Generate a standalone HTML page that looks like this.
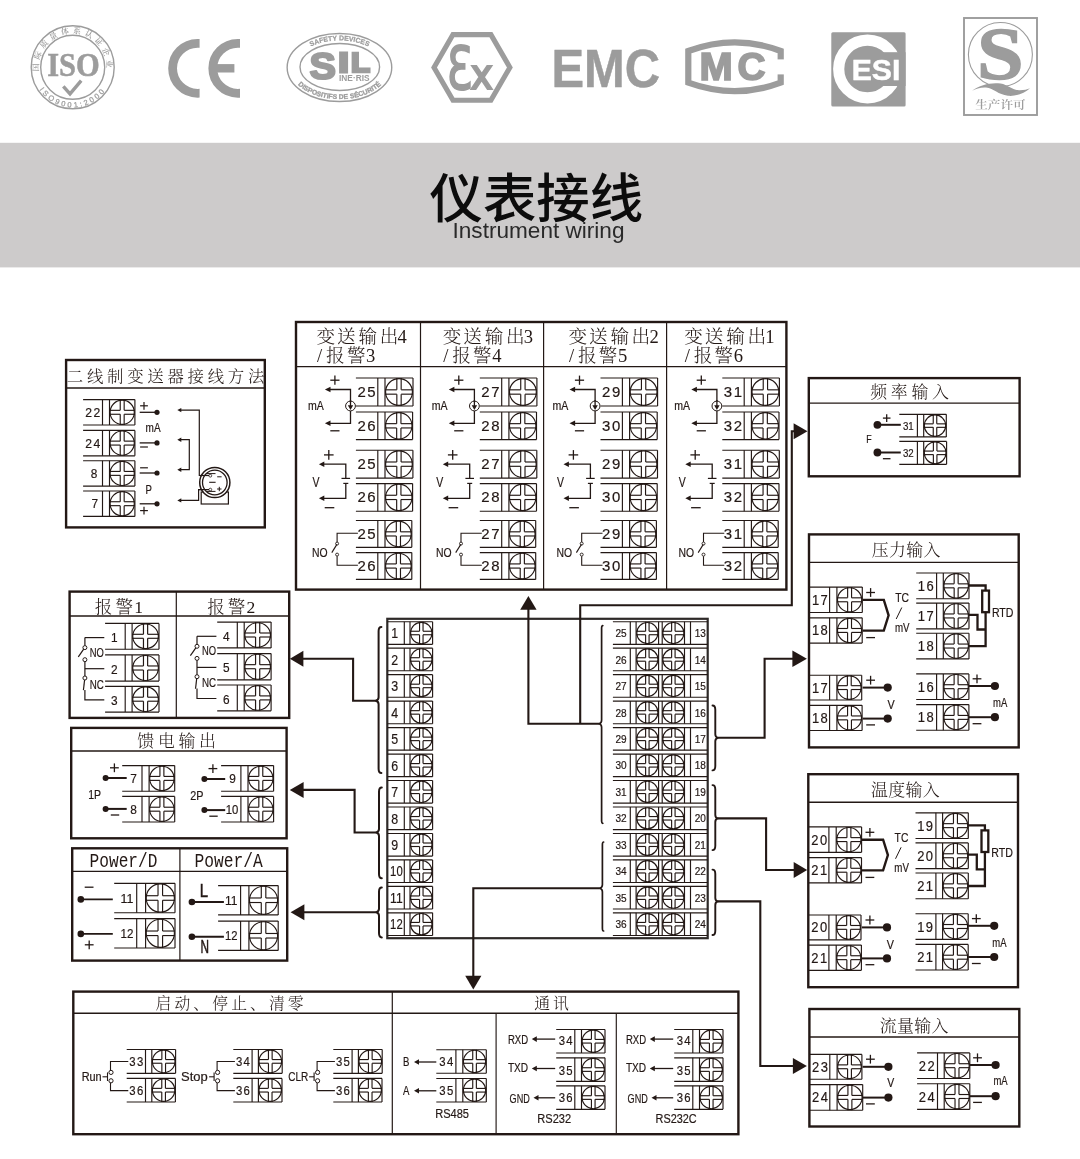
<!DOCTYPE html>
<html lang="zh"><head><meta charset="utf-8"><title>仪表接线 Instrument wiring</title>
<style>
html,body{margin:0;padding:0;background:#fff;}
body{width:1080px;height:1159px;overflow:hidden;position:relative;font-family:"Liberation Sans", "Noto Sans CJK SC", sans-serif;}
svg{position:absolute;left:0;top:0;display:block;will-change:transform;}
text{white-space:pre;}
</style></head><body>
<svg width="1080" height="1159" viewBox="0 0 1080 1159">
<rect x="0" y="142.8" width="1080" height="124.6" fill="#cdcbcb"/>
<text x="536.30" y="218.00" font-size="53.5" font-family='"Liberation Sans", "Noto Sans CJK SC", sans-serif' fill="#0c0c0c" text-anchor="middle" textLength="213.50" lengthAdjust="spacingAndGlyphs" font-weight="500" >仪表接线</text>
<text x="538.50" y="237.50" font-size="21.5" font-family='"Liberation Sans", "Noto Sans CJK SC", sans-serif' fill="#2a2a2a" text-anchor="middle" textLength="172.00" lengthAdjust="spacingAndGlyphs" font-weight="300" >Instrument wiring</text>
<g fill="none" stroke="#9c9c9c">
<circle cx="72.7" cy="67.3" r="41.5" stroke-width="1.4"/>
<circle cx="72.7" cy="67.3" r="32" stroke-width="1.4"/>
</g>
<text x="73.50" y="76.30" font-size="34" font-family='"Liberation Serif", "Noto Serif CJK SC", serif' fill="#9c9c9c" text-anchor="middle" textLength="52.50" lengthAdjust="spacingAndGlyphs" font-weight="700" stroke="#9c9c9c" stroke-width="0.5">ISO</text>
<polyline points="63.3,86.3 70,93.8 81.2,80.6" fill="none" stroke="#9c9c9c" stroke-width="3.4"/>
<defs><path id="isoTop" d="M 40.84,78.89 A 33.9,33.9 0 1 1 104.56,78.89"/><path id="isoBot" d="M 33.11,74.28 A 40.2,40.2 0 0 0 112.29,74.28"/></defs>
<text font-size="7.9" font-weight="600" font-family='"Liberation Serif", "Noto Serif CJK SC", serif' fill="#9c9c9c" text-anchor="middle" letter-spacing="3.55"><textPath href="#isoTop" startOffset="50%">国际质量体系认证企业</textPath></text>
<text font-size="7.5" font-family='"Liberation Sans", "Noto Sans CJK SC", sans-serif' fill="#9c9c9c" text-anchor="middle" letter-spacing="2.5" stroke="#9c9c9c" stroke-width="0.25"><textPath href="#isoBot" startOffset="50%">ISO9001:2000</textPath></text>
<defs><clipPath id="ceC"><rect x="160" y="30" width="39.6" height="76"/></clipPath><clipPath id="ceE"><rect x="200" y="30" width="40" height="76"/></clipPath></defs>
<circle cx="197.6" cy="68.3" r="25" fill="none" stroke="#9c9c9c" stroke-width="8.8" clip-path="url(#ceC)"/>
<circle cx="237.8" cy="68.3" r="25" fill="none" stroke="#9c9c9c" stroke-width="8.8" clip-path="url(#ceE)"/>
<rect x="216" y="64.1" width="18.4" height="8.4" fill="#9c9c9c"/>
<ellipse cx="339.45" cy="67.5" rx="52.3" ry="34" fill="none" stroke="#9c9c9c" stroke-width="1.4"/>
<ellipse cx="339.8" cy="66.95" rx="39.8" ry="23.5" fill="none" stroke="#9c9c9c" stroke-width="1.4"/>
<text font-family='"Liberation Sans", "Noto Sans CJK SC", sans-serif' font-weight="700" fill="#9c9c9c" stroke="#9c9c9c" stroke-linejoin="round"><tspan x="309.6" y="79.1" font-size="37" textLength="26.4" lengthAdjust="spacingAndGlyphs" stroke-width="2.2">S</tspan><tspan x="338.6" y="72.2" font-size="27.8" textLength="10.2" lengthAdjust="spacingAndGlyphs" stroke-width="2.8" stroke-linejoin="miter">I</tspan><tspan x="350.9" y="72.2" font-size="27.8" textLength="19" lengthAdjust="spacingAndGlyphs" stroke-width="2.6" stroke-linejoin="miter">L</tspan></text>
<text x="354.30" y="80.70" font-size="8.6" font-family='"Liberation Sans", "Noto Sans CJK SC", sans-serif' fill="#9c9c9c" text-anchor="middle" textLength="30.50" lengthAdjust="spacingAndGlyphs" font-weight="700" >INE·RIS</text>
<defs><path id="silTop" d="M 294.79,72.32 A 45.5,27.2 0 1 1 384.41,72.32"/><path id="silBot" d="M 290.75,62.48 A 49.6,31.2 0 1 0 388.45,62.48"/></defs>
<text font-size="6.9" font-weight="700" font-family='"Liberation Sans", "Noto Sans CJK SC", sans-serif' fill="#9c9c9c" text-anchor="middle" letter-spacing="0" stroke="#9c9c9c" stroke-width="0.25"><textPath href="#silTop" startOffset="50%">SAFETY DEVICES</textPath></text>
<text font-size="6.8" font-weight="700" font-family='"Liberation Sans", "Noto Sans CJK SC", sans-serif' fill="#9c9c9c" text-anchor="middle" letter-spacing="0" stroke="#9c9c9c" stroke-width="0.3"><textPath href="#silBot" startOffset="50%">DISPOSITIFS DE SÉCURITÉ</textPath></text>
<polygon points="434.02,67.45 452.98,34.60 490.91,34.60 509.88,67.45 490.91,100.30 452.99,100.30" fill="none" stroke="#9c9c9c" stroke-width="5.1"/>
<text font-family='"DejaVu Sans", "Liberation Sans", sans-serif' fill="#9c9c9c" stroke="#9c9c9c"><tspan x="446.7" y="89" font-size="59" textLength="25.5" lengthAdjust="spacingAndGlyphs" stroke-width="2">Ɛ</tspan><tspan x="470.6" y="89" font-size="42" textLength="22.4" lengthAdjust="spacingAndGlyphs" stroke-width="2.2">x</tspan></text>
<text x="605.70" y="87.10" font-size="54.3" font-family='"Liberation Sans", "Noto Sans CJK SC", sans-serif' fill="#9c9c9c" text-anchor="middle" textLength="108.60" lengthAdjust="spacingAndGlyphs" font-weight="700" stroke="#9c9c9c" stroke-width="0.5">EMC</text>
<path d="M 688.3,82.7 L 688.3,51 Q 735,33.6 780.7,51 L 780.7,82.7 Q 735,99.7 688.3,82.7 Z" fill="none" stroke="#9c9c9c" stroke-width="6.2"/>
<rect x="770" y="59.4" width="16" height="15" fill="#fff"/>
<text font-family='"Liberation Sans", "Noto Sans CJK SC", sans-serif' font-weight="700" font-size="38.5" fill="#9c9c9c" stroke="#9c9c9c" stroke-width="1.7" text-anchor="middle"><tspan x="716" y="79.8" textLength="33.2" lengthAdjust="spacingAndGlyphs">M</tspan><tspan x="751.4" y="79.8" textLength="28" lengthAdjust="spacingAndGlyphs">C</tspan></text>
<rect x="831.3" y="32.3" width="74.3" height="74.1" rx="1.5" fill="#9c9c9c"/>
<circle cx="867.5" cy="69" r="28.8" fill="none" stroke="#fff" stroke-width="11.2"/>
<rect x="868" y="52.2" width="37.6" height="33.8" fill="#9c9c9c"/>
<text x="876.00" y="80.30" font-size="30" font-family='"Liberation Sans", "Noto Sans CJK SC", sans-serif' fill="#fff" text-anchor="middle" textLength="48.60" lengthAdjust="spacingAndGlyphs" font-weight="700" stroke="#fff" stroke-width="0.5">ESI</text>
<rect x="964" y="18" width="73" height="97" fill="none" stroke="#9c9c9c" stroke-width="1.9"/>
<circle cx="1000.4" cy="54.5" r="32" fill="none" stroke="#9c9c9c" stroke-width="1.1"/>
<text x="1000.40" y="78.90" font-size="73" font-family='"Liberation Serif", "Noto Serif CJK SC", serif' fill="#9c9c9c" text-anchor="middle" textLength="46.60" lengthAdjust="spacingAndGlyphs" font-weight="700" stroke="#9c9c9c" stroke-width="1.4">S</text>
<path d="M 972.1,90.7 C 980,85 990,82.2 1000.6,83.4 C 1008,84.6 1012,90 1019,90.2 C 1024,90.3 1027,89.5 1030,88.3 C 1024,93.5 1016,96.5 1008,95.8 C 998,94.8 994,88.5 986,87.6 C 981,87.2 976,88.8 972.1,90.7 Z" fill="#9c9c9c"/>
<text x="1000.50" y="109.00" font-size="11.8" font-family='"Liberation Serif", "Noto Serif CJK SC", serif' fill="#9c9c9c" text-anchor="middle" textLength="50.50" lengthAdjust="spacingAndGlyphs" font-weight="600" >生产许可</text>
<rect x="66.10" y="360.00" width="198.70" height="167.40" fill="none" stroke="#231815" stroke-width="2.4"/>
<line x1="66.10" y1="388.00" x2="264.80" y2="388.00" stroke="#231815" stroke-width="1.4" />
<text x="165.60" y="382.30" font-size="16.4" font-family='"Liberation Serif", "Noto Serif CJK SC", serif' fill="#231815" text-anchor="middle" font-weight="300" textLength="197.50" lengthAdjust="spacing">二线制变送器接线方法</text>
<line x1="83.10" y1="399.60" x2="134.90" y2="399.60" stroke="#231815" stroke-width="1.15" />
<line x1="83.10" y1="425.00" x2="134.90" y2="425.00" stroke="#231815" stroke-width="1.15" />
<line x1="102.50" y1="399.60" x2="102.50" y2="425.00" stroke="#231815" stroke-width="1.15" />
<line x1="109.50" y1="399.60" x2="109.50" y2="425.00" stroke="#231815" stroke-width="1.15" />
<line x1="134.90" y1="399.60" x2="134.90" y2="425.00" stroke="#231815" stroke-width="1.15" />
<circle cx="122.20" cy="412.30" r="12.10" fill="none" stroke="#231815" stroke-width="1.15"/>
<line x1="109.50" y1="410.33" x2="120.23" y2="410.33" stroke="#231815" stroke-width="1.15" />
<line x1="124.17" y1="410.33" x2="134.90" y2="410.33" stroke="#231815" stroke-width="1.15" />
<line x1="120.23" y1="399.60" x2="120.23" y2="410.33" stroke="#231815" stroke-width="1.15" />
<line x1="120.23" y1="414.27" x2="120.23" y2="425.00" stroke="#231815" stroke-width="1.15" />
<line x1="109.50" y1="414.27" x2="120.23" y2="414.27" stroke="#231815" stroke-width="1.15" />
<line x1="124.17" y1="414.27" x2="134.90" y2="414.27" stroke="#231815" stroke-width="1.15" />
<line x1="124.17" y1="399.60" x2="124.17" y2="410.33" stroke="#231815" stroke-width="1.15" />
<line x1="124.17" y1="414.27" x2="124.17" y2="425.00" stroke="#231815" stroke-width="1.15" />
<text x="93.47" y="417.09" font-size="13.3" font-family='"Liberation Sans", "Noto Sans CJK SC", sans-serif' fill="#231815" text-anchor="middle" textLength="16.20" lengthAdjust="spacingAndGlyphs" letter-spacing="1.46"  stroke="#231815" stroke-width="0.2">22</text>
<line x1="83.10" y1="430.40" x2="134.90" y2="430.40" stroke="#231815" stroke-width="1.15" />
<line x1="83.10" y1="455.80" x2="134.90" y2="455.80" stroke="#231815" stroke-width="1.15" />
<line x1="102.50" y1="430.40" x2="102.50" y2="455.80" stroke="#231815" stroke-width="1.15" />
<line x1="109.50" y1="430.40" x2="109.50" y2="455.80" stroke="#231815" stroke-width="1.15" />
<line x1="134.90" y1="430.40" x2="134.90" y2="455.80" stroke="#231815" stroke-width="1.15" />
<circle cx="122.20" cy="443.10" r="12.10" fill="none" stroke="#231815" stroke-width="1.15"/>
<line x1="109.50" y1="441.13" x2="120.23" y2="441.13" stroke="#231815" stroke-width="1.15" />
<line x1="124.17" y1="441.13" x2="134.90" y2="441.13" stroke="#231815" stroke-width="1.15" />
<line x1="120.23" y1="430.40" x2="120.23" y2="441.13" stroke="#231815" stroke-width="1.15" />
<line x1="120.23" y1="445.07" x2="120.23" y2="455.80" stroke="#231815" stroke-width="1.15" />
<line x1="109.50" y1="445.07" x2="120.23" y2="445.07" stroke="#231815" stroke-width="1.15" />
<line x1="124.17" y1="445.07" x2="134.90" y2="445.07" stroke="#231815" stroke-width="1.15" />
<line x1="124.17" y1="430.40" x2="124.17" y2="441.13" stroke="#231815" stroke-width="1.15" />
<line x1="124.17" y1="445.07" x2="124.17" y2="455.80" stroke="#231815" stroke-width="1.15" />
<text x="93.47" y="447.89" font-size="13.3" font-family='"Liberation Sans", "Noto Sans CJK SC", sans-serif' fill="#231815" text-anchor="middle" textLength="16.20" lengthAdjust="spacingAndGlyphs" letter-spacing="1.46"  stroke="#231815" stroke-width="0.2">24</text>
<line x1="83.10" y1="460.70" x2="134.90" y2="460.70" stroke="#231815" stroke-width="1.15" />
<line x1="83.10" y1="486.10" x2="134.90" y2="486.10" stroke="#231815" stroke-width="1.15" />
<line x1="102.50" y1="460.70" x2="102.50" y2="486.10" stroke="#231815" stroke-width="1.15" />
<line x1="109.50" y1="460.70" x2="109.50" y2="486.10" stroke="#231815" stroke-width="1.15" />
<line x1="134.90" y1="460.70" x2="134.90" y2="486.10" stroke="#231815" stroke-width="1.15" />
<circle cx="122.20" cy="473.40" r="12.10" fill="none" stroke="#231815" stroke-width="1.15"/>
<line x1="109.50" y1="471.43" x2="120.23" y2="471.43" stroke="#231815" stroke-width="1.15" />
<line x1="124.17" y1="471.43" x2="134.90" y2="471.43" stroke="#231815" stroke-width="1.15" />
<line x1="120.23" y1="460.70" x2="120.23" y2="471.43" stroke="#231815" stroke-width="1.15" />
<line x1="120.23" y1="475.37" x2="120.23" y2="486.10" stroke="#231815" stroke-width="1.15" />
<line x1="109.50" y1="475.37" x2="120.23" y2="475.37" stroke="#231815" stroke-width="1.15" />
<line x1="124.17" y1="475.37" x2="134.90" y2="475.37" stroke="#231815" stroke-width="1.15" />
<line x1="124.17" y1="460.70" x2="124.17" y2="471.43" stroke="#231815" stroke-width="1.15" />
<line x1="124.17" y1="475.37" x2="124.17" y2="486.10" stroke="#231815" stroke-width="1.15" />
<text x="94.00" y="478.19" font-size="13.3" font-family='"Liberation Sans", "Noto Sans CJK SC", sans-serif' fill="#231815" text-anchor="middle" textLength="6.60" lengthAdjust="spacingAndGlyphs"  stroke="#231815" stroke-width="0.2">8</text>
<line x1="83.10" y1="491.00" x2="134.90" y2="491.00" stroke="#231815" stroke-width="1.15" />
<line x1="83.10" y1="516.40" x2="134.90" y2="516.40" stroke="#231815" stroke-width="1.15" />
<line x1="102.50" y1="491.00" x2="102.50" y2="516.40" stroke="#231815" stroke-width="1.15" />
<line x1="109.50" y1="491.00" x2="109.50" y2="516.40" stroke="#231815" stroke-width="1.15" />
<line x1="134.90" y1="491.00" x2="134.90" y2="516.40" stroke="#231815" stroke-width="1.15" />
<circle cx="122.20" cy="503.70" r="12.10" fill="none" stroke="#231815" stroke-width="1.15"/>
<line x1="109.50" y1="501.73" x2="120.23" y2="501.73" stroke="#231815" stroke-width="1.15" />
<line x1="124.17" y1="501.73" x2="134.90" y2="501.73" stroke="#231815" stroke-width="1.15" />
<line x1="120.23" y1="491.00" x2="120.23" y2="501.73" stroke="#231815" stroke-width="1.15" />
<line x1="120.23" y1="505.67" x2="120.23" y2="516.40" stroke="#231815" stroke-width="1.15" />
<line x1="109.50" y1="505.67" x2="120.23" y2="505.67" stroke="#231815" stroke-width="1.15" />
<line x1="124.17" y1="505.67" x2="134.90" y2="505.67" stroke="#231815" stroke-width="1.15" />
<line x1="124.17" y1="491.00" x2="124.17" y2="501.73" stroke="#231815" stroke-width="1.15" />
<line x1="124.17" y1="505.67" x2="124.17" y2="516.40" stroke="#231815" stroke-width="1.15" />
<text x="94.70" y="508.49" font-size="13.3" font-family='"Liberation Sans", "Noto Sans CJK SC", sans-serif' fill="#231815" text-anchor="middle" textLength="6.60" lengthAdjust="spacingAndGlyphs"  stroke="#231815" stroke-width="0.2">7</text>
<line x1="139.70" y1="412.30" x2="157.00" y2="412.30" stroke="#231815" stroke-width="1.3" />
<circle cx="157.00" cy="412.30" r="2.60" fill="#231815"/>
<line x1="139.70" y1="442.90" x2="157.00" y2="442.90" stroke="#231815" stroke-width="1.3" />
<circle cx="157.00" cy="442.90" r="2.60" fill="#231815"/>
<line x1="139.70" y1="473.00" x2="157.00" y2="473.00" stroke="#231815" stroke-width="1.3" />
<circle cx="157.00" cy="473.00" r="2.60" fill="#231815"/>
<line x1="139.70" y1="503.80" x2="157.00" y2="503.80" stroke="#231815" stroke-width="1.3" />
<circle cx="157.00" cy="503.80" r="2.60" fill="#231815"/>
<line x1="140.10" y1="405.80" x2="147.90" y2="405.80" stroke="#231815" stroke-width="1.2" />
<line x1="144.00" y1="401.90" x2="144.00" y2="409.70" stroke="#231815" stroke-width="1.2" />
<line x1="140.10" y1="447.00" x2="147.90" y2="447.00" stroke="#231815" stroke-width="1.2" />
<line x1="140.10" y1="467.80" x2="147.90" y2="467.80" stroke="#231815" stroke-width="1.2" />
<line x1="140.10" y1="510.60" x2="147.90" y2="510.60" stroke="#231815" stroke-width="1.2" />
<line x1="144.00" y1="506.70" x2="144.00" y2="514.50" stroke="#231815" stroke-width="1.2" />
<text x="145.60" y="431.70" font-size="13.3" font-family='"Liberation Sans", "Noto Sans CJK SC", sans-serif' fill="#231815" textLength="15.00" lengthAdjust="spacingAndGlyphs"  stroke="#231815" stroke-width="0.2">mA</text>
<text x="145.50" y="494.40" font-size="13" font-family='"Liberation Sans", "Noto Sans CJK SC", sans-serif' fill="#231815" textLength="6.40" lengthAdjust="spacingAndGlyphs"  stroke="#231815" stroke-width="0.2">P</text>
<polyline points="180.00,410.10 199.30,410.10 199.30,475.50 210.00,475.50" fill="none" stroke="#231815" stroke-width="1.2" />
<polygon points="177.30,410.10 181.30,407.90 181.30,412.30" fill="#231815"/>
<polyline points="180.00,439.70 189.30,439.70 189.30,469.70 180.00,469.70" fill="none" stroke="#231815" stroke-width="1.2" />
<polygon points="177.30,439.70 181.30,437.50 181.30,441.90" fill="#231815"/>
<polygon points="177.30,469.70 181.30,467.50 181.30,471.90" fill="#231815"/>
<polyline points="180.00,500.40 198.60,500.40 198.60,489.60 210.00,489.60" fill="none" stroke="#231815" stroke-width="1.2" />
<polygon points="177.30,500.40 181.30,498.20 181.30,502.60" fill="#231815"/>
<rect x="201.20" y="492.00" width="27.20" height="12.00" fill="#fff" stroke="#231815" stroke-width="1.2"/>
<circle cx="214.8" cy="482.5" r="15.1" fill="#fff" stroke="#231815" stroke-width="1.5"/>
<circle cx="214.80" cy="482.50" r="12.30" fill="none" stroke="#231815" stroke-width="1.3"/>
<circle cx="210.30" cy="475.70" r="1.40" fill="none" stroke="#231815" stroke-width="0.8"/>
<circle cx="210.30" cy="489.60" r="1.40" fill="none" stroke="#231815" stroke-width="0.8"/>
<line x1="199.30" y1="475.50" x2="209.00" y2="475.50" stroke="#231815" stroke-width="1.2" />
<line x1="198.60" y1="489.60" x2="209.00" y2="489.60" stroke="#231815" stroke-width="1.2" />
<line x1="206.00" y1="473.60" x2="215.50" y2="473.60" stroke="#231815" stroke-width="1" />
<line x1="206.00" y1="491.40" x2="215.50" y2="491.40" stroke="#231815" stroke-width="1" />
<line x1="217.20" y1="476.80" x2="221.60" y2="476.80" stroke="#231815" stroke-width="1" />
<line x1="209.20" y1="482.30" x2="215.60" y2="482.30" stroke="#231815" stroke-width="1.1" />
<line x1="217.10" y1="489.00" x2="221.50" y2="489.00" stroke="#231815" stroke-width="1" />
<line x1="219.30" y1="486.80" x2="219.30" y2="491.20" stroke="#231815" stroke-width="1" />
<rect x="69.60" y="591.60" width="219.60" height="126.30" fill="none" stroke="#231815" stroke-width="2.4"/>
<line x1="69.60" y1="616.00" x2="289.20" y2="616.00" stroke="#231815" stroke-width="1.4" />
<line x1="176.30" y1="591.60" x2="176.30" y2="717.90" stroke="#231815" stroke-width="1.2" />
<text x="94.8 115.4 134.2" y="612.9" font-size="17.6" font-weight="300" font-family='"Liberation Serif", "Noto Serif CJK SC", serif' fill="#231815">报警1</text>
<text x="207.2 227.8 246.6" y="612.9" font-size="17.6" font-weight="300" font-family='"Liberation Serif", "Noto Serif CJK SC", serif' fill="#231815">报警2</text>
<line x1="105.10" y1="623.40" x2="159.00" y2="623.40" stroke="#231815" stroke-width="1.15" />
<line x1="105.10" y1="649.20" x2="159.00" y2="649.20" stroke="#231815" stroke-width="1.15" />
<line x1="125.20" y1="623.40" x2="125.20" y2="649.20" stroke="#231815" stroke-width="1.15" />
<line x1="132.10" y1="623.40" x2="132.10" y2="649.20" stroke="#231815" stroke-width="1.15" />
<line x1="159.00" y1="623.40" x2="159.00" y2="649.20" stroke="#231815" stroke-width="1.15" />
<g transform="translate(145.55,636.30) scale(1.0426,1) translate(-145.55,-636.30)">
<circle cx="145.55" cy="636.30" r="12.30" fill="none" stroke="#231815" stroke-width="1.15"/>
<line x1="132.65" y1="634.30" x2="143.55" y2="634.30" stroke="#231815" stroke-width="1.15" />
<line x1="147.55" y1="634.30" x2="158.45" y2="634.30" stroke="#231815" stroke-width="1.15" />
<line x1="143.55" y1="623.40" x2="143.55" y2="634.30" stroke="#231815" stroke-width="1.15" />
<line x1="143.55" y1="638.30" x2="143.55" y2="649.20" stroke="#231815" stroke-width="1.15" />
<line x1="132.65" y1="638.30" x2="143.55" y2="638.30" stroke="#231815" stroke-width="1.15" />
<line x1="147.55" y1="638.30" x2="158.45" y2="638.30" stroke="#231815" stroke-width="1.15" />
<line x1="147.55" y1="623.40" x2="147.55" y2="634.30" stroke="#231815" stroke-width="1.15" />
<line x1="147.55" y1="638.30" x2="147.55" y2="649.20" stroke="#231815" stroke-width="1.15" />
</g>
<text x="114.25" y="641.99" font-size="13.3" font-family='"Liberation Sans", "Noto Sans CJK SC", sans-serif' fill="#231815" text-anchor="middle" textLength="6.60" lengthAdjust="spacingAndGlyphs"  stroke="#231815" stroke-width="0.2">1</text>
<line x1="105.10" y1="654.90" x2="159.00" y2="654.90" stroke="#231815" stroke-width="1.15" />
<line x1="105.10" y1="681.10" x2="159.00" y2="681.10" stroke="#231815" stroke-width="1.15" />
<line x1="125.20" y1="654.90" x2="125.20" y2="681.10" stroke="#231815" stroke-width="1.15" />
<line x1="132.10" y1="654.90" x2="132.10" y2="681.10" stroke="#231815" stroke-width="1.15" />
<line x1="159.00" y1="654.90" x2="159.00" y2="681.10" stroke="#231815" stroke-width="1.15" />
<g transform="translate(145.55,668.00) scale(1.0267,1) translate(-145.55,-668.00)">
<circle cx="145.55" cy="668.00" r="12.50" fill="none" stroke="#231815" stroke-width="1.15"/>
<line x1="132.45" y1="665.97" x2="143.52" y2="665.97" stroke="#231815" stroke-width="1.15" />
<line x1="147.58" y1="665.97" x2="158.65" y2="665.97" stroke="#231815" stroke-width="1.15" />
<line x1="143.52" y1="654.90" x2="143.52" y2="665.97" stroke="#231815" stroke-width="1.15" />
<line x1="143.52" y1="670.03" x2="143.52" y2="681.10" stroke="#231815" stroke-width="1.15" />
<line x1="132.45" y1="670.03" x2="143.52" y2="670.03" stroke="#231815" stroke-width="1.15" />
<line x1="147.58" y1="670.03" x2="158.65" y2="670.03" stroke="#231815" stroke-width="1.15" />
<line x1="147.58" y1="654.90" x2="147.58" y2="665.97" stroke="#231815" stroke-width="1.15" />
<line x1="147.58" y1="670.03" x2="147.58" y2="681.10" stroke="#231815" stroke-width="1.15" />
</g>
<text x="114.25" y="673.69" font-size="13.3" font-family='"Liberation Sans", "Noto Sans CJK SC", sans-serif' fill="#231815" text-anchor="middle" textLength="6.60" lengthAdjust="spacingAndGlyphs"  stroke="#231815" stroke-width="0.2">2</text>
<line x1="105.10" y1="686.30" x2="159.00" y2="686.30" stroke="#231815" stroke-width="1.15" />
<line x1="105.10" y1="712.10" x2="159.00" y2="712.10" stroke="#231815" stroke-width="1.15" />
<line x1="125.20" y1="686.30" x2="125.20" y2="712.10" stroke="#231815" stroke-width="1.15" />
<line x1="132.10" y1="686.30" x2="132.10" y2="712.10" stroke="#231815" stroke-width="1.15" />
<line x1="159.00" y1="686.30" x2="159.00" y2="712.10" stroke="#231815" stroke-width="1.15" />
<g transform="translate(145.55,699.20) scale(1.0426,1) translate(-145.55,-699.20)">
<circle cx="145.55" cy="699.20" r="12.30" fill="none" stroke="#231815" stroke-width="1.15"/>
<line x1="132.65" y1="697.20" x2="143.55" y2="697.20" stroke="#231815" stroke-width="1.15" />
<line x1="147.55" y1="697.20" x2="158.45" y2="697.20" stroke="#231815" stroke-width="1.15" />
<line x1="143.55" y1="686.30" x2="143.55" y2="697.20" stroke="#231815" stroke-width="1.15" />
<line x1="143.55" y1="701.20" x2="143.55" y2="712.10" stroke="#231815" stroke-width="1.15" />
<line x1="132.65" y1="701.20" x2="143.55" y2="701.20" stroke="#231815" stroke-width="1.15" />
<line x1="147.55" y1="701.20" x2="158.45" y2="701.20" stroke="#231815" stroke-width="1.15" />
<line x1="147.55" y1="686.30" x2="147.55" y2="697.20" stroke="#231815" stroke-width="1.15" />
<line x1="147.55" y1="701.20" x2="147.55" y2="712.10" stroke="#231815" stroke-width="1.15" />
</g>
<text x="114.25" y="704.89" font-size="13.3" font-family='"Liberation Sans", "Noto Sans CJK SC", sans-serif' fill="#231815" text-anchor="middle" textLength="6.60" lengthAdjust="spacingAndGlyphs"  stroke="#231815" stroke-width="0.2">3</text>
<line x1="84.90" y1="637.60" x2="104.30" y2="637.60" stroke="#231815" stroke-width="1.2" />
<line x1="84.90" y1="637.60" x2="84.90" y2="645.60" stroke="#231815" stroke-width="1.2" />
<circle cx="84.90" cy="647.60" r="2.00" fill="none" stroke="#231815" stroke-width="1"/>
<line x1="83.70" y1="649.20" x2="78.30" y2="656.90" stroke="#231815" stroke-width="1.2" />
<circle cx="84.90" cy="659.70" r="2.00" fill="none" stroke="#231815" stroke-width="1"/>
<line x1="84.90" y1="661.70" x2="84.90" y2="676.00" stroke="#231815" stroke-width="1.2" />
<line x1="84.90" y1="668.70" x2="104.30" y2="668.70" stroke="#231815" stroke-width="1.2" />
<circle cx="84.90" cy="678.00" r="2.00" fill="none" stroke="#231815" stroke-width="1"/>
<line x1="84.60" y1="680.00" x2="83.40" y2="690.10" stroke="#231815" stroke-width="1.2" />
<polyline points="84.90,689.90 84.90,699.80 104.30,699.80" fill="none" stroke="#231815" stroke-width="1.2" />
<text x="89.80" y="656.50" font-size="13" font-family='"Liberation Sans", "Noto Sans CJK SC", sans-serif' fill="#231815" textLength="14.10" lengthAdjust="spacingAndGlyphs"  stroke="#231815" stroke-width="0.2">NO</text>
<text x="89.80" y="688.70" font-size="13" font-family='"Liberation Sans", "Noto Sans CJK SC", sans-serif' fill="#231815" textLength="14.10" lengthAdjust="spacingAndGlyphs"  stroke="#231815" stroke-width="0.2">NC</text>
<line x1="217.20" y1="622.10" x2="271.10" y2="622.10" stroke="#231815" stroke-width="1.15" />
<line x1="217.20" y1="647.90" x2="271.10" y2="647.90" stroke="#231815" stroke-width="1.15" />
<line x1="237.30" y1="622.10" x2="237.30" y2="647.90" stroke="#231815" stroke-width="1.15" />
<line x1="244.20" y1="622.10" x2="244.20" y2="647.90" stroke="#231815" stroke-width="1.15" />
<line x1="271.10" y1="622.10" x2="271.10" y2="647.90" stroke="#231815" stroke-width="1.15" />
<g transform="translate(257.65,635.00) scale(1.0426,1) translate(-257.65,-635.00)">
<circle cx="257.65" cy="635.00" r="12.30" fill="none" stroke="#231815" stroke-width="1.15"/>
<line x1="244.75" y1="633.00" x2="255.65" y2="633.00" stroke="#231815" stroke-width="1.15" />
<line x1="259.65" y1="633.00" x2="270.55" y2="633.00" stroke="#231815" stroke-width="1.15" />
<line x1="255.65" y1="622.10" x2="255.65" y2="633.00" stroke="#231815" stroke-width="1.15" />
<line x1="255.65" y1="637.00" x2="255.65" y2="647.90" stroke="#231815" stroke-width="1.15" />
<line x1="244.75" y1="637.00" x2="255.65" y2="637.00" stroke="#231815" stroke-width="1.15" />
<line x1="259.65" y1="637.00" x2="270.55" y2="637.00" stroke="#231815" stroke-width="1.15" />
<line x1="259.65" y1="622.10" x2="259.65" y2="633.00" stroke="#231815" stroke-width="1.15" />
<line x1="259.65" y1="637.00" x2="259.65" y2="647.90" stroke="#231815" stroke-width="1.15" />
</g>
<text x="226.35" y="640.69" font-size="13.3" font-family='"Liberation Sans", "Noto Sans CJK SC", sans-serif' fill="#231815" text-anchor="middle" textLength="6.60" lengthAdjust="spacingAndGlyphs"  stroke="#231815" stroke-width="0.2">4</text>
<line x1="217.20" y1="653.60" x2="271.10" y2="653.60" stroke="#231815" stroke-width="1.15" />
<line x1="217.20" y1="679.80" x2="271.10" y2="679.80" stroke="#231815" stroke-width="1.15" />
<line x1="237.30" y1="653.60" x2="237.30" y2="679.80" stroke="#231815" stroke-width="1.15" />
<line x1="244.20" y1="653.60" x2="244.20" y2="679.80" stroke="#231815" stroke-width="1.15" />
<line x1="271.10" y1="653.60" x2="271.10" y2="679.80" stroke="#231815" stroke-width="1.15" />
<g transform="translate(257.65,666.70) scale(1.0267,1) translate(-257.65,-666.70)">
<circle cx="257.65" cy="666.70" r="12.50" fill="none" stroke="#231815" stroke-width="1.15"/>
<line x1="244.55" y1="664.67" x2="255.62" y2="664.67" stroke="#231815" stroke-width="1.15" />
<line x1="259.68" y1="664.67" x2="270.75" y2="664.67" stroke="#231815" stroke-width="1.15" />
<line x1="255.62" y1="653.60" x2="255.62" y2="664.67" stroke="#231815" stroke-width="1.15" />
<line x1="255.62" y1="668.73" x2="255.62" y2="679.80" stroke="#231815" stroke-width="1.15" />
<line x1="244.55" y1="668.73" x2="255.62" y2="668.73" stroke="#231815" stroke-width="1.15" />
<line x1="259.68" y1="668.73" x2="270.75" y2="668.73" stroke="#231815" stroke-width="1.15" />
<line x1="259.68" y1="653.60" x2="259.68" y2="664.67" stroke="#231815" stroke-width="1.15" />
<line x1="259.68" y1="668.73" x2="259.68" y2="679.80" stroke="#231815" stroke-width="1.15" />
</g>
<text x="226.35" y="672.39" font-size="13.3" font-family='"Liberation Sans", "Noto Sans CJK SC", sans-serif' fill="#231815" text-anchor="middle" textLength="6.60" lengthAdjust="spacingAndGlyphs"  stroke="#231815" stroke-width="0.2">5</text>
<line x1="217.20" y1="685.00" x2="271.10" y2="685.00" stroke="#231815" stroke-width="1.15" />
<line x1="217.20" y1="710.80" x2="271.10" y2="710.80" stroke="#231815" stroke-width="1.15" />
<line x1="237.30" y1="685.00" x2="237.30" y2="710.80" stroke="#231815" stroke-width="1.15" />
<line x1="244.20" y1="685.00" x2="244.20" y2="710.80" stroke="#231815" stroke-width="1.15" />
<line x1="271.10" y1="685.00" x2="271.10" y2="710.80" stroke="#231815" stroke-width="1.15" />
<g transform="translate(257.65,697.90) scale(1.0426,1) translate(-257.65,-697.90)">
<circle cx="257.65" cy="697.90" r="12.30" fill="none" stroke="#231815" stroke-width="1.15"/>
<line x1="244.75" y1="695.90" x2="255.65" y2="695.90" stroke="#231815" stroke-width="1.15" />
<line x1="259.65" y1="695.90" x2="270.55" y2="695.90" stroke="#231815" stroke-width="1.15" />
<line x1="255.65" y1="685.00" x2="255.65" y2="695.90" stroke="#231815" stroke-width="1.15" />
<line x1="255.65" y1="699.90" x2="255.65" y2="710.80" stroke="#231815" stroke-width="1.15" />
<line x1="244.75" y1="699.90" x2="255.65" y2="699.90" stroke="#231815" stroke-width="1.15" />
<line x1="259.65" y1="699.90" x2="270.55" y2="699.90" stroke="#231815" stroke-width="1.15" />
<line x1="259.65" y1="685.00" x2="259.65" y2="695.90" stroke="#231815" stroke-width="1.15" />
<line x1="259.65" y1="699.90" x2="259.65" y2="710.80" stroke="#231815" stroke-width="1.15" />
</g>
<text x="226.35" y="703.59" font-size="13.3" font-family='"Liberation Sans", "Noto Sans CJK SC", sans-serif' fill="#231815" text-anchor="middle" textLength="6.60" lengthAdjust="spacingAndGlyphs"  stroke="#231815" stroke-width="0.2">6</text>
<line x1="197.00" y1="636.30" x2="216.40" y2="636.30" stroke="#231815" stroke-width="1.2" />
<line x1="197.00" y1="636.30" x2="197.00" y2="644.30" stroke="#231815" stroke-width="1.2" />
<circle cx="197.00" cy="646.30" r="2.00" fill="none" stroke="#231815" stroke-width="1"/>
<line x1="195.80" y1="647.90" x2="190.40" y2="655.60" stroke="#231815" stroke-width="1.2" />
<circle cx="197.00" cy="658.40" r="2.00" fill="none" stroke="#231815" stroke-width="1"/>
<line x1="197.00" y1="660.40" x2="197.00" y2="674.70" stroke="#231815" stroke-width="1.2" />
<line x1="197.00" y1="667.40" x2="216.40" y2="667.40" stroke="#231815" stroke-width="1.2" />
<circle cx="197.00" cy="676.70" r="2.00" fill="none" stroke="#231815" stroke-width="1"/>
<line x1="196.70" y1="678.70" x2="195.50" y2="688.80" stroke="#231815" stroke-width="1.2" />
<polyline points="197.00,688.60 197.00,698.50 216.40,698.50" fill="none" stroke="#231815" stroke-width="1.2" />
<text x="201.90" y="655.20" font-size="13" font-family='"Liberation Sans", "Noto Sans CJK SC", sans-serif' fill="#231815" textLength="14.10" lengthAdjust="spacingAndGlyphs"  stroke="#231815" stroke-width="0.2">NO</text>
<text x="201.90" y="687.40" font-size="13" font-family='"Liberation Sans", "Noto Sans CJK SC", sans-serif' fill="#231815" textLength="14.10" lengthAdjust="spacingAndGlyphs"  stroke="#231815" stroke-width="0.2">NC</text>
<rect x="71.20" y="727.90" width="215.40" height="110.40" fill="none" stroke="#231815" stroke-width="2.4"/>
<line x1="71.20" y1="751.00" x2="286.60" y2="751.00" stroke="#231815" stroke-width="1.4" />
<text x="176.60" y="746.60" font-size="16.9" font-family='"Liberation Serif", "Noto Serif CJK SC", serif' fill="#231815" text-anchor="middle" font-weight="300" textLength="78.50" lengthAdjust="spacing">馈电输出</text>
<line x1="122.20" y1="765.60" x2="174.70" y2="765.60" stroke="#231815" stroke-width="1.15" />
<line x1="122.20" y1="791.20" x2="174.70" y2="791.20" stroke="#231815" stroke-width="1.15" />
<line x1="142.00" y1="765.60" x2="142.00" y2="791.20" stroke="#231815" stroke-width="1.15" />
<line x1="149.10" y1="765.60" x2="149.10" y2="791.20" stroke="#231815" stroke-width="1.15" />
<line x1="174.70" y1="765.60" x2="174.70" y2="791.20" stroke="#231815" stroke-width="1.15" />
<circle cx="161.90" cy="778.40" r="12.20" fill="none" stroke="#231815" stroke-width="1.15"/>
<line x1="149.10" y1="776.42" x2="159.92" y2="776.42" stroke="#231815" stroke-width="1.15" />
<line x1="163.88" y1="776.42" x2="174.70" y2="776.42" stroke="#231815" stroke-width="1.15" />
<line x1="159.92" y1="765.60" x2="159.92" y2="776.42" stroke="#231815" stroke-width="1.15" />
<line x1="159.92" y1="780.38" x2="159.92" y2="791.20" stroke="#231815" stroke-width="1.15" />
<line x1="149.10" y1="780.38" x2="159.92" y2="780.38" stroke="#231815" stroke-width="1.15" />
<line x1="163.88" y1="780.38" x2="174.70" y2="780.38" stroke="#231815" stroke-width="1.15" />
<line x1="163.88" y1="765.60" x2="163.88" y2="776.42" stroke="#231815" stroke-width="1.15" />
<line x1="163.88" y1="780.38" x2="163.88" y2="791.20" stroke="#231815" stroke-width="1.15" />
<text x="133.60" y="783.39" font-size="13.3" font-family='"Liberation Sans", "Noto Sans CJK SC", sans-serif' fill="#231815" text-anchor="middle" textLength="6.60" lengthAdjust="spacingAndGlyphs"  stroke="#231815" stroke-width="0.2">7</text>
<line x1="122.20" y1="796.40" x2="174.70" y2="796.40" stroke="#231815" stroke-width="1.15" />
<line x1="122.20" y1="822.00" x2="174.70" y2="822.00" stroke="#231815" stroke-width="1.15" />
<line x1="142.00" y1="796.40" x2="142.00" y2="822.00" stroke="#231815" stroke-width="1.15" />
<line x1="149.10" y1="796.40" x2="149.10" y2="822.00" stroke="#231815" stroke-width="1.15" />
<line x1="174.70" y1="796.40" x2="174.70" y2="822.00" stroke="#231815" stroke-width="1.15" />
<circle cx="161.90" cy="809.20" r="12.20" fill="none" stroke="#231815" stroke-width="1.15"/>
<line x1="149.10" y1="807.22" x2="159.92" y2="807.22" stroke="#231815" stroke-width="1.15" />
<line x1="163.88" y1="807.22" x2="174.70" y2="807.22" stroke="#231815" stroke-width="1.15" />
<line x1="159.92" y1="796.40" x2="159.92" y2="807.22" stroke="#231815" stroke-width="1.15" />
<line x1="159.92" y1="811.18" x2="159.92" y2="822.00" stroke="#231815" stroke-width="1.15" />
<line x1="149.10" y1="811.18" x2="159.92" y2="811.18" stroke="#231815" stroke-width="1.15" />
<line x1="163.88" y1="811.18" x2="174.70" y2="811.18" stroke="#231815" stroke-width="1.15" />
<line x1="163.88" y1="796.40" x2="163.88" y2="807.22" stroke="#231815" stroke-width="1.15" />
<line x1="163.88" y1="811.18" x2="163.88" y2="822.00" stroke="#231815" stroke-width="1.15" />
<text x="133.60" y="814.19" font-size="13.3" font-family='"Liberation Sans", "Noto Sans CJK SC", sans-serif' fill="#231815" text-anchor="middle" textLength="6.60" lengthAdjust="spacingAndGlyphs"  stroke="#231815" stroke-width="0.2">8</text>
<line x1="221.10" y1="765.60" x2="273.60" y2="765.60" stroke="#231815" stroke-width="1.15" />
<line x1="221.10" y1="791.20" x2="273.60" y2="791.20" stroke="#231815" stroke-width="1.15" />
<line x1="240.90" y1="765.60" x2="240.90" y2="791.20" stroke="#231815" stroke-width="1.15" />
<line x1="248.00" y1="765.60" x2="248.00" y2="791.20" stroke="#231815" stroke-width="1.15" />
<line x1="273.60" y1="765.60" x2="273.60" y2="791.20" stroke="#231815" stroke-width="1.15" />
<circle cx="260.80" cy="778.40" r="12.20" fill="none" stroke="#231815" stroke-width="1.15"/>
<line x1="248.00" y1="776.42" x2="258.82" y2="776.42" stroke="#231815" stroke-width="1.15" />
<line x1="262.78" y1="776.42" x2="273.60" y2="776.42" stroke="#231815" stroke-width="1.15" />
<line x1="258.82" y1="765.60" x2="258.82" y2="776.42" stroke="#231815" stroke-width="1.15" />
<line x1="258.82" y1="780.38" x2="258.82" y2="791.20" stroke="#231815" stroke-width="1.15" />
<line x1="248.00" y1="780.38" x2="258.82" y2="780.38" stroke="#231815" stroke-width="1.15" />
<line x1="262.78" y1="780.38" x2="273.60" y2="780.38" stroke="#231815" stroke-width="1.15" />
<line x1="262.78" y1="765.60" x2="262.78" y2="776.42" stroke="#231815" stroke-width="1.15" />
<line x1="262.78" y1="780.38" x2="262.78" y2="791.20" stroke="#231815" stroke-width="1.15" />
<text x="232.50" y="783.39" font-size="13.3" font-family='"Liberation Sans", "Noto Sans CJK SC", sans-serif' fill="#231815" text-anchor="middle" textLength="6.60" lengthAdjust="spacingAndGlyphs"  stroke="#231815" stroke-width="0.2">9</text>
<line x1="221.10" y1="796.40" x2="273.60" y2="796.40" stroke="#231815" stroke-width="1.15" />
<line x1="221.10" y1="822.00" x2="273.60" y2="822.00" stroke="#231815" stroke-width="1.15" />
<line x1="240.90" y1="796.40" x2="240.90" y2="822.00" stroke="#231815" stroke-width="1.15" />
<line x1="248.00" y1="796.40" x2="248.00" y2="822.00" stroke="#231815" stroke-width="1.15" />
<line x1="273.60" y1="796.40" x2="273.60" y2="822.00" stroke="#231815" stroke-width="1.15" />
<circle cx="260.80" cy="809.20" r="12.20" fill="none" stroke="#231815" stroke-width="1.15"/>
<line x1="248.00" y1="807.22" x2="258.82" y2="807.22" stroke="#231815" stroke-width="1.15" />
<line x1="262.78" y1="807.22" x2="273.60" y2="807.22" stroke="#231815" stroke-width="1.15" />
<line x1="258.82" y1="796.40" x2="258.82" y2="807.22" stroke="#231815" stroke-width="1.15" />
<line x1="258.82" y1="811.18" x2="258.82" y2="822.00" stroke="#231815" stroke-width="1.15" />
<line x1="248.00" y1="811.18" x2="258.82" y2="811.18" stroke="#231815" stroke-width="1.15" />
<line x1="262.78" y1="811.18" x2="273.60" y2="811.18" stroke="#231815" stroke-width="1.15" />
<line x1="262.78" y1="796.40" x2="262.78" y2="807.22" stroke="#231815" stroke-width="1.15" />
<line x1="262.78" y1="811.18" x2="262.78" y2="822.00" stroke="#231815" stroke-width="1.15" />
<text x="232.00" y="814.19" font-size="13.3" font-family='"Liberation Sans", "Noto Sans CJK SC", sans-serif' fill="#231815" text-anchor="middle" textLength="12.60" lengthAdjust="spacingAndGlyphs"  stroke="#231815" stroke-width="0.2">10</text>
<line x1="105.60" y1="778.00" x2="126.70" y2="778.00" stroke="#231815" stroke-width="2" />
<circle cx="105.60" cy="778.00" r="3.00" fill="#231815"/>
<line x1="105.60" y1="808.90" x2="126.70" y2="808.90" stroke="#231815" stroke-width="2" />
<circle cx="105.60" cy="808.90" r="3.00" fill="#231815"/>
<line x1="204.40" y1="779.00" x2="225.20" y2="779.00" stroke="#231815" stroke-width="2" />
<circle cx="204.40" cy="779.00" r="3.00" fill="#231815"/>
<line x1="204.40" y1="810.10" x2="225.20" y2="810.10" stroke="#231815" stroke-width="2" />
<circle cx="204.40" cy="810.10" r="3.00" fill="#231815"/>
<line x1="110.00" y1="767.80" x2="118.80" y2="767.80" stroke="#231815" stroke-width="1.3" />
<line x1="114.40" y1="763.40" x2="114.40" y2="772.20" stroke="#231815" stroke-width="1.3" />
<line x1="110.80" y1="815.00" x2="119.20" y2="815.00" stroke="#231815" stroke-width="1.3" />
<line x1="208.50" y1="768.60" x2="217.30" y2="768.60" stroke="#231815" stroke-width="1.3" />
<line x1="212.90" y1="764.20" x2="212.90" y2="773.00" stroke="#231815" stroke-width="1.3" />
<line x1="209.30" y1="816.20" x2="217.70" y2="816.20" stroke="#231815" stroke-width="1.3" />
<text x="88.20" y="798.70" font-size="13" font-family='"Liberation Sans", "Noto Sans CJK SC", sans-serif' fill="#231815" textLength="12.90" lengthAdjust="spacingAndGlyphs"  stroke="#231815" stroke-width="0.2">1P</text>
<text x="190.20" y="799.60" font-size="13" font-family='"Liberation Sans", "Noto Sans CJK SC", sans-serif' fill="#231815" textLength="13.20" lengthAdjust="spacingAndGlyphs"  stroke="#231815" stroke-width="0.2">2P</text>
<rect x="72.20" y="848.30" width="215.00" height="112.30" fill="none" stroke="#231815" stroke-width="2.4"/>
<line x1="72.20" y1="871.40" x2="287.20" y2="871.40" stroke="#231815" stroke-width="1.4" />
<line x1="179.90" y1="848.30" x2="179.90" y2="960.60" stroke="#231815" stroke-width="1.2" />
<text x="123.50" y="866.80" font-size="20.3" font-family='"Liberation Mono", "Noto Sans CJK SC", monospace' fill="#231815" text-anchor="middle" textLength="67.80" lengthAdjust="spacingAndGlyphs" >Power/D</text>
<text x="228.70" y="866.80" font-size="20.3" font-family='"Liberation Mono", "Noto Sans CJK SC", monospace' fill="#231815" text-anchor="middle" textLength="68.20" lengthAdjust="spacingAndGlyphs" >Power/A</text>
<line x1="114.20" y1="883.30" x2="175.00" y2="883.30" stroke="#231815" stroke-width="1.15" />
<line x1="114.20" y1="912.70" x2="175.00" y2="912.70" stroke="#231815" stroke-width="1.15" />
<line x1="136.70" y1="883.30" x2="136.70" y2="912.70" stroke="#231815" stroke-width="1.15" />
<line x1="145.60" y1="883.30" x2="145.60" y2="912.70" stroke="#231815" stroke-width="1.15" />
<line x1="175.00" y1="883.30" x2="175.00" y2="912.70" stroke="#231815" stroke-width="1.15" />
<circle cx="160.30" cy="898.00" r="14.10" fill="none" stroke="#231815" stroke-width="1.15"/>
<line x1="145.60" y1="895.72" x2="158.02" y2="895.72" stroke="#231815" stroke-width="1.15" />
<line x1="162.58" y1="895.72" x2="175.00" y2="895.72" stroke="#231815" stroke-width="1.15" />
<line x1="158.02" y1="883.30" x2="158.02" y2="895.72" stroke="#231815" stroke-width="1.15" />
<line x1="158.02" y1="900.28" x2="158.02" y2="912.70" stroke="#231815" stroke-width="1.15" />
<line x1="145.60" y1="900.28" x2="158.02" y2="900.28" stroke="#231815" stroke-width="1.15" />
<line x1="162.58" y1="900.28" x2="175.00" y2="900.28" stroke="#231815" stroke-width="1.15" />
<line x1="162.58" y1="883.30" x2="162.58" y2="895.72" stroke="#231815" stroke-width="1.15" />
<line x1="162.58" y1="900.28" x2="162.58" y2="912.70" stroke="#231815" stroke-width="1.15" />
<text x="126.95" y="902.95" font-size="13.2" font-family='"Liberation Sans", "Noto Sans CJK SC", sans-serif' fill="#231815" text-anchor="middle" textLength="12.90" lengthAdjust="spacingAndGlyphs"  stroke="#231815" stroke-width="0.2">11</text>
<line x1="114.20" y1="918.60" x2="175.00" y2="918.60" stroke="#231815" stroke-width="1.15" />
<line x1="114.20" y1="948.00" x2="175.00" y2="948.00" stroke="#231815" stroke-width="1.15" />
<line x1="136.70" y1="918.60" x2="136.70" y2="948.00" stroke="#231815" stroke-width="1.15" />
<line x1="145.60" y1="918.60" x2="145.60" y2="948.00" stroke="#231815" stroke-width="1.15" />
<line x1="175.00" y1="918.60" x2="175.00" y2="948.00" stroke="#231815" stroke-width="1.15" />
<circle cx="160.30" cy="933.30" r="14.10" fill="none" stroke="#231815" stroke-width="1.15"/>
<line x1="145.60" y1="931.02" x2="158.02" y2="931.02" stroke="#231815" stroke-width="1.15" />
<line x1="162.58" y1="931.02" x2="175.00" y2="931.02" stroke="#231815" stroke-width="1.15" />
<line x1="158.02" y1="918.60" x2="158.02" y2="931.02" stroke="#231815" stroke-width="1.15" />
<line x1="158.02" y1="935.58" x2="158.02" y2="948.00" stroke="#231815" stroke-width="1.15" />
<line x1="145.60" y1="935.58" x2="158.02" y2="935.58" stroke="#231815" stroke-width="1.15" />
<line x1="162.58" y1="935.58" x2="175.00" y2="935.58" stroke="#231815" stroke-width="1.15" />
<line x1="162.58" y1="918.60" x2="162.58" y2="931.02" stroke="#231815" stroke-width="1.15" />
<line x1="162.58" y1="935.58" x2="162.58" y2="948.00" stroke="#231815" stroke-width="1.15" />
<text x="126.95" y="938.25" font-size="13.2" font-family='"Liberation Sans", "Noto Sans CJK SC", sans-serif' fill="#231815" text-anchor="middle" textLength="12.90" lengthAdjust="spacingAndGlyphs"  stroke="#231815" stroke-width="0.2">12</text>
<line x1="80.80" y1="899.40" x2="112.80" y2="899.40" stroke="#231815" stroke-width="1.9" />
<circle cx="80.80" cy="899.40" r="3.30" fill="#231815"/>
<line x1="80.80" y1="933.90" x2="112.80" y2="933.90" stroke="#231815" stroke-width="1.9" />
<circle cx="80.80" cy="933.90" r="3.30" fill="#231815"/>
<line x1="84.70" y1="887.20" x2="93.50" y2="887.20" stroke="#231815" stroke-width="1.3" />
<line x1="84.80" y1="944.80" x2="93.60" y2="944.80" stroke="#231815" stroke-width="1.3" />
<line x1="89.20" y1="940.40" x2="89.20" y2="949.20" stroke="#231815" stroke-width="1.3" />
<line x1="218.10" y1="885.60" x2="278.20" y2="885.60" stroke="#231815" stroke-width="1.15" />
<line x1="218.10" y1="914.90" x2="278.20" y2="914.90" stroke="#231815" stroke-width="1.15" />
<line x1="240.60" y1="885.60" x2="240.60" y2="914.90" stroke="#231815" stroke-width="1.15" />
<line x1="248.90" y1="885.60" x2="248.90" y2="914.90" stroke="#231815" stroke-width="1.15" />
<line x1="278.20" y1="885.60" x2="278.20" y2="914.90" stroke="#231815" stroke-width="1.15" />
<circle cx="263.55" cy="900.25" r="14.05" fill="none" stroke="#231815" stroke-width="1.15"/>
<line x1="248.90" y1="897.98" x2="261.28" y2="897.98" stroke="#231815" stroke-width="1.15" />
<line x1="265.82" y1="897.98" x2="278.20" y2="897.98" stroke="#231815" stroke-width="1.15" />
<line x1="261.28" y1="885.60" x2="261.28" y2="897.98" stroke="#231815" stroke-width="1.15" />
<line x1="261.28" y1="902.52" x2="261.28" y2="914.90" stroke="#231815" stroke-width="1.15" />
<line x1="248.90" y1="902.52" x2="261.28" y2="902.52" stroke="#231815" stroke-width="1.15" />
<line x1="265.82" y1="902.52" x2="278.20" y2="902.52" stroke="#231815" stroke-width="1.15" />
<line x1="265.82" y1="885.60" x2="265.82" y2="897.98" stroke="#231815" stroke-width="1.15" />
<line x1="265.82" y1="902.52" x2="265.82" y2="914.90" stroke="#231815" stroke-width="1.15" />
<text x="231.15" y="904.70" font-size="13.2" font-family='"Liberation Sans", "Noto Sans CJK SC", sans-serif' fill="#231815" text-anchor="middle" textLength="12.50" lengthAdjust="spacingAndGlyphs"  stroke="#231815" stroke-width="0.2">11</text>
<line x1="218.10" y1="921.10" x2="278.20" y2="921.10" stroke="#231815" stroke-width="1.15" />
<line x1="218.10" y1="950.40" x2="278.20" y2="950.40" stroke="#231815" stroke-width="1.15" />
<line x1="240.60" y1="921.10" x2="240.60" y2="950.40" stroke="#231815" stroke-width="1.15" />
<line x1="248.90" y1="921.10" x2="248.90" y2="950.40" stroke="#231815" stroke-width="1.15" />
<line x1="278.20" y1="921.10" x2="278.20" y2="950.40" stroke="#231815" stroke-width="1.15" />
<circle cx="263.55" cy="935.75" r="14.05" fill="none" stroke="#231815" stroke-width="1.15"/>
<line x1="248.90" y1="933.48" x2="261.28" y2="933.48" stroke="#231815" stroke-width="1.15" />
<line x1="265.82" y1="933.48" x2="278.20" y2="933.48" stroke="#231815" stroke-width="1.15" />
<line x1="261.28" y1="921.10" x2="261.28" y2="933.48" stroke="#231815" stroke-width="1.15" />
<line x1="261.28" y1="938.02" x2="261.28" y2="950.40" stroke="#231815" stroke-width="1.15" />
<line x1="248.90" y1="938.02" x2="261.28" y2="938.02" stroke="#231815" stroke-width="1.15" />
<line x1="265.82" y1="938.02" x2="278.20" y2="938.02" stroke="#231815" stroke-width="1.15" />
<line x1="265.82" y1="921.10" x2="265.82" y2="933.48" stroke="#231815" stroke-width="1.15" />
<line x1="265.82" y1="938.02" x2="265.82" y2="950.40" stroke="#231815" stroke-width="1.15" />
<text x="231.15" y="940.20" font-size="13.2" font-family='"Liberation Sans", "Noto Sans CJK SC", sans-serif' fill="#231815" text-anchor="middle" textLength="12.50" lengthAdjust="spacingAndGlyphs"  stroke="#231815" stroke-width="0.2">12</text>
<line x1="191.90" y1="902.00" x2="223.90" y2="902.00" stroke="#231815" stroke-width="1.9" />
<circle cx="191.90" cy="902.00" r="3.30" fill="#231815"/>
<line x1="191.90" y1="936.70" x2="223.90" y2="936.70" stroke="#231815" stroke-width="1.9" />
<circle cx="191.90" cy="936.70" r="3.30" fill="#231815"/>
<text x="199.80" y="896.70" font-size="17.8" font-family='"Liberation Sans", "Noto Sans CJK SC", sans-serif' fill="#231815" textLength="8.30" lengthAdjust="spacingAndGlyphs" stroke="#231815" stroke-width="0.5">L</text>
<text x="200.40" y="953.30" font-size="17.5" font-family='"Liberation Sans", "Noto Sans CJK SC", sans-serif' fill="#231815" textLength="8.50" lengthAdjust="spacingAndGlyphs" stroke="#231815" stroke-width="0.5">N</text>
<rect x="73.30" y="991.60" width="665.10" height="142.60" fill="none" stroke="#231815" stroke-width="2.4"/>
<line x1="73.30" y1="1013.30" x2="738.40" y2="1013.30" stroke="#231815" stroke-width="1.4" />
<line x1="392.30" y1="991.60" x2="392.30" y2="1134.20" stroke="#231815" stroke-width="1.2" />
<text x="229.60" y="1009.20" font-size="15.8" font-family='"Liberation Serif", "Noto Serif CJK SC", serif' fill="#231815" text-anchor="middle" font-weight="300" textLength="148.00" lengthAdjust="spacing">启动、停止、清零</text>
<text x="551.60" y="1009.40" font-size="15.8" font-family='"Liberation Serif", "Noto Serif CJK SC", serif' fill="#231815" text-anchor="middle" font-weight="300" textLength="34.60" lengthAdjust="spacing">通讯</text>
<line x1="496.10" y1="1013.30" x2="496.10" y2="1134.20" stroke="#231815" stroke-width="1.15" />
<line x1="616.30" y1="1013.30" x2="616.30" y2="1134.20" stroke="#231815" stroke-width="1.15" />
<line x1="126.70" y1="1049.50" x2="175.60" y2="1049.50" stroke="#231815" stroke-width="1.15" />
<line x1="126.70" y1="1073.30" x2="175.60" y2="1073.30" stroke="#231815" stroke-width="1.15" />
<line x1="145.50" y1="1049.50" x2="145.50" y2="1073.30" stroke="#231815" stroke-width="1.15" />
<line x1="151.80" y1="1049.50" x2="151.80" y2="1073.30" stroke="#231815" stroke-width="1.15" />
<line x1="175.60" y1="1049.50" x2="175.60" y2="1073.30" stroke="#231815" stroke-width="1.15" />
<circle cx="163.70" cy="1061.40" r="11.30" fill="none" stroke="#231815" stroke-width="1.15"/>
<line x1="151.80" y1="1059.56" x2="161.86" y2="1059.56" stroke="#231815" stroke-width="1.15" />
<line x1="165.54" y1="1059.56" x2="175.60" y2="1059.56" stroke="#231815" stroke-width="1.15" />
<line x1="161.86" y1="1049.50" x2="161.86" y2="1059.56" stroke="#231815" stroke-width="1.15" />
<line x1="161.86" y1="1063.24" x2="161.86" y2="1073.30" stroke="#231815" stroke-width="1.15" />
<line x1="151.80" y1="1063.24" x2="161.86" y2="1063.24" stroke="#231815" stroke-width="1.15" />
<line x1="165.54" y1="1063.24" x2="175.60" y2="1063.24" stroke="#231815" stroke-width="1.15" />
<line x1="165.54" y1="1049.50" x2="165.54" y2="1059.56" stroke="#231815" stroke-width="1.15" />
<line x1="165.54" y1="1063.24" x2="165.54" y2="1073.30" stroke="#231815" stroke-width="1.15" />
<text x="136.92" y="1066.08" font-size="13" font-family='"Liberation Sans", "Noto Sans CJK SC", sans-serif' fill="#231815" text-anchor="middle" textLength="15.12" lengthAdjust="spacingAndGlyphs" letter-spacing="1.43"  stroke="#231815" stroke-width="0.2">33</text>
<line x1="126.70" y1="1078.40" x2="175.40" y2="1078.40" stroke="#231815" stroke-width="1.15" />
<line x1="126.70" y1="1102.00" x2="175.40" y2="1102.00" stroke="#231815" stroke-width="1.15" />
<line x1="145.50" y1="1078.40" x2="145.50" y2="1102.00" stroke="#231815" stroke-width="1.15" />
<line x1="151.80" y1="1078.40" x2="151.80" y2="1102.00" stroke="#231815" stroke-width="1.15" />
<line x1="175.40" y1="1078.40" x2="175.40" y2="1102.00" stroke="#231815" stroke-width="1.15" />
<circle cx="163.60" cy="1090.20" r="11.20" fill="none" stroke="#231815" stroke-width="1.15"/>
<line x1="151.80" y1="1088.37" x2="161.77" y2="1088.37" stroke="#231815" stroke-width="1.15" />
<line x1="165.43" y1="1088.37" x2="175.40" y2="1088.37" stroke="#231815" stroke-width="1.15" />
<line x1="161.77" y1="1078.40" x2="161.77" y2="1088.37" stroke="#231815" stroke-width="1.15" />
<line x1="161.77" y1="1092.03" x2="161.77" y2="1102.00" stroke="#231815" stroke-width="1.15" />
<line x1="151.80" y1="1092.03" x2="161.77" y2="1092.03" stroke="#231815" stroke-width="1.15" />
<line x1="165.43" y1="1092.03" x2="175.40" y2="1092.03" stroke="#231815" stroke-width="1.15" />
<line x1="165.43" y1="1078.40" x2="165.43" y2="1088.37" stroke="#231815" stroke-width="1.15" />
<line x1="165.43" y1="1092.03" x2="165.43" y2="1102.00" stroke="#231815" stroke-width="1.15" />
<text x="136.92" y="1094.88" font-size="13" font-family='"Liberation Sans", "Noto Sans CJK SC", sans-serif' fill="#231815" text-anchor="middle" textLength="15.12" lengthAdjust="spacingAndGlyphs" letter-spacing="1.43"  stroke="#231815" stroke-width="0.2">36</text>
<polyline points="128.30,1061.50 110.50,1061.50 110.50,1070.20" fill="none" stroke="#231815" stroke-width="1.1" />
<circle cx="111.00" cy="1072.40" r="2.10" fill="none" stroke="#231815" stroke-width="1"/>
<circle cx="111.00" cy="1080.80" r="2.10" fill="none" stroke="#231815" stroke-width="1"/>
<polyline points="110.50,1083.00 110.50,1090.60 128.30,1090.60" fill="none" stroke="#231815" stroke-width="1.1" />
<line x1="102.50" y1="1076.80" x2="107.50" y2="1076.80" stroke="#231815" stroke-width="1.1" />
<line x1="107.50" y1="1072.40" x2="107.50" y2="1081.00" stroke="#231815" stroke-width="1.1" />
<text x="81.70" y="1081.00" font-size="12.6" font-family='"Liberation Sans", "Noto Sans CJK SC", sans-serif' fill="#231815" textLength="20.00" lengthAdjust="spacingAndGlyphs"  stroke="#231815" stroke-width="0.2">Run</text>
<line x1="233.30" y1="1049.50" x2="282.20" y2="1049.50" stroke="#231815" stroke-width="1.15" />
<line x1="233.30" y1="1073.30" x2="282.20" y2="1073.30" stroke="#231815" stroke-width="1.15" />
<line x1="252.10" y1="1049.50" x2="252.10" y2="1073.30" stroke="#231815" stroke-width="1.15" />
<line x1="258.40" y1="1049.50" x2="258.40" y2="1073.30" stroke="#231815" stroke-width="1.15" />
<line x1="282.20" y1="1049.50" x2="282.20" y2="1073.30" stroke="#231815" stroke-width="1.15" />
<circle cx="270.30" cy="1061.40" r="11.30" fill="none" stroke="#231815" stroke-width="1.15"/>
<line x1="258.40" y1="1059.56" x2="268.46" y2="1059.56" stroke="#231815" stroke-width="1.15" />
<line x1="272.14" y1="1059.56" x2="282.20" y2="1059.56" stroke="#231815" stroke-width="1.15" />
<line x1="268.46" y1="1049.50" x2="268.46" y2="1059.56" stroke="#231815" stroke-width="1.15" />
<line x1="268.46" y1="1063.24" x2="268.46" y2="1073.30" stroke="#231815" stroke-width="1.15" />
<line x1="258.40" y1="1063.24" x2="268.46" y2="1063.24" stroke="#231815" stroke-width="1.15" />
<line x1="272.14" y1="1063.24" x2="282.20" y2="1063.24" stroke="#231815" stroke-width="1.15" />
<line x1="272.14" y1="1049.50" x2="272.14" y2="1059.56" stroke="#231815" stroke-width="1.15" />
<line x1="272.14" y1="1063.24" x2="272.14" y2="1073.30" stroke="#231815" stroke-width="1.15" />
<text x="243.52" y="1066.08" font-size="13" font-family='"Liberation Sans", "Noto Sans CJK SC", sans-serif' fill="#231815" text-anchor="middle" textLength="15.12" lengthAdjust="spacingAndGlyphs" letter-spacing="1.43"  stroke="#231815" stroke-width="0.2">34</text>
<line x1="233.30" y1="1078.40" x2="282.00" y2="1078.40" stroke="#231815" stroke-width="1.15" />
<line x1="233.30" y1="1102.00" x2="282.00" y2="1102.00" stroke="#231815" stroke-width="1.15" />
<line x1="252.10" y1="1078.40" x2="252.10" y2="1102.00" stroke="#231815" stroke-width="1.15" />
<line x1="258.40" y1="1078.40" x2="258.40" y2="1102.00" stroke="#231815" stroke-width="1.15" />
<line x1="282.00" y1="1078.40" x2="282.00" y2="1102.00" stroke="#231815" stroke-width="1.15" />
<circle cx="270.20" cy="1090.20" r="11.20" fill="none" stroke="#231815" stroke-width="1.15"/>
<line x1="258.40" y1="1088.37" x2="268.37" y2="1088.37" stroke="#231815" stroke-width="1.15" />
<line x1="272.03" y1="1088.37" x2="282.00" y2="1088.37" stroke="#231815" stroke-width="1.15" />
<line x1="268.37" y1="1078.40" x2="268.37" y2="1088.37" stroke="#231815" stroke-width="1.15" />
<line x1="268.37" y1="1092.03" x2="268.37" y2="1102.00" stroke="#231815" stroke-width="1.15" />
<line x1="258.40" y1="1092.03" x2="268.37" y2="1092.03" stroke="#231815" stroke-width="1.15" />
<line x1="272.03" y1="1092.03" x2="282.00" y2="1092.03" stroke="#231815" stroke-width="1.15" />
<line x1="272.03" y1="1078.40" x2="272.03" y2="1088.37" stroke="#231815" stroke-width="1.15" />
<line x1="272.03" y1="1092.03" x2="272.03" y2="1102.00" stroke="#231815" stroke-width="1.15" />
<text x="243.52" y="1094.88" font-size="13" font-family='"Liberation Sans", "Noto Sans CJK SC", sans-serif' fill="#231815" text-anchor="middle" textLength="15.12" lengthAdjust="spacingAndGlyphs" letter-spacing="1.43"  stroke="#231815" stroke-width="0.2">36</text>
<polyline points="234.90,1061.50 217.10,1061.50 217.10,1070.20" fill="none" stroke="#231815" stroke-width="1.1" />
<circle cx="217.60" cy="1072.40" r="2.10" fill="none" stroke="#231815" stroke-width="1"/>
<circle cx="217.60" cy="1080.80" r="2.10" fill="none" stroke="#231815" stroke-width="1"/>
<polyline points="217.10,1083.00 217.10,1090.60 234.90,1090.60" fill="none" stroke="#231815" stroke-width="1.1" />
<line x1="209.10" y1="1076.80" x2="214.10" y2="1076.80" stroke="#231815" stroke-width="1.1" />
<line x1="214.10" y1="1072.40" x2="214.10" y2="1081.00" stroke="#231815" stroke-width="1.1" />
<text x="181.00" y="1081.00" font-size="12.6" font-family='"Liberation Sans", "Noto Sans CJK SC", sans-serif' fill="#231815" textLength="26.70" lengthAdjust="spacingAndGlyphs"  stroke="#231815" stroke-width="0.2">Stop</text>
<line x1="333.30" y1="1049.50" x2="382.20" y2="1049.50" stroke="#231815" stroke-width="1.15" />
<line x1="333.30" y1="1073.30" x2="382.20" y2="1073.30" stroke="#231815" stroke-width="1.15" />
<line x1="352.10" y1="1049.50" x2="352.10" y2="1073.30" stroke="#231815" stroke-width="1.15" />
<line x1="358.40" y1="1049.50" x2="358.40" y2="1073.30" stroke="#231815" stroke-width="1.15" />
<line x1="382.20" y1="1049.50" x2="382.20" y2="1073.30" stroke="#231815" stroke-width="1.15" />
<circle cx="370.30" cy="1061.40" r="11.30" fill="none" stroke="#231815" stroke-width="1.15"/>
<line x1="358.40" y1="1059.56" x2="368.46" y2="1059.56" stroke="#231815" stroke-width="1.15" />
<line x1="372.14" y1="1059.56" x2="382.20" y2="1059.56" stroke="#231815" stroke-width="1.15" />
<line x1="368.46" y1="1049.50" x2="368.46" y2="1059.56" stroke="#231815" stroke-width="1.15" />
<line x1="368.46" y1="1063.24" x2="368.46" y2="1073.30" stroke="#231815" stroke-width="1.15" />
<line x1="358.40" y1="1063.24" x2="368.46" y2="1063.24" stroke="#231815" stroke-width="1.15" />
<line x1="372.14" y1="1063.24" x2="382.20" y2="1063.24" stroke="#231815" stroke-width="1.15" />
<line x1="372.14" y1="1049.50" x2="372.14" y2="1059.56" stroke="#231815" stroke-width="1.15" />
<line x1="372.14" y1="1063.24" x2="372.14" y2="1073.30" stroke="#231815" stroke-width="1.15" />
<text x="343.52" y="1066.08" font-size="13" font-family='"Liberation Sans", "Noto Sans CJK SC", sans-serif' fill="#231815" text-anchor="middle" textLength="15.12" lengthAdjust="spacingAndGlyphs" letter-spacing="1.43"  stroke="#231815" stroke-width="0.2">35</text>
<line x1="333.30" y1="1078.40" x2="382.00" y2="1078.40" stroke="#231815" stroke-width="1.15" />
<line x1="333.30" y1="1102.00" x2="382.00" y2="1102.00" stroke="#231815" stroke-width="1.15" />
<line x1="352.10" y1="1078.40" x2="352.10" y2="1102.00" stroke="#231815" stroke-width="1.15" />
<line x1="358.40" y1="1078.40" x2="358.40" y2="1102.00" stroke="#231815" stroke-width="1.15" />
<line x1="382.00" y1="1078.40" x2="382.00" y2="1102.00" stroke="#231815" stroke-width="1.15" />
<circle cx="370.20" cy="1090.20" r="11.20" fill="none" stroke="#231815" stroke-width="1.15"/>
<line x1="358.40" y1="1088.37" x2="368.37" y2="1088.37" stroke="#231815" stroke-width="1.15" />
<line x1="372.03" y1="1088.37" x2="382.00" y2="1088.37" stroke="#231815" stroke-width="1.15" />
<line x1="368.37" y1="1078.40" x2="368.37" y2="1088.37" stroke="#231815" stroke-width="1.15" />
<line x1="368.37" y1="1092.03" x2="368.37" y2="1102.00" stroke="#231815" stroke-width="1.15" />
<line x1="358.40" y1="1092.03" x2="368.37" y2="1092.03" stroke="#231815" stroke-width="1.15" />
<line x1="372.03" y1="1092.03" x2="382.00" y2="1092.03" stroke="#231815" stroke-width="1.15" />
<line x1="372.03" y1="1078.40" x2="372.03" y2="1088.37" stroke="#231815" stroke-width="1.15" />
<line x1="372.03" y1="1092.03" x2="372.03" y2="1102.00" stroke="#231815" stroke-width="1.15" />
<text x="343.52" y="1094.88" font-size="13" font-family='"Liberation Sans", "Noto Sans CJK SC", sans-serif' fill="#231815" text-anchor="middle" textLength="15.12" lengthAdjust="spacingAndGlyphs" letter-spacing="1.43"  stroke="#231815" stroke-width="0.2">36</text>
<polyline points="334.90,1061.50 317.10,1061.50 317.10,1070.20" fill="none" stroke="#231815" stroke-width="1.1" />
<circle cx="317.60" cy="1072.40" r="2.10" fill="none" stroke="#231815" stroke-width="1"/>
<circle cx="317.60" cy="1080.80" r="2.10" fill="none" stroke="#231815" stroke-width="1"/>
<polyline points="317.10,1083.00 317.10,1090.60 334.90,1090.60" fill="none" stroke="#231815" stroke-width="1.1" />
<line x1="309.10" y1="1076.80" x2="314.10" y2="1076.80" stroke="#231815" stroke-width="1.1" />
<line x1="314.10" y1="1072.40" x2="314.10" y2="1081.00" stroke="#231815" stroke-width="1.1" />
<text x="288.30" y="1081.00" font-size="12.6" font-family='"Liberation Sans", "Noto Sans CJK SC", sans-serif' fill="#231815" textLength="20.00" lengthAdjust="spacingAndGlyphs"  stroke="#231815" stroke-width="0.2">CLR</text>
<line x1="436.30" y1="1049.70" x2="486.30" y2="1049.70" stroke="#231815" stroke-width="1.15" />
<line x1="436.30" y1="1073.20" x2="486.30" y2="1073.20" stroke="#231815" stroke-width="1.15" />
<line x1="455.90" y1="1049.70" x2="455.90" y2="1073.20" stroke="#231815" stroke-width="1.15" />
<line x1="462.80" y1="1049.70" x2="462.80" y2="1073.20" stroke="#231815" stroke-width="1.15" />
<line x1="486.30" y1="1049.70" x2="486.30" y2="1073.20" stroke="#231815" stroke-width="1.15" />
<circle cx="474.55" cy="1061.45" r="11.15" fill="none" stroke="#231815" stroke-width="1.15"/>
<line x1="462.80" y1="1059.63" x2="472.73" y2="1059.63" stroke="#231815" stroke-width="1.15" />
<line x1="476.37" y1="1059.63" x2="486.30" y2="1059.63" stroke="#231815" stroke-width="1.15" />
<line x1="472.73" y1="1049.70" x2="472.73" y2="1059.63" stroke="#231815" stroke-width="1.15" />
<line x1="472.73" y1="1063.27" x2="472.73" y2="1073.20" stroke="#231815" stroke-width="1.15" />
<line x1="462.80" y1="1063.27" x2="472.73" y2="1063.27" stroke="#231815" stroke-width="1.15" />
<line x1="476.37" y1="1063.27" x2="486.30" y2="1063.27" stroke="#231815" stroke-width="1.15" />
<line x1="476.37" y1="1049.70" x2="476.37" y2="1059.63" stroke="#231815" stroke-width="1.15" />
<line x1="476.37" y1="1063.27" x2="476.37" y2="1073.20" stroke="#231815" stroke-width="1.15" />
<text x="446.92" y="1066.06" font-size="12.8" font-family='"Liberation Sans", "Noto Sans CJK SC", sans-serif' fill="#231815" text-anchor="middle" textLength="15.12" lengthAdjust="spacingAndGlyphs" letter-spacing="1.41"  stroke="#231815" stroke-width="0.2">34</text>
<line x1="436.30" y1="1078.50" x2="486.30" y2="1078.50" stroke="#231815" stroke-width="1.15" />
<line x1="436.30" y1="1102.00" x2="486.30" y2="1102.00" stroke="#231815" stroke-width="1.15" />
<line x1="455.90" y1="1078.50" x2="455.90" y2="1102.00" stroke="#231815" stroke-width="1.15" />
<line x1="462.80" y1="1078.50" x2="462.80" y2="1102.00" stroke="#231815" stroke-width="1.15" />
<line x1="486.30" y1="1078.50" x2="486.30" y2="1102.00" stroke="#231815" stroke-width="1.15" />
<circle cx="474.55" cy="1090.25" r="11.15" fill="none" stroke="#231815" stroke-width="1.15"/>
<line x1="462.80" y1="1088.43" x2="472.73" y2="1088.43" stroke="#231815" stroke-width="1.15" />
<line x1="476.37" y1="1088.43" x2="486.30" y2="1088.43" stroke="#231815" stroke-width="1.15" />
<line x1="472.73" y1="1078.50" x2="472.73" y2="1088.43" stroke="#231815" stroke-width="1.15" />
<line x1="472.73" y1="1092.07" x2="472.73" y2="1102.00" stroke="#231815" stroke-width="1.15" />
<line x1="462.80" y1="1092.07" x2="472.73" y2="1092.07" stroke="#231815" stroke-width="1.15" />
<line x1="476.37" y1="1092.07" x2="486.30" y2="1092.07" stroke="#231815" stroke-width="1.15" />
<line x1="476.37" y1="1078.50" x2="476.37" y2="1088.43" stroke="#231815" stroke-width="1.15" />
<line x1="476.37" y1="1092.07" x2="476.37" y2="1102.00" stroke="#231815" stroke-width="1.15" />
<text x="446.92" y="1094.86" font-size="12.8" font-family='"Liberation Sans", "Noto Sans CJK SC", sans-serif' fill="#231815" text-anchor="middle" textLength="15.12" lengthAdjust="spacingAndGlyphs" letter-spacing="1.41"  stroke="#231815" stroke-width="0.2">35</text>
<text x="402.90" y="1066.40" font-size="13" font-family='"Liberation Sans", "Noto Sans CJK SC", sans-serif' fill="#231815" textLength="6.40" lengthAdjust="spacingAndGlyphs"  stroke="#231815" stroke-width="0.2">B</text>
<line x1="417.00" y1="1062.00" x2="436.30" y2="1062.00" stroke="#231815" stroke-width="1.3" />
<polygon points="414.00,1062.00 419.00,1059.20 419.00,1064.80" fill="#231815"/>
<text x="402.90" y="1095.20" font-size="13" font-family='"Liberation Sans", "Noto Sans CJK SC", sans-serif' fill="#231815" textLength="6.40" lengthAdjust="spacingAndGlyphs"  stroke="#231815" stroke-width="0.2">A</text>
<line x1="417.00" y1="1090.80" x2="436.30" y2="1090.80" stroke="#231815" stroke-width="1.3" />
<polygon points="414.00,1090.80 419.00,1088.00 419.00,1093.60" fill="#231815"/>
<text x="435.20" y="1118.30" font-size="12.5" font-family='"Liberation Sans", "Noto Sans CJK SC", sans-serif' fill="#231815" textLength="33.80" lengthAdjust="spacingAndGlyphs"  stroke="#231815" stroke-width="0.2">RS485</text>
<line x1="556.20" y1="1029.50" x2="605.00" y2="1029.50" stroke="#231815" stroke-width="1.15" />
<line x1="556.20" y1="1053.00" x2="605.00" y2="1053.00" stroke="#231815" stroke-width="1.15" />
<line x1="574.80" y1="1029.50" x2="574.80" y2="1053.00" stroke="#231815" stroke-width="1.15" />
<line x1="581.50" y1="1029.50" x2="581.50" y2="1053.00" stroke="#231815" stroke-width="1.15" />
<line x1="605.00" y1="1029.50" x2="605.00" y2="1053.00" stroke="#231815" stroke-width="1.15" />
<circle cx="593.25" cy="1041.25" r="11.15" fill="none" stroke="#231815" stroke-width="1.15"/>
<line x1="581.50" y1="1039.43" x2="591.43" y2="1039.43" stroke="#231815" stroke-width="1.15" />
<line x1="595.07" y1="1039.43" x2="605.00" y2="1039.43" stroke="#231815" stroke-width="1.15" />
<line x1="591.43" y1="1029.50" x2="591.43" y2="1039.43" stroke="#231815" stroke-width="1.15" />
<line x1="591.43" y1="1043.07" x2="591.43" y2="1053.00" stroke="#231815" stroke-width="1.15" />
<line x1="581.50" y1="1043.07" x2="591.43" y2="1043.07" stroke="#231815" stroke-width="1.15" />
<line x1="595.07" y1="1043.07" x2="605.00" y2="1043.07" stroke="#231815" stroke-width="1.15" />
<line x1="595.07" y1="1029.50" x2="595.07" y2="1039.43" stroke="#231815" stroke-width="1.15" />
<line x1="595.07" y1="1043.07" x2="595.07" y2="1053.00" stroke="#231815" stroke-width="1.15" />
<text x="566.32" y="1045.26" font-size="12.8" font-family='"Liberation Sans", "Noto Sans CJK SC", sans-serif' fill="#231815" text-anchor="middle" textLength="15.12" lengthAdjust="spacingAndGlyphs" letter-spacing="1.41"  stroke="#231815" stroke-width="0.2">34</text>
<line x1="556.20" y1="1057.80" x2="605.00" y2="1057.80" stroke="#231815" stroke-width="1.15" />
<line x1="556.20" y1="1081.30" x2="605.00" y2="1081.30" stroke="#231815" stroke-width="1.15" />
<line x1="574.80" y1="1057.80" x2="574.80" y2="1081.30" stroke="#231815" stroke-width="1.15" />
<line x1="581.50" y1="1057.80" x2="581.50" y2="1081.30" stroke="#231815" stroke-width="1.15" />
<line x1="605.00" y1="1057.80" x2="605.00" y2="1081.30" stroke="#231815" stroke-width="1.15" />
<circle cx="593.25" cy="1069.55" r="11.15" fill="none" stroke="#231815" stroke-width="1.15"/>
<line x1="581.50" y1="1067.73" x2="591.43" y2="1067.73" stroke="#231815" stroke-width="1.15" />
<line x1="595.07" y1="1067.73" x2="605.00" y2="1067.73" stroke="#231815" stroke-width="1.15" />
<line x1="591.43" y1="1057.80" x2="591.43" y2="1067.73" stroke="#231815" stroke-width="1.15" />
<line x1="591.43" y1="1071.37" x2="591.43" y2="1081.30" stroke="#231815" stroke-width="1.15" />
<line x1="581.50" y1="1071.37" x2="591.43" y2="1071.37" stroke="#231815" stroke-width="1.15" />
<line x1="595.07" y1="1071.37" x2="605.00" y2="1071.37" stroke="#231815" stroke-width="1.15" />
<line x1="595.07" y1="1057.80" x2="595.07" y2="1067.73" stroke="#231815" stroke-width="1.15" />
<line x1="595.07" y1="1071.37" x2="595.07" y2="1081.30" stroke="#231815" stroke-width="1.15" />
<text x="566.32" y="1074.86" font-size="12.8" font-family='"Liberation Sans", "Noto Sans CJK SC", sans-serif' fill="#231815" text-anchor="middle" textLength="15.12" lengthAdjust="spacingAndGlyphs" letter-spacing="1.41"  stroke="#231815" stroke-width="0.2">35</text>
<line x1="556.20" y1="1085.80" x2="605.00" y2="1085.80" stroke="#231815" stroke-width="1.15" />
<line x1="556.20" y1="1109.30" x2="605.00" y2="1109.30" stroke="#231815" stroke-width="1.15" />
<line x1="574.80" y1="1085.80" x2="574.80" y2="1109.30" stroke="#231815" stroke-width="1.15" />
<line x1="581.50" y1="1085.80" x2="581.50" y2="1109.30" stroke="#231815" stroke-width="1.15" />
<line x1="605.00" y1="1085.80" x2="605.00" y2="1109.30" stroke="#231815" stroke-width="1.15" />
<circle cx="593.25" cy="1097.55" r="11.15" fill="none" stroke="#231815" stroke-width="1.15"/>
<line x1="581.50" y1="1095.73" x2="591.43" y2="1095.73" stroke="#231815" stroke-width="1.15" />
<line x1="595.07" y1="1095.73" x2="605.00" y2="1095.73" stroke="#231815" stroke-width="1.15" />
<line x1="591.43" y1="1085.80" x2="591.43" y2="1095.73" stroke="#231815" stroke-width="1.15" />
<line x1="591.43" y1="1099.37" x2="591.43" y2="1109.30" stroke="#231815" stroke-width="1.15" />
<line x1="581.50" y1="1099.37" x2="591.43" y2="1099.37" stroke="#231815" stroke-width="1.15" />
<line x1="595.07" y1="1099.37" x2="605.00" y2="1099.37" stroke="#231815" stroke-width="1.15" />
<line x1="595.07" y1="1085.80" x2="595.07" y2="1095.73" stroke="#231815" stroke-width="1.15" />
<line x1="595.07" y1="1099.37" x2="595.07" y2="1109.30" stroke="#231815" stroke-width="1.15" />
<text x="566.32" y="1102.16" font-size="12.8" font-family='"Liberation Sans", "Noto Sans CJK SC", sans-serif' fill="#231815" text-anchor="middle" textLength="15.12" lengthAdjust="spacingAndGlyphs" letter-spacing="1.41"  stroke="#231815" stroke-width="0.2">36</text>
<text x="507.90" y="1043.70" font-size="13" font-family='"Liberation Sans", "Noto Sans CJK SC", sans-serif' fill="#231815" textLength="20.20" lengthAdjust="spacingAndGlyphs"  stroke="#231815" stroke-width="0.2">RXD</text>
<line x1="534.80" y1="1039.10" x2="555.20" y2="1039.10" stroke="#231815" stroke-width="1.3" />
<polygon points="531.80,1039.10 536.80,1036.30 536.80,1041.90" fill="#231815"/>
<text x="507.90" y="1072.00" font-size="13" font-family='"Liberation Sans", "Noto Sans CJK SC", sans-serif' fill="#231815" textLength="20.20" lengthAdjust="spacingAndGlyphs"  stroke="#231815" stroke-width="0.2">TXD</text>
<line x1="534.80" y1="1068.50" x2="555.20" y2="1068.50" stroke="#231815" stroke-width="1.3" />
<polygon points="531.80,1068.50 536.80,1065.70 536.80,1071.30" fill="#231815"/>
<text x="509.60" y="1102.60" font-size="13" font-family='"Liberation Sans", "Noto Sans CJK SC", sans-serif' fill="#231815" textLength="20.20" lengthAdjust="spacingAndGlyphs"  stroke="#231815" stroke-width="0.2">GND</text>
<line x1="536.50" y1="1097.80" x2="555.20" y2="1097.80" stroke="#231815" stroke-width="1.3" />
<polygon points="533.50,1097.80 538.50,1095.00 538.50,1100.60" fill="#231815"/>
<text x="537.30" y="1122.80" font-size="12.5" font-family='"Liberation Sans", "Noto Sans CJK SC", sans-serif' fill="#231815" textLength="33.80" lengthAdjust="spacingAndGlyphs"  stroke="#231815" stroke-width="0.2">RS232</text>
<line x1="674.20" y1="1029.50" x2="723.00" y2="1029.50" stroke="#231815" stroke-width="1.15" />
<line x1="674.20" y1="1053.00" x2="723.00" y2="1053.00" stroke="#231815" stroke-width="1.15" />
<line x1="692.80" y1="1029.50" x2="692.80" y2="1053.00" stroke="#231815" stroke-width="1.15" />
<line x1="699.50" y1="1029.50" x2="699.50" y2="1053.00" stroke="#231815" stroke-width="1.15" />
<line x1="723.00" y1="1029.50" x2="723.00" y2="1053.00" stroke="#231815" stroke-width="1.15" />
<circle cx="711.25" cy="1041.25" r="11.15" fill="none" stroke="#231815" stroke-width="1.15"/>
<line x1="699.50" y1="1039.43" x2="709.43" y2="1039.43" stroke="#231815" stroke-width="1.15" />
<line x1="713.07" y1="1039.43" x2="723.00" y2="1039.43" stroke="#231815" stroke-width="1.15" />
<line x1="709.43" y1="1029.50" x2="709.43" y2="1039.43" stroke="#231815" stroke-width="1.15" />
<line x1="709.43" y1="1043.07" x2="709.43" y2="1053.00" stroke="#231815" stroke-width="1.15" />
<line x1="699.50" y1="1043.07" x2="709.43" y2="1043.07" stroke="#231815" stroke-width="1.15" />
<line x1="713.07" y1="1043.07" x2="723.00" y2="1043.07" stroke="#231815" stroke-width="1.15" />
<line x1="713.07" y1="1029.50" x2="713.07" y2="1039.43" stroke="#231815" stroke-width="1.15" />
<line x1="713.07" y1="1043.07" x2="713.07" y2="1053.00" stroke="#231815" stroke-width="1.15" />
<text x="684.32" y="1045.26" font-size="12.8" font-family='"Liberation Sans", "Noto Sans CJK SC", sans-serif' fill="#231815" text-anchor="middle" textLength="15.12" lengthAdjust="spacingAndGlyphs" letter-spacing="1.41"  stroke="#231815" stroke-width="0.2">34</text>
<line x1="674.20" y1="1057.80" x2="723.00" y2="1057.80" stroke="#231815" stroke-width="1.15" />
<line x1="674.20" y1="1081.30" x2="723.00" y2="1081.30" stroke="#231815" stroke-width="1.15" />
<line x1="692.80" y1="1057.80" x2="692.80" y2="1081.30" stroke="#231815" stroke-width="1.15" />
<line x1="699.50" y1="1057.80" x2="699.50" y2="1081.30" stroke="#231815" stroke-width="1.15" />
<line x1="723.00" y1="1057.80" x2="723.00" y2="1081.30" stroke="#231815" stroke-width="1.15" />
<circle cx="711.25" cy="1069.55" r="11.15" fill="none" stroke="#231815" stroke-width="1.15"/>
<line x1="699.50" y1="1067.73" x2="709.43" y2="1067.73" stroke="#231815" stroke-width="1.15" />
<line x1="713.07" y1="1067.73" x2="723.00" y2="1067.73" stroke="#231815" stroke-width="1.15" />
<line x1="709.43" y1="1057.80" x2="709.43" y2="1067.73" stroke="#231815" stroke-width="1.15" />
<line x1="709.43" y1="1071.37" x2="709.43" y2="1081.30" stroke="#231815" stroke-width="1.15" />
<line x1="699.50" y1="1071.37" x2="709.43" y2="1071.37" stroke="#231815" stroke-width="1.15" />
<line x1="713.07" y1="1071.37" x2="723.00" y2="1071.37" stroke="#231815" stroke-width="1.15" />
<line x1="713.07" y1="1057.80" x2="713.07" y2="1067.73" stroke="#231815" stroke-width="1.15" />
<line x1="713.07" y1="1071.37" x2="713.07" y2="1081.30" stroke="#231815" stroke-width="1.15" />
<text x="684.32" y="1074.86" font-size="12.8" font-family='"Liberation Sans", "Noto Sans CJK SC", sans-serif' fill="#231815" text-anchor="middle" textLength="15.12" lengthAdjust="spacingAndGlyphs" letter-spacing="1.41"  stroke="#231815" stroke-width="0.2">35</text>
<line x1="674.20" y1="1085.80" x2="723.00" y2="1085.80" stroke="#231815" stroke-width="1.15" />
<line x1="674.20" y1="1109.30" x2="723.00" y2="1109.30" stroke="#231815" stroke-width="1.15" />
<line x1="692.80" y1="1085.80" x2="692.80" y2="1109.30" stroke="#231815" stroke-width="1.15" />
<line x1="699.50" y1="1085.80" x2="699.50" y2="1109.30" stroke="#231815" stroke-width="1.15" />
<line x1="723.00" y1="1085.80" x2="723.00" y2="1109.30" stroke="#231815" stroke-width="1.15" />
<circle cx="711.25" cy="1097.55" r="11.15" fill="none" stroke="#231815" stroke-width="1.15"/>
<line x1="699.50" y1="1095.73" x2="709.43" y2="1095.73" stroke="#231815" stroke-width="1.15" />
<line x1="713.07" y1="1095.73" x2="723.00" y2="1095.73" stroke="#231815" stroke-width="1.15" />
<line x1="709.43" y1="1085.80" x2="709.43" y2="1095.73" stroke="#231815" stroke-width="1.15" />
<line x1="709.43" y1="1099.37" x2="709.43" y2="1109.30" stroke="#231815" stroke-width="1.15" />
<line x1="699.50" y1="1099.37" x2="709.43" y2="1099.37" stroke="#231815" stroke-width="1.15" />
<line x1="713.07" y1="1099.37" x2="723.00" y2="1099.37" stroke="#231815" stroke-width="1.15" />
<line x1="713.07" y1="1085.80" x2="713.07" y2="1095.73" stroke="#231815" stroke-width="1.15" />
<line x1="713.07" y1="1099.37" x2="713.07" y2="1109.30" stroke="#231815" stroke-width="1.15" />
<text x="684.32" y="1102.16" font-size="12.8" font-family='"Liberation Sans", "Noto Sans CJK SC", sans-serif' fill="#231815" text-anchor="middle" textLength="15.12" lengthAdjust="spacingAndGlyphs" letter-spacing="1.41"  stroke="#231815" stroke-width="0.2">36</text>
<text x="625.90" y="1043.70" font-size="13" font-family='"Liberation Sans", "Noto Sans CJK SC", sans-serif' fill="#231815" textLength="20.20" lengthAdjust="spacingAndGlyphs"  stroke="#231815" stroke-width="0.2">RXD</text>
<line x1="652.80" y1="1039.10" x2="673.20" y2="1039.10" stroke="#231815" stroke-width="1.3" />
<polygon points="649.80,1039.10 654.80,1036.30 654.80,1041.90" fill="#231815"/>
<text x="625.90" y="1072.00" font-size="13" font-family='"Liberation Sans", "Noto Sans CJK SC", sans-serif' fill="#231815" textLength="20.20" lengthAdjust="spacingAndGlyphs"  stroke="#231815" stroke-width="0.2">TXD</text>
<line x1="652.80" y1="1068.50" x2="673.20" y2="1068.50" stroke="#231815" stroke-width="1.3" />
<polygon points="649.80,1068.50 654.80,1065.70 654.80,1071.30" fill="#231815"/>
<text x="627.60" y="1102.60" font-size="13" font-family='"Liberation Sans", "Noto Sans CJK SC", sans-serif' fill="#231815" textLength="20.20" lengthAdjust="spacingAndGlyphs"  stroke="#231815" stroke-width="0.2">GND</text>
<line x1="654.50" y1="1097.80" x2="673.20" y2="1097.80" stroke="#231815" stroke-width="1.3" />
<polygon points="651.50,1097.80 656.50,1095.00 656.50,1100.60" fill="#231815"/>
<text x="655.60" y="1122.80" font-size="12.5" font-family='"Liberation Sans", "Noto Sans CJK SC", sans-serif' fill="#231815" textLength="41.10" lengthAdjust="spacingAndGlyphs"  stroke="#231815" stroke-width="0.2">RS232C</text>
<rect x="296.00" y="322.00" width="490.40" height="267.60" fill="none" stroke="#231815" stroke-width="2.4"/>
<line x1="296.00" y1="366.60" x2="786.40" y2="366.60" stroke="#231815" stroke-width="1.4" />
<line x1="420.50" y1="322.00" x2="420.50" y2="589.60" stroke="#231815" stroke-width="1.2" />
<line x1="543.60" y1="322.00" x2="543.60" y2="589.60" stroke="#231815" stroke-width="1.2" />
<line x1="666.60" y1="322.00" x2="666.60" y2="589.60" stroke="#231815" stroke-width="1.2" />
<text x="316.5 337.0 358.5 379.7 397.5" y="342.8" font-size="18.6" font-weight="300" font-family='"Liberation Serif", "Noto Serif CJK SC", serif' fill="#231815">变送输出4</text>
<text x="317.1 326.0 346.9 366.1" y="362.2" font-size="18.6" font-weight="300" font-family='"Liberation Serif", "Noto Serif CJK SC", serif' fill="#231815">/报警3</text>
<line x1="355.90" y1="378.00" x2="413.00" y2="378.00" stroke="#231815" stroke-width="1.15" />
<line x1="355.90" y1="406.00" x2="413.00" y2="406.00" stroke="#231815" stroke-width="1.15" />
<line x1="377.80" y1="378.00" x2="377.80" y2="406.00" stroke="#231815" stroke-width="1.15" />
<line x1="385.00" y1="378.00" x2="385.00" y2="406.00" stroke="#231815" stroke-width="1.15" />
<line x1="413.00" y1="378.00" x2="413.00" y2="406.00" stroke="#231815" stroke-width="1.15" />
<circle cx="399.00" cy="392.00" r="13.40" fill="none" stroke="#231815" stroke-width="1.15"/>
<line x1="385.00" y1="389.83" x2="396.83" y2="389.83" stroke="#231815" stroke-width="1.15" />
<line x1="401.17" y1="389.83" x2="413.00" y2="389.83" stroke="#231815" stroke-width="1.15" />
<line x1="396.83" y1="378.00" x2="396.83" y2="389.83" stroke="#231815" stroke-width="1.15" />
<line x1="396.83" y1="394.17" x2="396.83" y2="406.00" stroke="#231815" stroke-width="1.15" />
<line x1="385.00" y1="394.17" x2="396.83" y2="394.17" stroke="#231815" stroke-width="1.15" />
<line x1="401.17" y1="394.17" x2="413.00" y2="394.17" stroke="#231815" stroke-width="1.15" />
<line x1="401.17" y1="378.00" x2="401.17" y2="389.83" stroke="#231815" stroke-width="1.15" />
<line x1="401.17" y1="394.17" x2="401.17" y2="406.00" stroke="#231815" stroke-width="1.15" />
<text x="367.37" y="397.04" font-size="14" font-family='"Liberation Sans", "Noto Sans CJK SC", sans-serif' fill="#231815" text-anchor="middle" textLength="19.92" lengthAdjust="spacingAndGlyphs" letter-spacing="1.54"  stroke="#231815" stroke-width="0.2">25</text>
<line x1="355.90" y1="412.00" x2="412.60" y2="412.00" stroke="#231815" stroke-width="1.15" />
<line x1="355.90" y1="439.60" x2="412.60" y2="439.60" stroke="#231815" stroke-width="1.15" />
<line x1="377.80" y1="412.00" x2="377.80" y2="439.60" stroke="#231815" stroke-width="1.15" />
<line x1="385.00" y1="412.00" x2="385.00" y2="439.60" stroke="#231815" stroke-width="1.15" />
<line x1="412.60" y1="412.00" x2="412.60" y2="439.60" stroke="#231815" stroke-width="1.15" />
<circle cx="398.80" cy="425.80" r="13.20" fill="none" stroke="#231815" stroke-width="1.15"/>
<line x1="385.00" y1="423.66" x2="396.66" y2="423.66" stroke="#231815" stroke-width="1.15" />
<line x1="400.94" y1="423.66" x2="412.60" y2="423.66" stroke="#231815" stroke-width="1.15" />
<line x1="396.66" y1="412.00" x2="396.66" y2="423.66" stroke="#231815" stroke-width="1.15" />
<line x1="396.66" y1="427.94" x2="396.66" y2="439.60" stroke="#231815" stroke-width="1.15" />
<line x1="385.00" y1="427.94" x2="396.66" y2="427.94" stroke="#231815" stroke-width="1.15" />
<line x1="400.94" y1="427.94" x2="412.60" y2="427.94" stroke="#231815" stroke-width="1.15" />
<line x1="400.94" y1="412.00" x2="400.94" y2="423.66" stroke="#231815" stroke-width="1.15" />
<line x1="400.94" y1="427.94" x2="400.94" y2="439.60" stroke="#231815" stroke-width="1.15" />
<text x="367.37" y="430.84" font-size="14" font-family='"Liberation Sans", "Noto Sans CJK SC", sans-serif' fill="#231815" text-anchor="middle" textLength="19.92" lengthAdjust="spacingAndGlyphs" letter-spacing="1.54"  stroke="#231815" stroke-width="0.2">26</text>
<polyline points="327.90,389.50 350.50,389.50 350.50,423.30 327.90,423.30" fill="none" stroke="#231815" stroke-width="1.3" />
<polygon points="324.90,389.50 330.50,386.70 330.50,392.30" fill="#231815"/>
<polygon points="324.90,423.30 330.50,420.50 330.50,426.10" fill="#231815"/>
<circle cx="350.50" cy="406.00" r="4.90" fill="#fff" stroke="#231815" stroke-width="1"/>
<line x1="350.50" y1="400.00" x2="350.50" y2="407.00" stroke="#231815" stroke-width="1.3" />
<polygon points="347.80,405.30 353.20,405.30 350.50,409.90" fill="#231815"/>
<line x1="330.30" y1="380.20" x2="339.50" y2="380.20" stroke="#231815" stroke-width="1.3" />
<line x1="334.90" y1="375.60" x2="334.90" y2="384.80" stroke="#231815" stroke-width="1.3" />
<line x1="330.30" y1="430.80" x2="339.50" y2="430.80" stroke="#231815" stroke-width="1.3" />
<text x="307.90" y="410.00" font-size="13" font-family='"Liberation Sans", "Noto Sans CJK SC", sans-serif' fill="#231815" textLength="15.80" lengthAdjust="spacingAndGlyphs"  stroke="#231815" stroke-width="0.2">mA</text>
<line x1="355.90" y1="450.20" x2="412.90" y2="450.20" stroke="#231815" stroke-width="1.15" />
<line x1="355.90" y1="478.10" x2="412.90" y2="478.10" stroke="#231815" stroke-width="1.15" />
<line x1="377.80" y1="450.20" x2="377.80" y2="478.10" stroke="#231815" stroke-width="1.15" />
<line x1="385.00" y1="450.20" x2="385.00" y2="478.10" stroke="#231815" stroke-width="1.15" />
<line x1="412.90" y1="450.20" x2="412.90" y2="478.10" stroke="#231815" stroke-width="1.15" />
<circle cx="398.95" cy="464.15" r="13.35" fill="none" stroke="#231815" stroke-width="1.15"/>
<line x1="385.00" y1="461.99" x2="396.79" y2="461.99" stroke="#231815" stroke-width="1.15" />
<line x1="401.11" y1="461.99" x2="412.90" y2="461.99" stroke="#231815" stroke-width="1.15" />
<line x1="396.79" y1="450.20" x2="396.79" y2="461.99" stroke="#231815" stroke-width="1.15" />
<line x1="396.79" y1="466.31" x2="396.79" y2="478.10" stroke="#231815" stroke-width="1.15" />
<line x1="385.00" y1="466.31" x2="396.79" y2="466.31" stroke="#231815" stroke-width="1.15" />
<line x1="401.11" y1="466.31" x2="412.90" y2="466.31" stroke="#231815" stroke-width="1.15" />
<line x1="401.11" y1="450.20" x2="401.11" y2="461.99" stroke="#231815" stroke-width="1.15" />
<line x1="401.11" y1="466.31" x2="401.11" y2="478.10" stroke="#231815" stroke-width="1.15" />
<text x="367.37" y="469.19" font-size="14" font-family='"Liberation Sans", "Noto Sans CJK SC", sans-serif' fill="#231815" text-anchor="middle" textLength="19.92" lengthAdjust="spacingAndGlyphs" letter-spacing="1.54"  stroke="#231815" stroke-width="0.2">25</text>
<line x1="355.90" y1="483.60" x2="412.60" y2="483.60" stroke="#231815" stroke-width="1.15" />
<line x1="355.90" y1="511.20" x2="412.60" y2="511.20" stroke="#231815" stroke-width="1.15" />
<line x1="377.80" y1="483.60" x2="377.80" y2="511.20" stroke="#231815" stroke-width="1.15" />
<line x1="385.00" y1="483.60" x2="385.00" y2="511.20" stroke="#231815" stroke-width="1.15" />
<line x1="412.60" y1="483.60" x2="412.60" y2="511.20" stroke="#231815" stroke-width="1.15" />
<circle cx="398.80" cy="497.40" r="13.20" fill="none" stroke="#231815" stroke-width="1.15"/>
<line x1="385.00" y1="495.26" x2="396.66" y2="495.26" stroke="#231815" stroke-width="1.15" />
<line x1="400.94" y1="495.26" x2="412.60" y2="495.26" stroke="#231815" stroke-width="1.15" />
<line x1="396.66" y1="483.60" x2="396.66" y2="495.26" stroke="#231815" stroke-width="1.15" />
<line x1="396.66" y1="499.54" x2="396.66" y2="511.20" stroke="#231815" stroke-width="1.15" />
<line x1="385.00" y1="499.54" x2="396.66" y2="499.54" stroke="#231815" stroke-width="1.15" />
<line x1="400.94" y1="499.54" x2="412.60" y2="499.54" stroke="#231815" stroke-width="1.15" />
<line x1="400.94" y1="483.60" x2="400.94" y2="495.26" stroke="#231815" stroke-width="1.15" />
<line x1="400.94" y1="499.54" x2="400.94" y2="511.20" stroke="#231815" stroke-width="1.15" />
<text x="367.37" y="502.44" font-size="14" font-family='"Liberation Sans", "Noto Sans CJK SC", sans-serif' fill="#231815" text-anchor="middle" textLength="19.92" lengthAdjust="spacingAndGlyphs" letter-spacing="1.54"  stroke="#231815" stroke-width="0.2">26</text>
<polyline points="322.90,464.20 345.80,464.20 345.80,478.40" fill="none" stroke="#231815" stroke-width="1.3" />
<line x1="341.50" y1="478.40" x2="350.10" y2="478.40" stroke="#231815" stroke-width="1.2" />
<line x1="343.30" y1="483.40" x2="348.30" y2="483.40" stroke="#231815" stroke-width="1.2" />
<polyline points="345.80,483.40 345.80,498.30 322.90,498.30" fill="none" stroke="#231815" stroke-width="1.3" />
<polygon points="318.90,464.20 324.30,461.40 324.30,467.00" fill="#231815"/>
<polygon points="318.90,498.30 324.30,495.50 324.30,501.10" fill="#231815"/>
<line x1="324.00" y1="454.90" x2="333.60" y2="454.90" stroke="#231815" stroke-width="1.3" />
<line x1="328.80" y1="450.10" x2="328.80" y2="459.70" stroke="#231815" stroke-width="1.3" />
<line x1="324.70" y1="507.70" x2="334.30" y2="507.70" stroke="#231815" stroke-width="1.3" />
<text x="312.40" y="486.60" font-size="15" font-family='"Liberation Sans", "Noto Sans CJK SC", sans-serif' fill="#231815" textLength="7.00" lengthAdjust="spacingAndGlyphs"  stroke="#231815" stroke-width="0.2">V</text>
<line x1="355.90" y1="520.50" x2="411.80" y2="520.50" stroke="#231815" stroke-width="1.15" />
<line x1="355.90" y1="547.30" x2="411.80" y2="547.30" stroke="#231815" stroke-width="1.15" />
<line x1="377.80" y1="520.50" x2="377.80" y2="547.30" stroke="#231815" stroke-width="1.15" />
<line x1="385.00" y1="520.50" x2="385.00" y2="547.30" stroke="#231815" stroke-width="1.15" />
<line x1="411.80" y1="520.50" x2="411.80" y2="547.30" stroke="#231815" stroke-width="1.15" />
<circle cx="398.40" cy="533.90" r="12.80" fill="none" stroke="#231815" stroke-width="1.15"/>
<line x1="385.00" y1="531.82" x2="396.32" y2="531.82" stroke="#231815" stroke-width="1.15" />
<line x1="400.48" y1="531.82" x2="411.80" y2="531.82" stroke="#231815" stroke-width="1.15" />
<line x1="396.32" y1="520.50" x2="396.32" y2="531.82" stroke="#231815" stroke-width="1.15" />
<line x1="396.32" y1="535.98" x2="396.32" y2="547.30" stroke="#231815" stroke-width="1.15" />
<line x1="385.00" y1="535.98" x2="396.32" y2="535.98" stroke="#231815" stroke-width="1.15" />
<line x1="400.48" y1="535.98" x2="411.80" y2="535.98" stroke="#231815" stroke-width="1.15" />
<line x1="400.48" y1="520.50" x2="400.48" y2="531.82" stroke="#231815" stroke-width="1.15" />
<line x1="400.48" y1="535.98" x2="400.48" y2="547.30" stroke="#231815" stroke-width="1.15" />
<text x="367.37" y="538.94" font-size="14" font-family='"Liberation Sans", "Noto Sans CJK SC", sans-serif' fill="#231815" text-anchor="middle" textLength="19.92" lengthAdjust="spacingAndGlyphs" letter-spacing="1.54"  stroke="#231815" stroke-width="0.2">25</text>
<line x1="355.90" y1="552.60" x2="411.80" y2="552.60" stroke="#231815" stroke-width="1.15" />
<line x1="355.90" y1="579.40" x2="411.80" y2="579.40" stroke="#231815" stroke-width="1.15" />
<line x1="377.80" y1="552.60" x2="377.80" y2="579.40" stroke="#231815" stroke-width="1.15" />
<line x1="385.00" y1="552.60" x2="385.00" y2="579.40" stroke="#231815" stroke-width="1.15" />
<line x1="411.80" y1="552.60" x2="411.80" y2="579.40" stroke="#231815" stroke-width="1.15" />
<circle cx="398.40" cy="566.00" r="12.80" fill="none" stroke="#231815" stroke-width="1.15"/>
<line x1="385.00" y1="563.92" x2="396.32" y2="563.92" stroke="#231815" stroke-width="1.15" />
<line x1="400.48" y1="563.92" x2="411.80" y2="563.92" stroke="#231815" stroke-width="1.15" />
<line x1="396.32" y1="552.60" x2="396.32" y2="563.92" stroke="#231815" stroke-width="1.15" />
<line x1="396.32" y1="568.08" x2="396.32" y2="579.40" stroke="#231815" stroke-width="1.15" />
<line x1="385.00" y1="568.08" x2="396.32" y2="568.08" stroke="#231815" stroke-width="1.15" />
<line x1="400.48" y1="568.08" x2="411.80" y2="568.08" stroke="#231815" stroke-width="1.15" />
<line x1="400.48" y1="552.60" x2="400.48" y2="563.92" stroke="#231815" stroke-width="1.15" />
<line x1="400.48" y1="568.08" x2="400.48" y2="579.40" stroke="#231815" stroke-width="1.15" />
<text x="367.37" y="571.04" font-size="14" font-family='"Liberation Sans", "Noto Sans CJK SC", sans-serif' fill="#231815" text-anchor="middle" textLength="19.92" lengthAdjust="spacingAndGlyphs" letter-spacing="1.54"  stroke="#231815" stroke-width="0.2">26</text>
<polyline points="357.90,533.20 337.10,533.20 337.10,542.00" fill="none" stroke="#231815" stroke-width="1.1" />
<circle cx="337.10" cy="543.60" r="1.50" fill="none" stroke="#231815" stroke-width="0.9"/>
<line x1="336.90" y1="544.40" x2="331.80" y2="552.60" stroke="#231815" stroke-width="1.1" />
<circle cx="337.10" cy="554.60" r="1.50" fill="none" stroke="#231815" stroke-width="0.9"/>
<polyline points="337.10,556.20 337.10,565.30 357.90,565.30" fill="none" stroke="#231815" stroke-width="1.1" />
<text x="312.00" y="556.60" font-size="13.5" font-family='"Liberation Sans", "Noto Sans CJK SC", sans-serif' fill="#231815" textLength="15.60" lengthAdjust="spacingAndGlyphs"  stroke="#231815" stroke-width="0.2">NO</text>
<text x="442.7 463.2 484.7 505.9 523.7" y="342.8" font-size="18.6" font-weight="300" font-family='"Liberation Serif", "Noto Serif CJK SC", serif' fill="#231815">变送输出3</text>
<text x="443.3 452.2 473.1 492.3" y="362.2" font-size="18.6" font-weight="300" font-family='"Liberation Serif", "Noto Serif CJK SC", serif' fill="#231815">/报警4</text>
<line x1="479.80" y1="378.00" x2="536.90" y2="378.00" stroke="#231815" stroke-width="1.15" />
<line x1="479.80" y1="406.00" x2="536.90" y2="406.00" stroke="#231815" stroke-width="1.15" />
<line x1="501.70" y1="378.00" x2="501.70" y2="406.00" stroke="#231815" stroke-width="1.15" />
<line x1="508.90" y1="378.00" x2="508.90" y2="406.00" stroke="#231815" stroke-width="1.15" />
<line x1="536.90" y1="378.00" x2="536.90" y2="406.00" stroke="#231815" stroke-width="1.15" />
<circle cx="522.90" cy="392.00" r="13.40" fill="none" stroke="#231815" stroke-width="1.15"/>
<line x1="508.90" y1="389.83" x2="520.73" y2="389.83" stroke="#231815" stroke-width="1.15" />
<line x1="525.07" y1="389.83" x2="536.90" y2="389.83" stroke="#231815" stroke-width="1.15" />
<line x1="520.73" y1="378.00" x2="520.73" y2="389.83" stroke="#231815" stroke-width="1.15" />
<line x1="520.73" y1="394.17" x2="520.73" y2="406.00" stroke="#231815" stroke-width="1.15" />
<line x1="508.90" y1="394.17" x2="520.73" y2="394.17" stroke="#231815" stroke-width="1.15" />
<line x1="525.07" y1="394.17" x2="536.90" y2="394.17" stroke="#231815" stroke-width="1.15" />
<line x1="525.07" y1="378.00" x2="525.07" y2="389.83" stroke="#231815" stroke-width="1.15" />
<line x1="525.07" y1="394.17" x2="525.07" y2="406.00" stroke="#231815" stroke-width="1.15" />
<text x="491.27" y="397.04" font-size="14" font-family='"Liberation Sans", "Noto Sans CJK SC", sans-serif' fill="#231815" text-anchor="middle" textLength="19.92" lengthAdjust="spacingAndGlyphs" letter-spacing="1.54"  stroke="#231815" stroke-width="0.2">27</text>
<line x1="479.80" y1="412.00" x2="536.50" y2="412.00" stroke="#231815" stroke-width="1.15" />
<line x1="479.80" y1="439.60" x2="536.50" y2="439.60" stroke="#231815" stroke-width="1.15" />
<line x1="501.70" y1="412.00" x2="501.70" y2="439.60" stroke="#231815" stroke-width="1.15" />
<line x1="508.90" y1="412.00" x2="508.90" y2="439.60" stroke="#231815" stroke-width="1.15" />
<line x1="536.50" y1="412.00" x2="536.50" y2="439.60" stroke="#231815" stroke-width="1.15" />
<circle cx="522.70" cy="425.80" r="13.20" fill="none" stroke="#231815" stroke-width="1.15"/>
<line x1="508.90" y1="423.66" x2="520.56" y2="423.66" stroke="#231815" stroke-width="1.15" />
<line x1="524.84" y1="423.66" x2="536.50" y2="423.66" stroke="#231815" stroke-width="1.15" />
<line x1="520.56" y1="412.00" x2="520.56" y2="423.66" stroke="#231815" stroke-width="1.15" />
<line x1="520.56" y1="427.94" x2="520.56" y2="439.60" stroke="#231815" stroke-width="1.15" />
<line x1="508.90" y1="427.94" x2="520.56" y2="427.94" stroke="#231815" stroke-width="1.15" />
<line x1="524.84" y1="427.94" x2="536.50" y2="427.94" stroke="#231815" stroke-width="1.15" />
<line x1="524.84" y1="412.00" x2="524.84" y2="423.66" stroke="#231815" stroke-width="1.15" />
<line x1="524.84" y1="427.94" x2="524.84" y2="439.60" stroke="#231815" stroke-width="1.15" />
<text x="491.27" y="430.84" font-size="14" font-family='"Liberation Sans", "Noto Sans CJK SC", sans-serif' fill="#231815" text-anchor="middle" textLength="19.92" lengthAdjust="spacingAndGlyphs" letter-spacing="1.54"  stroke="#231815" stroke-width="0.2">28</text>
<polyline points="451.80,389.50 474.40,389.50 474.40,423.30 451.80,423.30" fill="none" stroke="#231815" stroke-width="1.3" />
<polygon points="448.80,389.50 454.40,386.70 454.40,392.30" fill="#231815"/>
<polygon points="448.80,423.30 454.40,420.50 454.40,426.10" fill="#231815"/>
<circle cx="474.40" cy="406.00" r="4.90" fill="#fff" stroke="#231815" stroke-width="1"/>
<line x1="474.40" y1="400.00" x2="474.40" y2="407.00" stroke="#231815" stroke-width="1.3" />
<polygon points="471.70,405.30 477.10,405.30 474.40,409.90" fill="#231815"/>
<line x1="454.20" y1="380.20" x2="463.40" y2="380.20" stroke="#231815" stroke-width="1.3" />
<line x1="458.80" y1="375.60" x2="458.80" y2="384.80" stroke="#231815" stroke-width="1.3" />
<line x1="454.20" y1="430.80" x2="463.40" y2="430.80" stroke="#231815" stroke-width="1.3" />
<text x="431.80" y="410.00" font-size="13" font-family='"Liberation Sans", "Noto Sans CJK SC", sans-serif' fill="#231815" textLength="15.80" lengthAdjust="spacingAndGlyphs"  stroke="#231815" stroke-width="0.2">mA</text>
<line x1="479.80" y1="450.20" x2="536.80" y2="450.20" stroke="#231815" stroke-width="1.15" />
<line x1="479.80" y1="478.10" x2="536.80" y2="478.10" stroke="#231815" stroke-width="1.15" />
<line x1="501.70" y1="450.20" x2="501.70" y2="478.10" stroke="#231815" stroke-width="1.15" />
<line x1="508.90" y1="450.20" x2="508.90" y2="478.10" stroke="#231815" stroke-width="1.15" />
<line x1="536.80" y1="450.20" x2="536.80" y2="478.10" stroke="#231815" stroke-width="1.15" />
<circle cx="522.85" cy="464.15" r="13.35" fill="none" stroke="#231815" stroke-width="1.15"/>
<line x1="508.90" y1="461.99" x2="520.69" y2="461.99" stroke="#231815" stroke-width="1.15" />
<line x1="525.01" y1="461.99" x2="536.80" y2="461.99" stroke="#231815" stroke-width="1.15" />
<line x1="520.69" y1="450.20" x2="520.69" y2="461.99" stroke="#231815" stroke-width="1.15" />
<line x1="520.69" y1="466.31" x2="520.69" y2="478.10" stroke="#231815" stroke-width="1.15" />
<line x1="508.90" y1="466.31" x2="520.69" y2="466.31" stroke="#231815" stroke-width="1.15" />
<line x1="525.01" y1="466.31" x2="536.80" y2="466.31" stroke="#231815" stroke-width="1.15" />
<line x1="525.01" y1="450.20" x2="525.01" y2="461.99" stroke="#231815" stroke-width="1.15" />
<line x1="525.01" y1="466.31" x2="525.01" y2="478.10" stroke="#231815" stroke-width="1.15" />
<text x="491.27" y="469.19" font-size="14" font-family='"Liberation Sans", "Noto Sans CJK SC", sans-serif' fill="#231815" text-anchor="middle" textLength="19.92" lengthAdjust="spacingAndGlyphs" letter-spacing="1.54"  stroke="#231815" stroke-width="0.2">27</text>
<line x1="479.80" y1="483.60" x2="536.50" y2="483.60" stroke="#231815" stroke-width="1.15" />
<line x1="479.80" y1="511.20" x2="536.50" y2="511.20" stroke="#231815" stroke-width="1.15" />
<line x1="501.70" y1="483.60" x2="501.70" y2="511.20" stroke="#231815" stroke-width="1.15" />
<line x1="508.90" y1="483.60" x2="508.90" y2="511.20" stroke="#231815" stroke-width="1.15" />
<line x1="536.50" y1="483.60" x2="536.50" y2="511.20" stroke="#231815" stroke-width="1.15" />
<circle cx="522.70" cy="497.40" r="13.20" fill="none" stroke="#231815" stroke-width="1.15"/>
<line x1="508.90" y1="495.26" x2="520.56" y2="495.26" stroke="#231815" stroke-width="1.15" />
<line x1="524.84" y1="495.26" x2="536.50" y2="495.26" stroke="#231815" stroke-width="1.15" />
<line x1="520.56" y1="483.60" x2="520.56" y2="495.26" stroke="#231815" stroke-width="1.15" />
<line x1="520.56" y1="499.54" x2="520.56" y2="511.20" stroke="#231815" stroke-width="1.15" />
<line x1="508.90" y1="499.54" x2="520.56" y2="499.54" stroke="#231815" stroke-width="1.15" />
<line x1="524.84" y1="499.54" x2="536.50" y2="499.54" stroke="#231815" stroke-width="1.15" />
<line x1="524.84" y1="483.60" x2="524.84" y2="495.26" stroke="#231815" stroke-width="1.15" />
<line x1="524.84" y1="499.54" x2="524.84" y2="511.20" stroke="#231815" stroke-width="1.15" />
<text x="491.27" y="502.44" font-size="14" font-family='"Liberation Sans", "Noto Sans CJK SC", sans-serif' fill="#231815" text-anchor="middle" textLength="19.92" lengthAdjust="spacingAndGlyphs" letter-spacing="1.54"  stroke="#231815" stroke-width="0.2">28</text>
<polyline points="446.80,464.20 469.70,464.20 469.70,478.40" fill="none" stroke="#231815" stroke-width="1.3" />
<line x1="465.40" y1="478.40" x2="474.00" y2="478.40" stroke="#231815" stroke-width="1.2" />
<line x1="467.20" y1="483.40" x2="472.20" y2="483.40" stroke="#231815" stroke-width="1.2" />
<polyline points="469.70,483.40 469.70,498.30 446.80,498.30" fill="none" stroke="#231815" stroke-width="1.3" />
<polygon points="442.80,464.20 448.20,461.40 448.20,467.00" fill="#231815"/>
<polygon points="442.80,498.30 448.20,495.50 448.20,501.10" fill="#231815"/>
<line x1="447.90" y1="454.90" x2="457.50" y2="454.90" stroke="#231815" stroke-width="1.3" />
<line x1="452.70" y1="450.10" x2="452.70" y2="459.70" stroke="#231815" stroke-width="1.3" />
<line x1="448.60" y1="507.70" x2="458.20" y2="507.70" stroke="#231815" stroke-width="1.3" />
<text x="436.30" y="486.60" font-size="15" font-family='"Liberation Sans", "Noto Sans CJK SC", sans-serif' fill="#231815" textLength="7.00" lengthAdjust="spacingAndGlyphs"  stroke="#231815" stroke-width="0.2">V</text>
<line x1="479.80" y1="520.50" x2="535.70" y2="520.50" stroke="#231815" stroke-width="1.15" />
<line x1="479.80" y1="547.30" x2="535.70" y2="547.30" stroke="#231815" stroke-width="1.15" />
<line x1="501.70" y1="520.50" x2="501.70" y2="547.30" stroke="#231815" stroke-width="1.15" />
<line x1="508.90" y1="520.50" x2="508.90" y2="547.30" stroke="#231815" stroke-width="1.15" />
<line x1="535.70" y1="520.50" x2="535.70" y2="547.30" stroke="#231815" stroke-width="1.15" />
<circle cx="522.30" cy="533.90" r="12.80" fill="none" stroke="#231815" stroke-width="1.15"/>
<line x1="508.90" y1="531.82" x2="520.22" y2="531.82" stroke="#231815" stroke-width="1.15" />
<line x1="524.38" y1="531.82" x2="535.70" y2="531.82" stroke="#231815" stroke-width="1.15" />
<line x1="520.22" y1="520.50" x2="520.22" y2="531.82" stroke="#231815" stroke-width="1.15" />
<line x1="520.22" y1="535.98" x2="520.22" y2="547.30" stroke="#231815" stroke-width="1.15" />
<line x1="508.90" y1="535.98" x2="520.22" y2="535.98" stroke="#231815" stroke-width="1.15" />
<line x1="524.38" y1="535.98" x2="535.70" y2="535.98" stroke="#231815" stroke-width="1.15" />
<line x1="524.38" y1="520.50" x2="524.38" y2="531.82" stroke="#231815" stroke-width="1.15" />
<line x1="524.38" y1="535.98" x2="524.38" y2="547.30" stroke="#231815" stroke-width="1.15" />
<text x="491.27" y="538.94" font-size="14" font-family='"Liberation Sans", "Noto Sans CJK SC", sans-serif' fill="#231815" text-anchor="middle" textLength="19.92" lengthAdjust="spacingAndGlyphs" letter-spacing="1.54"  stroke="#231815" stroke-width="0.2">27</text>
<line x1="479.80" y1="552.60" x2="535.70" y2="552.60" stroke="#231815" stroke-width="1.15" />
<line x1="479.80" y1="579.40" x2="535.70" y2="579.40" stroke="#231815" stroke-width="1.15" />
<line x1="501.70" y1="552.60" x2="501.70" y2="579.40" stroke="#231815" stroke-width="1.15" />
<line x1="508.90" y1="552.60" x2="508.90" y2="579.40" stroke="#231815" stroke-width="1.15" />
<line x1="535.70" y1="552.60" x2="535.70" y2="579.40" stroke="#231815" stroke-width="1.15" />
<circle cx="522.30" cy="566.00" r="12.80" fill="none" stroke="#231815" stroke-width="1.15"/>
<line x1="508.90" y1="563.92" x2="520.22" y2="563.92" stroke="#231815" stroke-width="1.15" />
<line x1="524.38" y1="563.92" x2="535.70" y2="563.92" stroke="#231815" stroke-width="1.15" />
<line x1="520.22" y1="552.60" x2="520.22" y2="563.92" stroke="#231815" stroke-width="1.15" />
<line x1="520.22" y1="568.08" x2="520.22" y2="579.40" stroke="#231815" stroke-width="1.15" />
<line x1="508.90" y1="568.08" x2="520.22" y2="568.08" stroke="#231815" stroke-width="1.15" />
<line x1="524.38" y1="568.08" x2="535.70" y2="568.08" stroke="#231815" stroke-width="1.15" />
<line x1="524.38" y1="552.60" x2="524.38" y2="563.92" stroke="#231815" stroke-width="1.15" />
<line x1="524.38" y1="568.08" x2="524.38" y2="579.40" stroke="#231815" stroke-width="1.15" />
<text x="491.27" y="571.04" font-size="14" font-family='"Liberation Sans", "Noto Sans CJK SC", sans-serif' fill="#231815" text-anchor="middle" textLength="19.92" lengthAdjust="spacingAndGlyphs" letter-spacing="1.54"  stroke="#231815" stroke-width="0.2">28</text>
<polyline points="481.80,533.20 461.00,533.20 461.00,542.00" fill="none" stroke="#231815" stroke-width="1.1" />
<circle cx="461.00" cy="543.60" r="1.50" fill="none" stroke="#231815" stroke-width="0.9"/>
<line x1="460.80" y1="544.40" x2="455.70" y2="552.60" stroke="#231815" stroke-width="1.1" />
<circle cx="461.00" cy="554.60" r="1.50" fill="none" stroke="#231815" stroke-width="0.9"/>
<polyline points="461.00,556.20 461.00,565.30 481.80,565.30" fill="none" stroke="#231815" stroke-width="1.1" />
<text x="435.90" y="556.60" font-size="13.5" font-family='"Liberation Sans", "Noto Sans CJK SC", sans-serif' fill="#231815" textLength="15.60" lengthAdjust="spacingAndGlyphs"  stroke="#231815" stroke-width="0.2">NO</text>
<text x="568.4 588.9 610.4 631.6 649.4" y="342.8" font-size="18.6" font-weight="300" font-family='"Liberation Serif", "Noto Serif CJK SC", serif' fill="#231815">变送输出2</text>
<text x="569.0 577.9 598.8 618.0" y="362.2" font-size="18.6" font-weight="300" font-family='"Liberation Serif", "Noto Serif CJK SC", serif' fill="#231815">/报警5</text>
<line x1="600.50" y1="378.00" x2="657.60" y2="378.00" stroke="#231815" stroke-width="1.15" />
<line x1="600.50" y1="406.00" x2="657.60" y2="406.00" stroke="#231815" stroke-width="1.15" />
<line x1="622.40" y1="378.00" x2="622.40" y2="406.00" stroke="#231815" stroke-width="1.15" />
<line x1="629.60" y1="378.00" x2="629.60" y2="406.00" stroke="#231815" stroke-width="1.15" />
<line x1="657.60" y1="378.00" x2="657.60" y2="406.00" stroke="#231815" stroke-width="1.15" />
<circle cx="643.60" cy="392.00" r="13.40" fill="none" stroke="#231815" stroke-width="1.15"/>
<line x1="629.60" y1="389.83" x2="641.43" y2="389.83" stroke="#231815" stroke-width="1.15" />
<line x1="645.77" y1="389.83" x2="657.60" y2="389.83" stroke="#231815" stroke-width="1.15" />
<line x1="641.43" y1="378.00" x2="641.43" y2="389.83" stroke="#231815" stroke-width="1.15" />
<line x1="641.43" y1="394.17" x2="641.43" y2="406.00" stroke="#231815" stroke-width="1.15" />
<line x1="629.60" y1="394.17" x2="641.43" y2="394.17" stroke="#231815" stroke-width="1.15" />
<line x1="645.77" y1="394.17" x2="657.60" y2="394.17" stroke="#231815" stroke-width="1.15" />
<line x1="645.77" y1="378.00" x2="645.77" y2="389.83" stroke="#231815" stroke-width="1.15" />
<line x1="645.77" y1="394.17" x2="645.77" y2="406.00" stroke="#231815" stroke-width="1.15" />
<text x="611.97" y="397.04" font-size="14" font-family='"Liberation Sans", "Noto Sans CJK SC", sans-serif' fill="#231815" text-anchor="middle" textLength="19.92" lengthAdjust="spacingAndGlyphs" letter-spacing="1.54"  stroke="#231815" stroke-width="0.2">29</text>
<line x1="600.50" y1="412.00" x2="657.20" y2="412.00" stroke="#231815" stroke-width="1.15" />
<line x1="600.50" y1="439.60" x2="657.20" y2="439.60" stroke="#231815" stroke-width="1.15" />
<line x1="622.40" y1="412.00" x2="622.40" y2="439.60" stroke="#231815" stroke-width="1.15" />
<line x1="629.60" y1="412.00" x2="629.60" y2="439.60" stroke="#231815" stroke-width="1.15" />
<line x1="657.20" y1="412.00" x2="657.20" y2="439.60" stroke="#231815" stroke-width="1.15" />
<circle cx="643.40" cy="425.80" r="13.20" fill="none" stroke="#231815" stroke-width="1.15"/>
<line x1="629.60" y1="423.66" x2="641.26" y2="423.66" stroke="#231815" stroke-width="1.15" />
<line x1="645.54" y1="423.66" x2="657.20" y2="423.66" stroke="#231815" stroke-width="1.15" />
<line x1="641.26" y1="412.00" x2="641.26" y2="423.66" stroke="#231815" stroke-width="1.15" />
<line x1="641.26" y1="427.94" x2="641.26" y2="439.60" stroke="#231815" stroke-width="1.15" />
<line x1="629.60" y1="427.94" x2="641.26" y2="427.94" stroke="#231815" stroke-width="1.15" />
<line x1="645.54" y1="427.94" x2="657.20" y2="427.94" stroke="#231815" stroke-width="1.15" />
<line x1="645.54" y1="412.00" x2="645.54" y2="423.66" stroke="#231815" stroke-width="1.15" />
<line x1="645.54" y1="427.94" x2="645.54" y2="439.60" stroke="#231815" stroke-width="1.15" />
<text x="611.97" y="430.84" font-size="14" font-family='"Liberation Sans", "Noto Sans CJK SC", sans-serif' fill="#231815" text-anchor="middle" textLength="19.92" lengthAdjust="spacingAndGlyphs" letter-spacing="1.54"  stroke="#231815" stroke-width="0.2">30</text>
<polyline points="572.50,389.50 595.10,389.50 595.10,423.30 572.50,423.30" fill="none" stroke="#231815" stroke-width="1.3" />
<polygon points="569.50,389.50 575.10,386.70 575.10,392.30" fill="#231815"/>
<polygon points="569.50,423.30 575.10,420.50 575.10,426.10" fill="#231815"/>
<circle cx="595.10" cy="406.00" r="4.90" fill="#fff" stroke="#231815" stroke-width="1"/>
<line x1="595.10" y1="400.00" x2="595.10" y2="407.00" stroke="#231815" stroke-width="1.3" />
<polygon points="592.40,405.30 597.80,405.30 595.10,409.90" fill="#231815"/>
<line x1="574.90" y1="380.20" x2="584.10" y2="380.20" stroke="#231815" stroke-width="1.3" />
<line x1="579.50" y1="375.60" x2="579.50" y2="384.80" stroke="#231815" stroke-width="1.3" />
<line x1="574.90" y1="430.80" x2="584.10" y2="430.80" stroke="#231815" stroke-width="1.3" />
<text x="552.50" y="410.00" font-size="13" font-family='"Liberation Sans", "Noto Sans CJK SC", sans-serif' fill="#231815" textLength="15.80" lengthAdjust="spacingAndGlyphs"  stroke="#231815" stroke-width="0.2">mA</text>
<line x1="600.50" y1="450.20" x2="657.50" y2="450.20" stroke="#231815" stroke-width="1.15" />
<line x1="600.50" y1="478.10" x2="657.50" y2="478.10" stroke="#231815" stroke-width="1.15" />
<line x1="622.40" y1="450.20" x2="622.40" y2="478.10" stroke="#231815" stroke-width="1.15" />
<line x1="629.60" y1="450.20" x2="629.60" y2="478.10" stroke="#231815" stroke-width="1.15" />
<line x1="657.50" y1="450.20" x2="657.50" y2="478.10" stroke="#231815" stroke-width="1.15" />
<circle cx="643.55" cy="464.15" r="13.35" fill="none" stroke="#231815" stroke-width="1.15"/>
<line x1="629.60" y1="461.99" x2="641.39" y2="461.99" stroke="#231815" stroke-width="1.15" />
<line x1="645.71" y1="461.99" x2="657.50" y2="461.99" stroke="#231815" stroke-width="1.15" />
<line x1="641.39" y1="450.20" x2="641.39" y2="461.99" stroke="#231815" stroke-width="1.15" />
<line x1="641.39" y1="466.31" x2="641.39" y2="478.10" stroke="#231815" stroke-width="1.15" />
<line x1="629.60" y1="466.31" x2="641.39" y2="466.31" stroke="#231815" stroke-width="1.15" />
<line x1="645.71" y1="466.31" x2="657.50" y2="466.31" stroke="#231815" stroke-width="1.15" />
<line x1="645.71" y1="450.20" x2="645.71" y2="461.99" stroke="#231815" stroke-width="1.15" />
<line x1="645.71" y1="466.31" x2="645.71" y2="478.10" stroke="#231815" stroke-width="1.15" />
<text x="611.97" y="469.19" font-size="14" font-family='"Liberation Sans", "Noto Sans CJK SC", sans-serif' fill="#231815" text-anchor="middle" textLength="19.92" lengthAdjust="spacingAndGlyphs" letter-spacing="1.54"  stroke="#231815" stroke-width="0.2">29</text>
<line x1="600.50" y1="483.60" x2="657.20" y2="483.60" stroke="#231815" stroke-width="1.15" />
<line x1="600.50" y1="511.20" x2="657.20" y2="511.20" stroke="#231815" stroke-width="1.15" />
<line x1="622.40" y1="483.60" x2="622.40" y2="511.20" stroke="#231815" stroke-width="1.15" />
<line x1="629.60" y1="483.60" x2="629.60" y2="511.20" stroke="#231815" stroke-width="1.15" />
<line x1="657.20" y1="483.60" x2="657.20" y2="511.20" stroke="#231815" stroke-width="1.15" />
<circle cx="643.40" cy="497.40" r="13.20" fill="none" stroke="#231815" stroke-width="1.15"/>
<line x1="629.60" y1="495.26" x2="641.26" y2="495.26" stroke="#231815" stroke-width="1.15" />
<line x1="645.54" y1="495.26" x2="657.20" y2="495.26" stroke="#231815" stroke-width="1.15" />
<line x1="641.26" y1="483.60" x2="641.26" y2="495.26" stroke="#231815" stroke-width="1.15" />
<line x1="641.26" y1="499.54" x2="641.26" y2="511.20" stroke="#231815" stroke-width="1.15" />
<line x1="629.60" y1="499.54" x2="641.26" y2="499.54" stroke="#231815" stroke-width="1.15" />
<line x1="645.54" y1="499.54" x2="657.20" y2="499.54" stroke="#231815" stroke-width="1.15" />
<line x1="645.54" y1="483.60" x2="645.54" y2="495.26" stroke="#231815" stroke-width="1.15" />
<line x1="645.54" y1="499.54" x2="645.54" y2="511.20" stroke="#231815" stroke-width="1.15" />
<text x="611.97" y="502.44" font-size="14" font-family='"Liberation Sans", "Noto Sans CJK SC", sans-serif' fill="#231815" text-anchor="middle" textLength="19.92" lengthAdjust="spacingAndGlyphs" letter-spacing="1.54"  stroke="#231815" stroke-width="0.2">30</text>
<polyline points="567.50,464.20 590.40,464.20 590.40,478.40" fill="none" stroke="#231815" stroke-width="1.3" />
<line x1="586.10" y1="478.40" x2="594.70" y2="478.40" stroke="#231815" stroke-width="1.2" />
<line x1="587.90" y1="483.40" x2="592.90" y2="483.40" stroke="#231815" stroke-width="1.2" />
<polyline points="590.40,483.40 590.40,498.30 567.50,498.30" fill="none" stroke="#231815" stroke-width="1.3" />
<polygon points="563.50,464.20 568.90,461.40 568.90,467.00" fill="#231815"/>
<polygon points="563.50,498.30 568.90,495.50 568.90,501.10" fill="#231815"/>
<line x1="568.60" y1="454.90" x2="578.20" y2="454.90" stroke="#231815" stroke-width="1.3" />
<line x1="573.40" y1="450.10" x2="573.40" y2="459.70" stroke="#231815" stroke-width="1.3" />
<line x1="569.30" y1="507.70" x2="578.90" y2="507.70" stroke="#231815" stroke-width="1.3" />
<text x="557.00" y="486.60" font-size="15" font-family='"Liberation Sans", "Noto Sans CJK SC", sans-serif' fill="#231815" textLength="7.00" lengthAdjust="spacingAndGlyphs"  stroke="#231815" stroke-width="0.2">V</text>
<line x1="600.50" y1="520.50" x2="656.40" y2="520.50" stroke="#231815" stroke-width="1.15" />
<line x1="600.50" y1="547.30" x2="656.40" y2="547.30" stroke="#231815" stroke-width="1.15" />
<line x1="622.40" y1="520.50" x2="622.40" y2="547.30" stroke="#231815" stroke-width="1.15" />
<line x1="629.60" y1="520.50" x2="629.60" y2="547.30" stroke="#231815" stroke-width="1.15" />
<line x1="656.40" y1="520.50" x2="656.40" y2="547.30" stroke="#231815" stroke-width="1.15" />
<circle cx="643.00" cy="533.90" r="12.80" fill="none" stroke="#231815" stroke-width="1.15"/>
<line x1="629.60" y1="531.82" x2="640.92" y2="531.82" stroke="#231815" stroke-width="1.15" />
<line x1="645.08" y1="531.82" x2="656.40" y2="531.82" stroke="#231815" stroke-width="1.15" />
<line x1="640.92" y1="520.50" x2="640.92" y2="531.82" stroke="#231815" stroke-width="1.15" />
<line x1="640.92" y1="535.98" x2="640.92" y2="547.30" stroke="#231815" stroke-width="1.15" />
<line x1="629.60" y1="535.98" x2="640.92" y2="535.98" stroke="#231815" stroke-width="1.15" />
<line x1="645.08" y1="535.98" x2="656.40" y2="535.98" stroke="#231815" stroke-width="1.15" />
<line x1="645.08" y1="520.50" x2="645.08" y2="531.82" stroke="#231815" stroke-width="1.15" />
<line x1="645.08" y1="535.98" x2="645.08" y2="547.30" stroke="#231815" stroke-width="1.15" />
<text x="611.97" y="538.94" font-size="14" font-family='"Liberation Sans", "Noto Sans CJK SC", sans-serif' fill="#231815" text-anchor="middle" textLength="19.92" lengthAdjust="spacingAndGlyphs" letter-spacing="1.54"  stroke="#231815" stroke-width="0.2">29</text>
<line x1="600.50" y1="552.60" x2="656.40" y2="552.60" stroke="#231815" stroke-width="1.15" />
<line x1="600.50" y1="579.40" x2="656.40" y2="579.40" stroke="#231815" stroke-width="1.15" />
<line x1="622.40" y1="552.60" x2="622.40" y2="579.40" stroke="#231815" stroke-width="1.15" />
<line x1="629.60" y1="552.60" x2="629.60" y2="579.40" stroke="#231815" stroke-width="1.15" />
<line x1="656.40" y1="552.60" x2="656.40" y2="579.40" stroke="#231815" stroke-width="1.15" />
<circle cx="643.00" cy="566.00" r="12.80" fill="none" stroke="#231815" stroke-width="1.15"/>
<line x1="629.60" y1="563.92" x2="640.92" y2="563.92" stroke="#231815" stroke-width="1.15" />
<line x1="645.08" y1="563.92" x2="656.40" y2="563.92" stroke="#231815" stroke-width="1.15" />
<line x1="640.92" y1="552.60" x2="640.92" y2="563.92" stroke="#231815" stroke-width="1.15" />
<line x1="640.92" y1="568.08" x2="640.92" y2="579.40" stroke="#231815" stroke-width="1.15" />
<line x1="629.60" y1="568.08" x2="640.92" y2="568.08" stroke="#231815" stroke-width="1.15" />
<line x1="645.08" y1="568.08" x2="656.40" y2="568.08" stroke="#231815" stroke-width="1.15" />
<line x1="645.08" y1="552.60" x2="645.08" y2="563.92" stroke="#231815" stroke-width="1.15" />
<line x1="645.08" y1="568.08" x2="645.08" y2="579.40" stroke="#231815" stroke-width="1.15" />
<text x="611.97" y="571.04" font-size="14" font-family='"Liberation Sans", "Noto Sans CJK SC", sans-serif' fill="#231815" text-anchor="middle" textLength="19.92" lengthAdjust="spacingAndGlyphs" letter-spacing="1.54"  stroke="#231815" stroke-width="0.2">30</text>
<polyline points="602.50,533.20 581.70,533.20 581.70,542.00" fill="none" stroke="#231815" stroke-width="1.1" />
<circle cx="581.70" cy="543.60" r="1.50" fill="none" stroke="#231815" stroke-width="0.9"/>
<line x1="581.50" y1="544.40" x2="576.40" y2="552.60" stroke="#231815" stroke-width="1.1" />
<circle cx="581.70" cy="554.60" r="1.50" fill="none" stroke="#231815" stroke-width="0.9"/>
<polyline points="581.70,556.20 581.70,565.30 602.50,565.30" fill="none" stroke="#231815" stroke-width="1.1" />
<text x="556.60" y="556.60" font-size="13.5" font-family='"Liberation Sans", "Noto Sans CJK SC", sans-serif' fill="#231815" textLength="15.60" lengthAdjust="spacingAndGlyphs"  stroke="#231815" stroke-width="0.2">NO</text>
<text x="684.2 704.7 726.2 747.4 765.2" y="342.8" font-size="18.6" font-weight="300" font-family='"Liberation Serif", "Noto Serif CJK SC", serif' fill="#231815">变送输出1</text>
<text x="684.8 693.7 714.6 733.8" y="362.2" font-size="18.6" font-weight="300" font-family='"Liberation Serif", "Noto Serif CJK SC", serif' fill="#231815">/报警6</text>
<line x1="722.30" y1="378.00" x2="779.40" y2="378.00" stroke="#231815" stroke-width="1.15" />
<line x1="722.30" y1="406.00" x2="779.40" y2="406.00" stroke="#231815" stroke-width="1.15" />
<line x1="744.20" y1="378.00" x2="744.20" y2="406.00" stroke="#231815" stroke-width="1.15" />
<line x1="751.40" y1="378.00" x2="751.40" y2="406.00" stroke="#231815" stroke-width="1.15" />
<line x1="779.40" y1="378.00" x2="779.40" y2="406.00" stroke="#231815" stroke-width="1.15" />
<circle cx="765.40" cy="392.00" r="13.40" fill="none" stroke="#231815" stroke-width="1.15"/>
<line x1="751.40" y1="389.83" x2="763.23" y2="389.83" stroke="#231815" stroke-width="1.15" />
<line x1="767.57" y1="389.83" x2="779.40" y2="389.83" stroke="#231815" stroke-width="1.15" />
<line x1="763.23" y1="378.00" x2="763.23" y2="389.83" stroke="#231815" stroke-width="1.15" />
<line x1="763.23" y1="394.17" x2="763.23" y2="406.00" stroke="#231815" stroke-width="1.15" />
<line x1="751.40" y1="394.17" x2="763.23" y2="394.17" stroke="#231815" stroke-width="1.15" />
<line x1="767.57" y1="394.17" x2="779.40" y2="394.17" stroke="#231815" stroke-width="1.15" />
<line x1="767.57" y1="378.00" x2="767.57" y2="389.83" stroke="#231815" stroke-width="1.15" />
<line x1="767.57" y1="394.17" x2="767.57" y2="406.00" stroke="#231815" stroke-width="1.15" />
<text x="733.77" y="397.04" font-size="14" font-family='"Liberation Sans", "Noto Sans CJK SC", sans-serif' fill="#231815" text-anchor="middle" textLength="19.92" lengthAdjust="spacingAndGlyphs" letter-spacing="1.54"  stroke="#231815" stroke-width="0.2">31</text>
<line x1="722.30" y1="412.00" x2="779.00" y2="412.00" stroke="#231815" stroke-width="1.15" />
<line x1="722.30" y1="439.60" x2="779.00" y2="439.60" stroke="#231815" stroke-width="1.15" />
<line x1="744.20" y1="412.00" x2="744.20" y2="439.60" stroke="#231815" stroke-width="1.15" />
<line x1="751.40" y1="412.00" x2="751.40" y2="439.60" stroke="#231815" stroke-width="1.15" />
<line x1="779.00" y1="412.00" x2="779.00" y2="439.60" stroke="#231815" stroke-width="1.15" />
<circle cx="765.20" cy="425.80" r="13.20" fill="none" stroke="#231815" stroke-width="1.15"/>
<line x1="751.40" y1="423.66" x2="763.06" y2="423.66" stroke="#231815" stroke-width="1.15" />
<line x1="767.34" y1="423.66" x2="779.00" y2="423.66" stroke="#231815" stroke-width="1.15" />
<line x1="763.06" y1="412.00" x2="763.06" y2="423.66" stroke="#231815" stroke-width="1.15" />
<line x1="763.06" y1="427.94" x2="763.06" y2="439.60" stroke="#231815" stroke-width="1.15" />
<line x1="751.40" y1="427.94" x2="763.06" y2="427.94" stroke="#231815" stroke-width="1.15" />
<line x1="767.34" y1="427.94" x2="779.00" y2="427.94" stroke="#231815" stroke-width="1.15" />
<line x1="767.34" y1="412.00" x2="767.34" y2="423.66" stroke="#231815" stroke-width="1.15" />
<line x1="767.34" y1="427.94" x2="767.34" y2="439.60" stroke="#231815" stroke-width="1.15" />
<text x="733.77" y="430.84" font-size="14" font-family='"Liberation Sans", "Noto Sans CJK SC", sans-serif' fill="#231815" text-anchor="middle" textLength="19.92" lengthAdjust="spacingAndGlyphs" letter-spacing="1.54"  stroke="#231815" stroke-width="0.2">32</text>
<polyline points="694.30,389.50 716.90,389.50 716.90,423.30 694.30,423.30" fill="none" stroke="#231815" stroke-width="1.3" />
<polygon points="691.30,389.50 696.90,386.70 696.90,392.30" fill="#231815"/>
<polygon points="691.30,423.30 696.90,420.50 696.90,426.10" fill="#231815"/>
<circle cx="716.90" cy="406.00" r="4.90" fill="#fff" stroke="#231815" stroke-width="1"/>
<line x1="716.90" y1="400.00" x2="716.90" y2="407.00" stroke="#231815" stroke-width="1.3" />
<polygon points="714.20,405.30 719.60,405.30 716.90,409.90" fill="#231815"/>
<line x1="696.70" y1="380.20" x2="705.90" y2="380.20" stroke="#231815" stroke-width="1.3" />
<line x1="701.30" y1="375.60" x2="701.30" y2="384.80" stroke="#231815" stroke-width="1.3" />
<line x1="696.70" y1="430.80" x2="705.90" y2="430.80" stroke="#231815" stroke-width="1.3" />
<text x="674.30" y="410.00" font-size="13" font-family='"Liberation Sans", "Noto Sans CJK SC", sans-serif' fill="#231815" textLength="15.80" lengthAdjust="spacingAndGlyphs"  stroke="#231815" stroke-width="0.2">mA</text>
<line x1="722.30" y1="450.20" x2="779.30" y2="450.20" stroke="#231815" stroke-width="1.15" />
<line x1="722.30" y1="478.10" x2="779.30" y2="478.10" stroke="#231815" stroke-width="1.15" />
<line x1="744.20" y1="450.20" x2="744.20" y2="478.10" stroke="#231815" stroke-width="1.15" />
<line x1="751.40" y1="450.20" x2="751.40" y2="478.10" stroke="#231815" stroke-width="1.15" />
<line x1="779.30" y1="450.20" x2="779.30" y2="478.10" stroke="#231815" stroke-width="1.15" />
<circle cx="765.35" cy="464.15" r="13.35" fill="none" stroke="#231815" stroke-width="1.15"/>
<line x1="751.40" y1="461.99" x2="763.19" y2="461.99" stroke="#231815" stroke-width="1.15" />
<line x1="767.51" y1="461.99" x2="779.30" y2="461.99" stroke="#231815" stroke-width="1.15" />
<line x1="763.19" y1="450.20" x2="763.19" y2="461.99" stroke="#231815" stroke-width="1.15" />
<line x1="763.19" y1="466.31" x2="763.19" y2="478.10" stroke="#231815" stroke-width="1.15" />
<line x1="751.40" y1="466.31" x2="763.19" y2="466.31" stroke="#231815" stroke-width="1.15" />
<line x1="767.51" y1="466.31" x2="779.30" y2="466.31" stroke="#231815" stroke-width="1.15" />
<line x1="767.51" y1="450.20" x2="767.51" y2="461.99" stroke="#231815" stroke-width="1.15" />
<line x1="767.51" y1="466.31" x2="767.51" y2="478.10" stroke="#231815" stroke-width="1.15" />
<text x="733.77" y="469.19" font-size="14" font-family='"Liberation Sans", "Noto Sans CJK SC", sans-serif' fill="#231815" text-anchor="middle" textLength="19.92" lengthAdjust="spacingAndGlyphs" letter-spacing="1.54"  stroke="#231815" stroke-width="0.2">31</text>
<line x1="722.30" y1="483.60" x2="779.00" y2="483.60" stroke="#231815" stroke-width="1.15" />
<line x1="722.30" y1="511.20" x2="779.00" y2="511.20" stroke="#231815" stroke-width="1.15" />
<line x1="744.20" y1="483.60" x2="744.20" y2="511.20" stroke="#231815" stroke-width="1.15" />
<line x1="751.40" y1="483.60" x2="751.40" y2="511.20" stroke="#231815" stroke-width="1.15" />
<line x1="779.00" y1="483.60" x2="779.00" y2="511.20" stroke="#231815" stroke-width="1.15" />
<circle cx="765.20" cy="497.40" r="13.20" fill="none" stroke="#231815" stroke-width="1.15"/>
<line x1="751.40" y1="495.26" x2="763.06" y2="495.26" stroke="#231815" stroke-width="1.15" />
<line x1="767.34" y1="495.26" x2="779.00" y2="495.26" stroke="#231815" stroke-width="1.15" />
<line x1="763.06" y1="483.60" x2="763.06" y2="495.26" stroke="#231815" stroke-width="1.15" />
<line x1="763.06" y1="499.54" x2="763.06" y2="511.20" stroke="#231815" stroke-width="1.15" />
<line x1="751.40" y1="499.54" x2="763.06" y2="499.54" stroke="#231815" stroke-width="1.15" />
<line x1="767.34" y1="499.54" x2="779.00" y2="499.54" stroke="#231815" stroke-width="1.15" />
<line x1="767.34" y1="483.60" x2="767.34" y2="495.26" stroke="#231815" stroke-width="1.15" />
<line x1="767.34" y1="499.54" x2="767.34" y2="511.20" stroke="#231815" stroke-width="1.15" />
<text x="733.77" y="502.44" font-size="14" font-family='"Liberation Sans", "Noto Sans CJK SC", sans-serif' fill="#231815" text-anchor="middle" textLength="19.92" lengthAdjust="spacingAndGlyphs" letter-spacing="1.54"  stroke="#231815" stroke-width="0.2">32</text>
<polyline points="689.30,464.20 712.20,464.20 712.20,478.40" fill="none" stroke="#231815" stroke-width="1.3" />
<line x1="707.90" y1="478.40" x2="716.50" y2="478.40" stroke="#231815" stroke-width="1.2" />
<line x1="709.70" y1="483.40" x2="714.70" y2="483.40" stroke="#231815" stroke-width="1.2" />
<polyline points="712.20,483.40 712.20,498.30 689.30,498.30" fill="none" stroke="#231815" stroke-width="1.3" />
<polygon points="685.30,464.20 690.70,461.40 690.70,467.00" fill="#231815"/>
<polygon points="685.30,498.30 690.70,495.50 690.70,501.10" fill="#231815"/>
<line x1="690.40" y1="454.90" x2="700.00" y2="454.90" stroke="#231815" stroke-width="1.3" />
<line x1="695.20" y1="450.10" x2="695.20" y2="459.70" stroke="#231815" stroke-width="1.3" />
<line x1="691.10" y1="507.70" x2="700.70" y2="507.70" stroke="#231815" stroke-width="1.3" />
<text x="678.80" y="486.60" font-size="15" font-family='"Liberation Sans", "Noto Sans CJK SC", sans-serif' fill="#231815" textLength="7.00" lengthAdjust="spacingAndGlyphs"  stroke="#231815" stroke-width="0.2">V</text>
<line x1="722.30" y1="520.50" x2="778.20" y2="520.50" stroke="#231815" stroke-width="1.15" />
<line x1="722.30" y1="547.30" x2="778.20" y2="547.30" stroke="#231815" stroke-width="1.15" />
<line x1="744.20" y1="520.50" x2="744.20" y2="547.30" stroke="#231815" stroke-width="1.15" />
<line x1="751.40" y1="520.50" x2="751.40" y2="547.30" stroke="#231815" stroke-width="1.15" />
<line x1="778.20" y1="520.50" x2="778.20" y2="547.30" stroke="#231815" stroke-width="1.15" />
<circle cx="764.80" cy="533.90" r="12.80" fill="none" stroke="#231815" stroke-width="1.15"/>
<line x1="751.40" y1="531.82" x2="762.72" y2="531.82" stroke="#231815" stroke-width="1.15" />
<line x1="766.88" y1="531.82" x2="778.20" y2="531.82" stroke="#231815" stroke-width="1.15" />
<line x1="762.72" y1="520.50" x2="762.72" y2="531.82" stroke="#231815" stroke-width="1.15" />
<line x1="762.72" y1="535.98" x2="762.72" y2="547.30" stroke="#231815" stroke-width="1.15" />
<line x1="751.40" y1="535.98" x2="762.72" y2="535.98" stroke="#231815" stroke-width="1.15" />
<line x1="766.88" y1="535.98" x2="778.20" y2="535.98" stroke="#231815" stroke-width="1.15" />
<line x1="766.88" y1="520.50" x2="766.88" y2="531.82" stroke="#231815" stroke-width="1.15" />
<line x1="766.88" y1="535.98" x2="766.88" y2="547.30" stroke="#231815" stroke-width="1.15" />
<text x="733.77" y="538.94" font-size="14" font-family='"Liberation Sans", "Noto Sans CJK SC", sans-serif' fill="#231815" text-anchor="middle" textLength="19.92" lengthAdjust="spacingAndGlyphs" letter-spacing="1.54"  stroke="#231815" stroke-width="0.2">31</text>
<line x1="722.30" y1="552.60" x2="778.20" y2="552.60" stroke="#231815" stroke-width="1.15" />
<line x1="722.30" y1="579.40" x2="778.20" y2="579.40" stroke="#231815" stroke-width="1.15" />
<line x1="744.20" y1="552.60" x2="744.20" y2="579.40" stroke="#231815" stroke-width="1.15" />
<line x1="751.40" y1="552.60" x2="751.40" y2="579.40" stroke="#231815" stroke-width="1.15" />
<line x1="778.20" y1="552.60" x2="778.20" y2="579.40" stroke="#231815" stroke-width="1.15" />
<circle cx="764.80" cy="566.00" r="12.80" fill="none" stroke="#231815" stroke-width="1.15"/>
<line x1="751.40" y1="563.92" x2="762.72" y2="563.92" stroke="#231815" stroke-width="1.15" />
<line x1="766.88" y1="563.92" x2="778.20" y2="563.92" stroke="#231815" stroke-width="1.15" />
<line x1="762.72" y1="552.60" x2="762.72" y2="563.92" stroke="#231815" stroke-width="1.15" />
<line x1="762.72" y1="568.08" x2="762.72" y2="579.40" stroke="#231815" stroke-width="1.15" />
<line x1="751.40" y1="568.08" x2="762.72" y2="568.08" stroke="#231815" stroke-width="1.15" />
<line x1="766.88" y1="568.08" x2="778.20" y2="568.08" stroke="#231815" stroke-width="1.15" />
<line x1="766.88" y1="552.60" x2="766.88" y2="563.92" stroke="#231815" stroke-width="1.15" />
<line x1="766.88" y1="568.08" x2="766.88" y2="579.40" stroke="#231815" stroke-width="1.15" />
<text x="733.77" y="571.04" font-size="14" font-family='"Liberation Sans", "Noto Sans CJK SC", sans-serif' fill="#231815" text-anchor="middle" textLength="19.92" lengthAdjust="spacingAndGlyphs" letter-spacing="1.54"  stroke="#231815" stroke-width="0.2">32</text>
<polyline points="724.30,533.20 703.50,533.20 703.50,542.00" fill="none" stroke="#231815" stroke-width="1.1" />
<circle cx="703.50" cy="543.60" r="1.50" fill="none" stroke="#231815" stroke-width="0.9"/>
<line x1="703.30" y1="544.40" x2="698.20" y2="552.60" stroke="#231815" stroke-width="1.1" />
<circle cx="703.50" cy="554.60" r="1.50" fill="none" stroke="#231815" stroke-width="0.9"/>
<polyline points="703.50,556.20 703.50,565.30 724.30,565.30" fill="none" stroke="#231815" stroke-width="1.1" />
<text x="678.40" y="556.60" font-size="13.5" font-family='"Liberation Sans", "Noto Sans CJK SC", sans-serif' fill="#231815" textLength="15.60" lengthAdjust="spacingAndGlyphs"  stroke="#231815" stroke-width="0.2">NO</text>
<rect x="387.30" y="618.80" width="320.40" height="319.40" fill="none" stroke="#2e2a28" stroke-width="2.2"/>
<line x1="387.30" y1="621.70" x2="432.60" y2="621.70" stroke="#231815" stroke-width="1.15" />
<line x1="387.30" y1="644.30" x2="432.60" y2="644.30" stroke="#231815" stroke-width="1.15" />
<line x1="404.30" y1="621.70" x2="404.30" y2="644.30" stroke="#231815" stroke-width="1.15" />
<line x1="410.00" y1="621.70" x2="410.00" y2="644.30" stroke="#231815" stroke-width="1.15" />
<line x1="432.60" y1="621.70" x2="432.60" y2="644.30" stroke="#231815" stroke-width="1.15" />
<circle cx="421.30" cy="633.00" r="10.70" fill="none" stroke="#231815" stroke-width="1.15"/>
<line x1="410.00" y1="631.25" x2="419.55" y2="631.25" stroke="#231815" stroke-width="1.15" />
<line x1="423.05" y1="631.25" x2="432.60" y2="631.25" stroke="#231815" stroke-width="1.15" />
<line x1="419.55" y1="621.70" x2="419.55" y2="631.25" stroke="#231815" stroke-width="1.15" />
<line x1="419.55" y1="634.75" x2="419.55" y2="644.30" stroke="#231815" stroke-width="1.15" />
<line x1="410.00" y1="634.75" x2="419.55" y2="634.75" stroke="#231815" stroke-width="1.15" />
<line x1="423.05" y1="634.75" x2="432.60" y2="634.75" stroke="#231815" stroke-width="1.15" />
<line x1="423.05" y1="621.70" x2="423.05" y2="631.25" stroke="#231815" stroke-width="1.15" />
<line x1="423.05" y1="634.75" x2="423.05" y2="644.30" stroke="#231815" stroke-width="1.15" />
<text x="394.60" y="638.22" font-size="14.5" font-family='"Liberation Sans", "Noto Sans CJK SC", sans-serif' fill="#231815" text-anchor="middle" textLength="6.90" lengthAdjust="spacingAndGlyphs"  stroke="#231815" stroke-width="0.2">1</text>
<line x1="612.90" y1="621.70" x2="707.70" y2="621.70" stroke="#231815" stroke-width="1.15" />
<line x1="612.90" y1="644.30" x2="707.70" y2="644.30" stroke="#231815" stroke-width="1.15" />
<line x1="630.30" y1="621.70" x2="630.30" y2="644.30" stroke="#231815" stroke-width="1.15" />
<line x1="636.10" y1="621.70" x2="636.10" y2="644.30" stroke="#231815" stroke-width="1.15" />
<line x1="658.60" y1="621.70" x2="658.60" y2="644.30" stroke="#231815" stroke-width="1.15" />
<line x1="662.20" y1="621.70" x2="662.20" y2="644.30" stroke="#231815" stroke-width="1.15" />
<line x1="684.50" y1="621.70" x2="684.50" y2="644.30" stroke="#231815" stroke-width="1.15" />
<line x1="690.50" y1="621.70" x2="690.50" y2="644.30" stroke="#231815" stroke-width="1.15" />
<circle cx="647.35" cy="633.00" r="10.55" fill="none" stroke="#231815" stroke-width="1.15"/>
<line x1="636.20" y1="631.27" x2="645.62" y2="631.27" stroke="#231815" stroke-width="1.15" />
<line x1="649.08" y1="631.27" x2="658.50" y2="631.27" stroke="#231815" stroke-width="1.15" />
<line x1="645.62" y1="621.85" x2="645.62" y2="631.27" stroke="#231815" stroke-width="1.15" />
<line x1="645.62" y1="634.73" x2="645.62" y2="644.15" stroke="#231815" stroke-width="1.15" />
<line x1="636.20" y1="634.73" x2="645.62" y2="634.73" stroke="#231815" stroke-width="1.15" />
<line x1="649.08" y1="634.73" x2="658.50" y2="634.73" stroke="#231815" stroke-width="1.15" />
<line x1="649.08" y1="621.85" x2="649.08" y2="631.27" stroke="#231815" stroke-width="1.15" />
<line x1="649.08" y1="634.73" x2="649.08" y2="644.15" stroke="#231815" stroke-width="1.15" />
<circle cx="673.35" cy="633.00" r="10.55" fill="none" stroke="#231815" stroke-width="1.15"/>
<line x1="662.20" y1="631.27" x2="671.62" y2="631.27" stroke="#231815" stroke-width="1.15" />
<line x1="675.08" y1="631.27" x2="684.50" y2="631.27" stroke="#231815" stroke-width="1.15" />
<line x1="671.62" y1="621.85" x2="671.62" y2="631.27" stroke="#231815" stroke-width="1.15" />
<line x1="671.62" y1="634.73" x2="671.62" y2="644.15" stroke="#231815" stroke-width="1.15" />
<line x1="662.20" y1="634.73" x2="671.62" y2="634.73" stroke="#231815" stroke-width="1.15" />
<line x1="675.08" y1="634.73" x2="684.50" y2="634.73" stroke="#231815" stroke-width="1.15" />
<line x1="675.08" y1="621.85" x2="675.08" y2="631.27" stroke="#231815" stroke-width="1.15" />
<line x1="675.08" y1="634.73" x2="675.08" y2="644.15" stroke="#231815" stroke-width="1.15" />
<text x="621.00" y="637.10" font-size="11.2" font-family='"Liberation Sans", "Noto Sans CJK SC", sans-serif' fill="#231815" text-anchor="middle" textLength="11.20" lengthAdjust="spacingAndGlyphs"  stroke="#231815" stroke-width="0.2">25</text>
<text x="700.30" y="637.10" font-size="11.2" font-family='"Liberation Sans", "Noto Sans CJK SC", sans-serif' fill="#231815" text-anchor="middle" textLength="11.20" lengthAdjust="spacingAndGlyphs"  stroke="#231815" stroke-width="0.2">13</text>
<line x1="387.30" y1="648.17" x2="432.60" y2="648.17" stroke="#231815" stroke-width="1.15" />
<line x1="387.30" y1="670.77" x2="432.60" y2="670.77" stroke="#231815" stroke-width="1.15" />
<line x1="404.30" y1="648.17" x2="404.30" y2="670.77" stroke="#231815" stroke-width="1.15" />
<line x1="410.00" y1="648.17" x2="410.00" y2="670.77" stroke="#231815" stroke-width="1.15" />
<line x1="432.60" y1="648.17" x2="432.60" y2="670.77" stroke="#231815" stroke-width="1.15" />
<circle cx="421.30" cy="659.47" r="10.70" fill="none" stroke="#231815" stroke-width="1.15"/>
<line x1="410.00" y1="657.72" x2="419.55" y2="657.72" stroke="#231815" stroke-width="1.15" />
<line x1="423.05" y1="657.72" x2="432.60" y2="657.72" stroke="#231815" stroke-width="1.15" />
<line x1="419.55" y1="648.17" x2="419.55" y2="657.72" stroke="#231815" stroke-width="1.15" />
<line x1="419.55" y1="661.22" x2="419.55" y2="670.77" stroke="#231815" stroke-width="1.15" />
<line x1="410.00" y1="661.22" x2="419.55" y2="661.22" stroke="#231815" stroke-width="1.15" />
<line x1="423.05" y1="661.22" x2="432.60" y2="661.22" stroke="#231815" stroke-width="1.15" />
<line x1="423.05" y1="648.17" x2="423.05" y2="657.72" stroke="#231815" stroke-width="1.15" />
<line x1="423.05" y1="661.22" x2="423.05" y2="670.77" stroke="#231815" stroke-width="1.15" />
<text x="394.60" y="664.69" font-size="14.5" font-family='"Liberation Sans", "Noto Sans CJK SC", sans-serif' fill="#231815" text-anchor="middle" textLength="6.90" lengthAdjust="spacingAndGlyphs"  stroke="#231815" stroke-width="0.2">2</text>
<line x1="612.90" y1="648.17" x2="707.70" y2="648.17" stroke="#231815" stroke-width="1.15" />
<line x1="612.90" y1="670.77" x2="707.70" y2="670.77" stroke="#231815" stroke-width="1.15" />
<line x1="630.30" y1="648.17" x2="630.30" y2="670.77" stroke="#231815" stroke-width="1.15" />
<line x1="636.10" y1="648.17" x2="636.10" y2="670.77" stroke="#231815" stroke-width="1.15" />
<line x1="658.60" y1="648.17" x2="658.60" y2="670.77" stroke="#231815" stroke-width="1.15" />
<line x1="662.20" y1="648.17" x2="662.20" y2="670.77" stroke="#231815" stroke-width="1.15" />
<line x1="684.50" y1="648.17" x2="684.50" y2="670.77" stroke="#231815" stroke-width="1.15" />
<line x1="690.50" y1="648.17" x2="690.50" y2="670.77" stroke="#231815" stroke-width="1.15" />
<circle cx="647.35" cy="659.47" r="10.55" fill="none" stroke="#231815" stroke-width="1.15"/>
<line x1="636.20" y1="657.74" x2="645.62" y2="657.74" stroke="#231815" stroke-width="1.15" />
<line x1="649.08" y1="657.74" x2="658.50" y2="657.74" stroke="#231815" stroke-width="1.15" />
<line x1="645.62" y1="648.32" x2="645.62" y2="657.74" stroke="#231815" stroke-width="1.15" />
<line x1="645.62" y1="661.20" x2="645.62" y2="670.62" stroke="#231815" stroke-width="1.15" />
<line x1="636.20" y1="661.20" x2="645.62" y2="661.20" stroke="#231815" stroke-width="1.15" />
<line x1="649.08" y1="661.20" x2="658.50" y2="661.20" stroke="#231815" stroke-width="1.15" />
<line x1="649.08" y1="648.32" x2="649.08" y2="657.74" stroke="#231815" stroke-width="1.15" />
<line x1="649.08" y1="661.20" x2="649.08" y2="670.62" stroke="#231815" stroke-width="1.15" />
<circle cx="673.35" cy="659.47" r="10.55" fill="none" stroke="#231815" stroke-width="1.15"/>
<line x1="662.20" y1="657.74" x2="671.62" y2="657.74" stroke="#231815" stroke-width="1.15" />
<line x1="675.08" y1="657.74" x2="684.50" y2="657.74" stroke="#231815" stroke-width="1.15" />
<line x1="671.62" y1="648.32" x2="671.62" y2="657.74" stroke="#231815" stroke-width="1.15" />
<line x1="671.62" y1="661.20" x2="671.62" y2="670.62" stroke="#231815" stroke-width="1.15" />
<line x1="662.20" y1="661.20" x2="671.62" y2="661.20" stroke="#231815" stroke-width="1.15" />
<line x1="675.08" y1="661.20" x2="684.50" y2="661.20" stroke="#231815" stroke-width="1.15" />
<line x1="675.08" y1="648.32" x2="675.08" y2="657.74" stroke="#231815" stroke-width="1.15" />
<line x1="675.08" y1="661.20" x2="675.08" y2="670.62" stroke="#231815" stroke-width="1.15" />
<text x="621.00" y="663.57" font-size="11.2" font-family='"Liberation Sans", "Noto Sans CJK SC", sans-serif' fill="#231815" text-anchor="middle" textLength="11.20" lengthAdjust="spacingAndGlyphs"  stroke="#231815" stroke-width="0.2">26</text>
<text x="700.30" y="663.57" font-size="11.2" font-family='"Liberation Sans", "Noto Sans CJK SC", sans-serif' fill="#231815" text-anchor="middle" textLength="11.20" lengthAdjust="spacingAndGlyphs"  stroke="#231815" stroke-width="0.2">14</text>
<line x1="387.30" y1="674.64" x2="432.60" y2="674.64" stroke="#231815" stroke-width="1.15" />
<line x1="387.30" y1="697.24" x2="432.60" y2="697.24" stroke="#231815" stroke-width="1.15" />
<line x1="404.30" y1="674.64" x2="404.30" y2="697.24" stroke="#231815" stroke-width="1.15" />
<line x1="410.00" y1="674.64" x2="410.00" y2="697.24" stroke="#231815" stroke-width="1.15" />
<line x1="432.60" y1="674.64" x2="432.60" y2="697.24" stroke="#231815" stroke-width="1.15" />
<circle cx="421.30" cy="685.94" r="10.70" fill="none" stroke="#231815" stroke-width="1.15"/>
<line x1="410.00" y1="684.19" x2="419.55" y2="684.19" stroke="#231815" stroke-width="1.15" />
<line x1="423.05" y1="684.19" x2="432.60" y2="684.19" stroke="#231815" stroke-width="1.15" />
<line x1="419.55" y1="674.64" x2="419.55" y2="684.19" stroke="#231815" stroke-width="1.15" />
<line x1="419.55" y1="687.69" x2="419.55" y2="697.24" stroke="#231815" stroke-width="1.15" />
<line x1="410.00" y1="687.69" x2="419.55" y2="687.69" stroke="#231815" stroke-width="1.15" />
<line x1="423.05" y1="687.69" x2="432.60" y2="687.69" stroke="#231815" stroke-width="1.15" />
<line x1="423.05" y1="674.64" x2="423.05" y2="684.19" stroke="#231815" stroke-width="1.15" />
<line x1="423.05" y1="687.69" x2="423.05" y2="697.24" stroke="#231815" stroke-width="1.15" />
<text x="394.60" y="691.16" font-size="14.5" font-family='"Liberation Sans", "Noto Sans CJK SC", sans-serif' fill="#231815" text-anchor="middle" textLength="6.90" lengthAdjust="spacingAndGlyphs"  stroke="#231815" stroke-width="0.2">3</text>
<line x1="612.90" y1="674.64" x2="707.70" y2="674.64" stroke="#231815" stroke-width="1.15" />
<line x1="612.90" y1="697.24" x2="707.70" y2="697.24" stroke="#231815" stroke-width="1.15" />
<line x1="630.30" y1="674.64" x2="630.30" y2="697.24" stroke="#231815" stroke-width="1.15" />
<line x1="636.10" y1="674.64" x2="636.10" y2="697.24" stroke="#231815" stroke-width="1.15" />
<line x1="658.60" y1="674.64" x2="658.60" y2="697.24" stroke="#231815" stroke-width="1.15" />
<line x1="662.20" y1="674.64" x2="662.20" y2="697.24" stroke="#231815" stroke-width="1.15" />
<line x1="684.50" y1="674.64" x2="684.50" y2="697.24" stroke="#231815" stroke-width="1.15" />
<line x1="690.50" y1="674.64" x2="690.50" y2="697.24" stroke="#231815" stroke-width="1.15" />
<circle cx="647.35" cy="685.94" r="10.55" fill="none" stroke="#231815" stroke-width="1.15"/>
<line x1="636.20" y1="684.21" x2="645.62" y2="684.21" stroke="#231815" stroke-width="1.15" />
<line x1="649.08" y1="684.21" x2="658.50" y2="684.21" stroke="#231815" stroke-width="1.15" />
<line x1="645.62" y1="674.79" x2="645.62" y2="684.21" stroke="#231815" stroke-width="1.15" />
<line x1="645.62" y1="687.67" x2="645.62" y2="697.09" stroke="#231815" stroke-width="1.15" />
<line x1="636.20" y1="687.67" x2="645.62" y2="687.67" stroke="#231815" stroke-width="1.15" />
<line x1="649.08" y1="687.67" x2="658.50" y2="687.67" stroke="#231815" stroke-width="1.15" />
<line x1="649.08" y1="674.79" x2="649.08" y2="684.21" stroke="#231815" stroke-width="1.15" />
<line x1="649.08" y1="687.67" x2="649.08" y2="697.09" stroke="#231815" stroke-width="1.15" />
<circle cx="673.35" cy="685.94" r="10.55" fill="none" stroke="#231815" stroke-width="1.15"/>
<line x1="662.20" y1="684.21" x2="671.62" y2="684.21" stroke="#231815" stroke-width="1.15" />
<line x1="675.08" y1="684.21" x2="684.50" y2="684.21" stroke="#231815" stroke-width="1.15" />
<line x1="671.62" y1="674.79" x2="671.62" y2="684.21" stroke="#231815" stroke-width="1.15" />
<line x1="671.62" y1="687.67" x2="671.62" y2="697.09" stroke="#231815" stroke-width="1.15" />
<line x1="662.20" y1="687.67" x2="671.62" y2="687.67" stroke="#231815" stroke-width="1.15" />
<line x1="675.08" y1="687.67" x2="684.50" y2="687.67" stroke="#231815" stroke-width="1.15" />
<line x1="675.08" y1="674.79" x2="675.08" y2="684.21" stroke="#231815" stroke-width="1.15" />
<line x1="675.08" y1="687.67" x2="675.08" y2="697.09" stroke="#231815" stroke-width="1.15" />
<text x="621.00" y="690.04" font-size="11.2" font-family='"Liberation Sans", "Noto Sans CJK SC", sans-serif' fill="#231815" text-anchor="middle" textLength="11.20" lengthAdjust="spacingAndGlyphs"  stroke="#231815" stroke-width="0.2">27</text>
<text x="700.30" y="690.04" font-size="11.2" font-family='"Liberation Sans", "Noto Sans CJK SC", sans-serif' fill="#231815" text-anchor="middle" textLength="11.20" lengthAdjust="spacingAndGlyphs"  stroke="#231815" stroke-width="0.2">15</text>
<line x1="387.30" y1="701.11" x2="432.60" y2="701.11" stroke="#231815" stroke-width="1.15" />
<line x1="387.30" y1="723.71" x2="432.60" y2="723.71" stroke="#231815" stroke-width="1.15" />
<line x1="404.30" y1="701.11" x2="404.30" y2="723.71" stroke="#231815" stroke-width="1.15" />
<line x1="410.00" y1="701.11" x2="410.00" y2="723.71" stroke="#231815" stroke-width="1.15" />
<line x1="432.60" y1="701.11" x2="432.60" y2="723.71" stroke="#231815" stroke-width="1.15" />
<circle cx="421.30" cy="712.41" r="10.70" fill="none" stroke="#231815" stroke-width="1.15"/>
<line x1="410.00" y1="710.66" x2="419.55" y2="710.66" stroke="#231815" stroke-width="1.15" />
<line x1="423.05" y1="710.66" x2="432.60" y2="710.66" stroke="#231815" stroke-width="1.15" />
<line x1="419.55" y1="701.11" x2="419.55" y2="710.66" stroke="#231815" stroke-width="1.15" />
<line x1="419.55" y1="714.16" x2="419.55" y2="723.71" stroke="#231815" stroke-width="1.15" />
<line x1="410.00" y1="714.16" x2="419.55" y2="714.16" stroke="#231815" stroke-width="1.15" />
<line x1="423.05" y1="714.16" x2="432.60" y2="714.16" stroke="#231815" stroke-width="1.15" />
<line x1="423.05" y1="701.11" x2="423.05" y2="710.66" stroke="#231815" stroke-width="1.15" />
<line x1="423.05" y1="714.16" x2="423.05" y2="723.71" stroke="#231815" stroke-width="1.15" />
<text x="394.60" y="717.63" font-size="14.5" font-family='"Liberation Sans", "Noto Sans CJK SC", sans-serif' fill="#231815" text-anchor="middle" textLength="6.90" lengthAdjust="spacingAndGlyphs"  stroke="#231815" stroke-width="0.2">4</text>
<line x1="612.90" y1="701.11" x2="707.70" y2="701.11" stroke="#231815" stroke-width="1.15" />
<line x1="612.90" y1="723.71" x2="707.70" y2="723.71" stroke="#231815" stroke-width="1.15" />
<line x1="630.30" y1="701.11" x2="630.30" y2="723.71" stroke="#231815" stroke-width="1.15" />
<line x1="636.10" y1="701.11" x2="636.10" y2="723.71" stroke="#231815" stroke-width="1.15" />
<line x1="658.60" y1="701.11" x2="658.60" y2="723.71" stroke="#231815" stroke-width="1.15" />
<line x1="662.20" y1="701.11" x2="662.20" y2="723.71" stroke="#231815" stroke-width="1.15" />
<line x1="684.50" y1="701.11" x2="684.50" y2="723.71" stroke="#231815" stroke-width="1.15" />
<line x1="690.50" y1="701.11" x2="690.50" y2="723.71" stroke="#231815" stroke-width="1.15" />
<circle cx="647.35" cy="712.41" r="10.55" fill="none" stroke="#231815" stroke-width="1.15"/>
<line x1="636.20" y1="710.68" x2="645.62" y2="710.68" stroke="#231815" stroke-width="1.15" />
<line x1="649.08" y1="710.68" x2="658.50" y2="710.68" stroke="#231815" stroke-width="1.15" />
<line x1="645.62" y1="701.26" x2="645.62" y2="710.68" stroke="#231815" stroke-width="1.15" />
<line x1="645.62" y1="714.14" x2="645.62" y2="723.56" stroke="#231815" stroke-width="1.15" />
<line x1="636.20" y1="714.14" x2="645.62" y2="714.14" stroke="#231815" stroke-width="1.15" />
<line x1="649.08" y1="714.14" x2="658.50" y2="714.14" stroke="#231815" stroke-width="1.15" />
<line x1="649.08" y1="701.26" x2="649.08" y2="710.68" stroke="#231815" stroke-width="1.15" />
<line x1="649.08" y1="714.14" x2="649.08" y2="723.56" stroke="#231815" stroke-width="1.15" />
<circle cx="673.35" cy="712.41" r="10.55" fill="none" stroke="#231815" stroke-width="1.15"/>
<line x1="662.20" y1="710.68" x2="671.62" y2="710.68" stroke="#231815" stroke-width="1.15" />
<line x1="675.08" y1="710.68" x2="684.50" y2="710.68" stroke="#231815" stroke-width="1.15" />
<line x1="671.62" y1="701.26" x2="671.62" y2="710.68" stroke="#231815" stroke-width="1.15" />
<line x1="671.62" y1="714.14" x2="671.62" y2="723.56" stroke="#231815" stroke-width="1.15" />
<line x1="662.20" y1="714.14" x2="671.62" y2="714.14" stroke="#231815" stroke-width="1.15" />
<line x1="675.08" y1="714.14" x2="684.50" y2="714.14" stroke="#231815" stroke-width="1.15" />
<line x1="675.08" y1="701.26" x2="675.08" y2="710.68" stroke="#231815" stroke-width="1.15" />
<line x1="675.08" y1="714.14" x2="675.08" y2="723.56" stroke="#231815" stroke-width="1.15" />
<text x="621.00" y="716.51" font-size="11.2" font-family='"Liberation Sans", "Noto Sans CJK SC", sans-serif' fill="#231815" text-anchor="middle" textLength="11.20" lengthAdjust="spacingAndGlyphs"  stroke="#231815" stroke-width="0.2">28</text>
<text x="700.30" y="716.51" font-size="11.2" font-family='"Liberation Sans", "Noto Sans CJK SC", sans-serif' fill="#231815" text-anchor="middle" textLength="11.20" lengthAdjust="spacingAndGlyphs"  stroke="#231815" stroke-width="0.2">16</text>
<line x1="387.30" y1="727.58" x2="432.60" y2="727.58" stroke="#231815" stroke-width="1.15" />
<line x1="387.30" y1="750.18" x2="432.60" y2="750.18" stroke="#231815" stroke-width="1.15" />
<line x1="404.30" y1="727.58" x2="404.30" y2="750.18" stroke="#231815" stroke-width="1.15" />
<line x1="410.00" y1="727.58" x2="410.00" y2="750.18" stroke="#231815" stroke-width="1.15" />
<line x1="432.60" y1="727.58" x2="432.60" y2="750.18" stroke="#231815" stroke-width="1.15" />
<circle cx="421.30" cy="738.88" r="10.70" fill="none" stroke="#231815" stroke-width="1.15"/>
<line x1="410.00" y1="737.13" x2="419.55" y2="737.13" stroke="#231815" stroke-width="1.15" />
<line x1="423.05" y1="737.13" x2="432.60" y2="737.13" stroke="#231815" stroke-width="1.15" />
<line x1="419.55" y1="727.58" x2="419.55" y2="737.13" stroke="#231815" stroke-width="1.15" />
<line x1="419.55" y1="740.63" x2="419.55" y2="750.18" stroke="#231815" stroke-width="1.15" />
<line x1="410.00" y1="740.63" x2="419.55" y2="740.63" stroke="#231815" stroke-width="1.15" />
<line x1="423.05" y1="740.63" x2="432.60" y2="740.63" stroke="#231815" stroke-width="1.15" />
<line x1="423.05" y1="727.58" x2="423.05" y2="737.13" stroke="#231815" stroke-width="1.15" />
<line x1="423.05" y1="740.63" x2="423.05" y2="750.18" stroke="#231815" stroke-width="1.15" />
<text x="394.60" y="744.10" font-size="14.5" font-family='"Liberation Sans", "Noto Sans CJK SC", sans-serif' fill="#231815" text-anchor="middle" textLength="6.90" lengthAdjust="spacingAndGlyphs"  stroke="#231815" stroke-width="0.2">5</text>
<line x1="612.90" y1="727.58" x2="707.70" y2="727.58" stroke="#231815" stroke-width="1.15" />
<line x1="612.90" y1="750.18" x2="707.70" y2="750.18" stroke="#231815" stroke-width="1.15" />
<line x1="630.30" y1="727.58" x2="630.30" y2="750.18" stroke="#231815" stroke-width="1.15" />
<line x1="636.10" y1="727.58" x2="636.10" y2="750.18" stroke="#231815" stroke-width="1.15" />
<line x1="658.60" y1="727.58" x2="658.60" y2="750.18" stroke="#231815" stroke-width="1.15" />
<line x1="662.20" y1="727.58" x2="662.20" y2="750.18" stroke="#231815" stroke-width="1.15" />
<line x1="684.50" y1="727.58" x2="684.50" y2="750.18" stroke="#231815" stroke-width="1.15" />
<line x1="690.50" y1="727.58" x2="690.50" y2="750.18" stroke="#231815" stroke-width="1.15" />
<circle cx="647.35" cy="738.88" r="10.55" fill="none" stroke="#231815" stroke-width="1.15"/>
<line x1="636.20" y1="737.15" x2="645.62" y2="737.15" stroke="#231815" stroke-width="1.15" />
<line x1="649.08" y1="737.15" x2="658.50" y2="737.15" stroke="#231815" stroke-width="1.15" />
<line x1="645.62" y1="727.73" x2="645.62" y2="737.15" stroke="#231815" stroke-width="1.15" />
<line x1="645.62" y1="740.61" x2="645.62" y2="750.03" stroke="#231815" stroke-width="1.15" />
<line x1="636.20" y1="740.61" x2="645.62" y2="740.61" stroke="#231815" stroke-width="1.15" />
<line x1="649.08" y1="740.61" x2="658.50" y2="740.61" stroke="#231815" stroke-width="1.15" />
<line x1="649.08" y1="727.73" x2="649.08" y2="737.15" stroke="#231815" stroke-width="1.15" />
<line x1="649.08" y1="740.61" x2="649.08" y2="750.03" stroke="#231815" stroke-width="1.15" />
<circle cx="673.35" cy="738.88" r="10.55" fill="none" stroke="#231815" stroke-width="1.15"/>
<line x1="662.20" y1="737.15" x2="671.62" y2="737.15" stroke="#231815" stroke-width="1.15" />
<line x1="675.08" y1="737.15" x2="684.50" y2="737.15" stroke="#231815" stroke-width="1.15" />
<line x1="671.62" y1="727.73" x2="671.62" y2="737.15" stroke="#231815" stroke-width="1.15" />
<line x1="671.62" y1="740.61" x2="671.62" y2="750.03" stroke="#231815" stroke-width="1.15" />
<line x1="662.20" y1="740.61" x2="671.62" y2="740.61" stroke="#231815" stroke-width="1.15" />
<line x1="675.08" y1="740.61" x2="684.50" y2="740.61" stroke="#231815" stroke-width="1.15" />
<line x1="675.08" y1="727.73" x2="675.08" y2="737.15" stroke="#231815" stroke-width="1.15" />
<line x1="675.08" y1="740.61" x2="675.08" y2="750.03" stroke="#231815" stroke-width="1.15" />
<text x="621.00" y="742.98" font-size="11.2" font-family='"Liberation Sans", "Noto Sans CJK SC", sans-serif' fill="#231815" text-anchor="middle" textLength="11.20" lengthAdjust="spacingAndGlyphs"  stroke="#231815" stroke-width="0.2">29</text>
<text x="700.30" y="742.98" font-size="11.2" font-family='"Liberation Sans", "Noto Sans CJK SC", sans-serif' fill="#231815" text-anchor="middle" textLength="11.20" lengthAdjust="spacingAndGlyphs"  stroke="#231815" stroke-width="0.2">17</text>
<line x1="387.30" y1="754.05" x2="432.60" y2="754.05" stroke="#231815" stroke-width="1.15" />
<line x1="387.30" y1="776.65" x2="432.60" y2="776.65" stroke="#231815" stroke-width="1.15" />
<line x1="404.30" y1="754.05" x2="404.30" y2="776.65" stroke="#231815" stroke-width="1.15" />
<line x1="410.00" y1="754.05" x2="410.00" y2="776.65" stroke="#231815" stroke-width="1.15" />
<line x1="432.60" y1="754.05" x2="432.60" y2="776.65" stroke="#231815" stroke-width="1.15" />
<circle cx="421.30" cy="765.35" r="10.70" fill="none" stroke="#231815" stroke-width="1.15"/>
<line x1="410.00" y1="763.60" x2="419.55" y2="763.60" stroke="#231815" stroke-width="1.15" />
<line x1="423.05" y1="763.60" x2="432.60" y2="763.60" stroke="#231815" stroke-width="1.15" />
<line x1="419.55" y1="754.05" x2="419.55" y2="763.60" stroke="#231815" stroke-width="1.15" />
<line x1="419.55" y1="767.10" x2="419.55" y2="776.65" stroke="#231815" stroke-width="1.15" />
<line x1="410.00" y1="767.10" x2="419.55" y2="767.10" stroke="#231815" stroke-width="1.15" />
<line x1="423.05" y1="767.10" x2="432.60" y2="767.10" stroke="#231815" stroke-width="1.15" />
<line x1="423.05" y1="754.05" x2="423.05" y2="763.60" stroke="#231815" stroke-width="1.15" />
<line x1="423.05" y1="767.10" x2="423.05" y2="776.65" stroke="#231815" stroke-width="1.15" />
<text x="394.60" y="770.57" font-size="14.5" font-family='"Liberation Sans", "Noto Sans CJK SC", sans-serif' fill="#231815" text-anchor="middle" textLength="6.90" lengthAdjust="spacingAndGlyphs"  stroke="#231815" stroke-width="0.2">6</text>
<line x1="612.90" y1="754.05" x2="707.70" y2="754.05" stroke="#231815" stroke-width="1.15" />
<line x1="612.90" y1="776.65" x2="707.70" y2="776.65" stroke="#231815" stroke-width="1.15" />
<line x1="630.30" y1="754.05" x2="630.30" y2="776.65" stroke="#231815" stroke-width="1.15" />
<line x1="636.10" y1="754.05" x2="636.10" y2="776.65" stroke="#231815" stroke-width="1.15" />
<line x1="658.60" y1="754.05" x2="658.60" y2="776.65" stroke="#231815" stroke-width="1.15" />
<line x1="662.20" y1="754.05" x2="662.20" y2="776.65" stroke="#231815" stroke-width="1.15" />
<line x1="684.50" y1="754.05" x2="684.50" y2="776.65" stroke="#231815" stroke-width="1.15" />
<line x1="690.50" y1="754.05" x2="690.50" y2="776.65" stroke="#231815" stroke-width="1.15" />
<circle cx="647.35" cy="765.35" r="10.55" fill="none" stroke="#231815" stroke-width="1.15"/>
<line x1="636.20" y1="763.62" x2="645.62" y2="763.62" stroke="#231815" stroke-width="1.15" />
<line x1="649.08" y1="763.62" x2="658.50" y2="763.62" stroke="#231815" stroke-width="1.15" />
<line x1="645.62" y1="754.20" x2="645.62" y2="763.62" stroke="#231815" stroke-width="1.15" />
<line x1="645.62" y1="767.08" x2="645.62" y2="776.50" stroke="#231815" stroke-width="1.15" />
<line x1="636.20" y1="767.08" x2="645.62" y2="767.08" stroke="#231815" stroke-width="1.15" />
<line x1="649.08" y1="767.08" x2="658.50" y2="767.08" stroke="#231815" stroke-width="1.15" />
<line x1="649.08" y1="754.20" x2="649.08" y2="763.62" stroke="#231815" stroke-width="1.15" />
<line x1="649.08" y1="767.08" x2="649.08" y2="776.50" stroke="#231815" stroke-width="1.15" />
<circle cx="673.35" cy="765.35" r="10.55" fill="none" stroke="#231815" stroke-width="1.15"/>
<line x1="662.20" y1="763.62" x2="671.62" y2="763.62" stroke="#231815" stroke-width="1.15" />
<line x1="675.08" y1="763.62" x2="684.50" y2="763.62" stroke="#231815" stroke-width="1.15" />
<line x1="671.62" y1="754.20" x2="671.62" y2="763.62" stroke="#231815" stroke-width="1.15" />
<line x1="671.62" y1="767.08" x2="671.62" y2="776.50" stroke="#231815" stroke-width="1.15" />
<line x1="662.20" y1="767.08" x2="671.62" y2="767.08" stroke="#231815" stroke-width="1.15" />
<line x1="675.08" y1="767.08" x2="684.50" y2="767.08" stroke="#231815" stroke-width="1.15" />
<line x1="675.08" y1="754.20" x2="675.08" y2="763.62" stroke="#231815" stroke-width="1.15" />
<line x1="675.08" y1="767.08" x2="675.08" y2="776.50" stroke="#231815" stroke-width="1.15" />
<text x="621.00" y="769.45" font-size="11.2" font-family='"Liberation Sans", "Noto Sans CJK SC", sans-serif' fill="#231815" text-anchor="middle" textLength="11.20" lengthAdjust="spacingAndGlyphs"  stroke="#231815" stroke-width="0.2">30</text>
<text x="700.30" y="769.45" font-size="11.2" font-family='"Liberation Sans", "Noto Sans CJK SC", sans-serif' fill="#231815" text-anchor="middle" textLength="11.20" lengthAdjust="spacingAndGlyphs"  stroke="#231815" stroke-width="0.2">18</text>
<line x1="387.30" y1="780.52" x2="432.60" y2="780.52" stroke="#231815" stroke-width="1.15" />
<line x1="387.30" y1="803.12" x2="432.60" y2="803.12" stroke="#231815" stroke-width="1.15" />
<line x1="404.30" y1="780.52" x2="404.30" y2="803.12" stroke="#231815" stroke-width="1.15" />
<line x1="410.00" y1="780.52" x2="410.00" y2="803.12" stroke="#231815" stroke-width="1.15" />
<line x1="432.60" y1="780.52" x2="432.60" y2="803.12" stroke="#231815" stroke-width="1.15" />
<circle cx="421.30" cy="791.82" r="10.70" fill="none" stroke="#231815" stroke-width="1.15"/>
<line x1="410.00" y1="790.07" x2="419.55" y2="790.07" stroke="#231815" stroke-width="1.15" />
<line x1="423.05" y1="790.07" x2="432.60" y2="790.07" stroke="#231815" stroke-width="1.15" />
<line x1="419.55" y1="780.52" x2="419.55" y2="790.07" stroke="#231815" stroke-width="1.15" />
<line x1="419.55" y1="793.57" x2="419.55" y2="803.12" stroke="#231815" stroke-width="1.15" />
<line x1="410.00" y1="793.57" x2="419.55" y2="793.57" stroke="#231815" stroke-width="1.15" />
<line x1="423.05" y1="793.57" x2="432.60" y2="793.57" stroke="#231815" stroke-width="1.15" />
<line x1="423.05" y1="780.52" x2="423.05" y2="790.07" stroke="#231815" stroke-width="1.15" />
<line x1="423.05" y1="793.57" x2="423.05" y2="803.12" stroke="#231815" stroke-width="1.15" />
<text x="394.60" y="797.04" font-size="14.5" font-family='"Liberation Sans", "Noto Sans CJK SC", sans-serif' fill="#231815" text-anchor="middle" textLength="6.90" lengthAdjust="spacingAndGlyphs"  stroke="#231815" stroke-width="0.2">7</text>
<line x1="612.90" y1="780.52" x2="707.70" y2="780.52" stroke="#231815" stroke-width="1.15" />
<line x1="612.90" y1="803.12" x2="707.70" y2="803.12" stroke="#231815" stroke-width="1.15" />
<line x1="630.30" y1="780.52" x2="630.30" y2="803.12" stroke="#231815" stroke-width="1.15" />
<line x1="636.10" y1="780.52" x2="636.10" y2="803.12" stroke="#231815" stroke-width="1.15" />
<line x1="658.60" y1="780.52" x2="658.60" y2="803.12" stroke="#231815" stroke-width="1.15" />
<line x1="662.20" y1="780.52" x2="662.20" y2="803.12" stroke="#231815" stroke-width="1.15" />
<line x1="684.50" y1="780.52" x2="684.50" y2="803.12" stroke="#231815" stroke-width="1.15" />
<line x1="690.50" y1="780.52" x2="690.50" y2="803.12" stroke="#231815" stroke-width="1.15" />
<circle cx="647.35" cy="791.82" r="10.55" fill="none" stroke="#231815" stroke-width="1.15"/>
<line x1="636.20" y1="790.09" x2="645.62" y2="790.09" stroke="#231815" stroke-width="1.15" />
<line x1="649.08" y1="790.09" x2="658.50" y2="790.09" stroke="#231815" stroke-width="1.15" />
<line x1="645.62" y1="780.67" x2="645.62" y2="790.09" stroke="#231815" stroke-width="1.15" />
<line x1="645.62" y1="793.55" x2="645.62" y2="802.97" stroke="#231815" stroke-width="1.15" />
<line x1="636.20" y1="793.55" x2="645.62" y2="793.55" stroke="#231815" stroke-width="1.15" />
<line x1="649.08" y1="793.55" x2="658.50" y2="793.55" stroke="#231815" stroke-width="1.15" />
<line x1="649.08" y1="780.67" x2="649.08" y2="790.09" stroke="#231815" stroke-width="1.15" />
<line x1="649.08" y1="793.55" x2="649.08" y2="802.97" stroke="#231815" stroke-width="1.15" />
<circle cx="673.35" cy="791.82" r="10.55" fill="none" stroke="#231815" stroke-width="1.15"/>
<line x1="662.20" y1="790.09" x2="671.62" y2="790.09" stroke="#231815" stroke-width="1.15" />
<line x1="675.08" y1="790.09" x2="684.50" y2="790.09" stroke="#231815" stroke-width="1.15" />
<line x1="671.62" y1="780.67" x2="671.62" y2="790.09" stroke="#231815" stroke-width="1.15" />
<line x1="671.62" y1="793.55" x2="671.62" y2="802.97" stroke="#231815" stroke-width="1.15" />
<line x1="662.20" y1="793.55" x2="671.62" y2="793.55" stroke="#231815" stroke-width="1.15" />
<line x1="675.08" y1="793.55" x2="684.50" y2="793.55" stroke="#231815" stroke-width="1.15" />
<line x1="675.08" y1="780.67" x2="675.08" y2="790.09" stroke="#231815" stroke-width="1.15" />
<line x1="675.08" y1="793.55" x2="675.08" y2="802.97" stroke="#231815" stroke-width="1.15" />
<text x="621.00" y="795.92" font-size="11.2" font-family='"Liberation Sans", "Noto Sans CJK SC", sans-serif' fill="#231815" text-anchor="middle" textLength="11.20" lengthAdjust="spacingAndGlyphs"  stroke="#231815" stroke-width="0.2">31</text>
<text x="700.30" y="795.92" font-size="11.2" font-family='"Liberation Sans", "Noto Sans CJK SC", sans-serif' fill="#231815" text-anchor="middle" textLength="11.20" lengthAdjust="spacingAndGlyphs"  stroke="#231815" stroke-width="0.2">19</text>
<line x1="387.30" y1="806.99" x2="432.60" y2="806.99" stroke="#231815" stroke-width="1.15" />
<line x1="387.30" y1="829.59" x2="432.60" y2="829.59" stroke="#231815" stroke-width="1.15" />
<line x1="404.30" y1="806.99" x2="404.30" y2="829.59" stroke="#231815" stroke-width="1.15" />
<line x1="410.00" y1="806.99" x2="410.00" y2="829.59" stroke="#231815" stroke-width="1.15" />
<line x1="432.60" y1="806.99" x2="432.60" y2="829.59" stroke="#231815" stroke-width="1.15" />
<circle cx="421.30" cy="818.29" r="10.70" fill="none" stroke="#231815" stroke-width="1.15"/>
<line x1="410.00" y1="816.54" x2="419.55" y2="816.54" stroke="#231815" stroke-width="1.15" />
<line x1="423.05" y1="816.54" x2="432.60" y2="816.54" stroke="#231815" stroke-width="1.15" />
<line x1="419.55" y1="806.99" x2="419.55" y2="816.54" stroke="#231815" stroke-width="1.15" />
<line x1="419.55" y1="820.04" x2="419.55" y2="829.59" stroke="#231815" stroke-width="1.15" />
<line x1="410.00" y1="820.04" x2="419.55" y2="820.04" stroke="#231815" stroke-width="1.15" />
<line x1="423.05" y1="820.04" x2="432.60" y2="820.04" stroke="#231815" stroke-width="1.15" />
<line x1="423.05" y1="806.99" x2="423.05" y2="816.54" stroke="#231815" stroke-width="1.15" />
<line x1="423.05" y1="820.04" x2="423.05" y2="829.59" stroke="#231815" stroke-width="1.15" />
<text x="394.60" y="823.51" font-size="14.5" font-family='"Liberation Sans", "Noto Sans CJK SC", sans-serif' fill="#231815" text-anchor="middle" textLength="6.90" lengthAdjust="spacingAndGlyphs"  stroke="#231815" stroke-width="0.2">8</text>
<line x1="612.90" y1="806.99" x2="707.70" y2="806.99" stroke="#231815" stroke-width="1.15" />
<line x1="612.90" y1="829.59" x2="707.70" y2="829.59" stroke="#231815" stroke-width="1.15" />
<line x1="630.30" y1="806.99" x2="630.30" y2="829.59" stroke="#231815" stroke-width="1.15" />
<line x1="636.10" y1="806.99" x2="636.10" y2="829.59" stroke="#231815" stroke-width="1.15" />
<line x1="658.60" y1="806.99" x2="658.60" y2="829.59" stroke="#231815" stroke-width="1.15" />
<line x1="662.20" y1="806.99" x2="662.20" y2="829.59" stroke="#231815" stroke-width="1.15" />
<line x1="684.50" y1="806.99" x2="684.50" y2="829.59" stroke="#231815" stroke-width="1.15" />
<line x1="690.50" y1="806.99" x2="690.50" y2="829.59" stroke="#231815" stroke-width="1.15" />
<circle cx="647.35" cy="818.29" r="10.55" fill="none" stroke="#231815" stroke-width="1.15"/>
<line x1="636.20" y1="816.56" x2="645.62" y2="816.56" stroke="#231815" stroke-width="1.15" />
<line x1="649.08" y1="816.56" x2="658.50" y2="816.56" stroke="#231815" stroke-width="1.15" />
<line x1="645.62" y1="807.14" x2="645.62" y2="816.56" stroke="#231815" stroke-width="1.15" />
<line x1="645.62" y1="820.02" x2="645.62" y2="829.44" stroke="#231815" stroke-width="1.15" />
<line x1="636.20" y1="820.02" x2="645.62" y2="820.02" stroke="#231815" stroke-width="1.15" />
<line x1="649.08" y1="820.02" x2="658.50" y2="820.02" stroke="#231815" stroke-width="1.15" />
<line x1="649.08" y1="807.14" x2="649.08" y2="816.56" stroke="#231815" stroke-width="1.15" />
<line x1="649.08" y1="820.02" x2="649.08" y2="829.44" stroke="#231815" stroke-width="1.15" />
<circle cx="673.35" cy="818.29" r="10.55" fill="none" stroke="#231815" stroke-width="1.15"/>
<line x1="662.20" y1="816.56" x2="671.62" y2="816.56" stroke="#231815" stroke-width="1.15" />
<line x1="675.08" y1="816.56" x2="684.50" y2="816.56" stroke="#231815" stroke-width="1.15" />
<line x1="671.62" y1="807.14" x2="671.62" y2="816.56" stroke="#231815" stroke-width="1.15" />
<line x1="671.62" y1="820.02" x2="671.62" y2="829.44" stroke="#231815" stroke-width="1.15" />
<line x1="662.20" y1="820.02" x2="671.62" y2="820.02" stroke="#231815" stroke-width="1.15" />
<line x1="675.08" y1="820.02" x2="684.50" y2="820.02" stroke="#231815" stroke-width="1.15" />
<line x1="675.08" y1="807.14" x2="675.08" y2="816.56" stroke="#231815" stroke-width="1.15" />
<line x1="675.08" y1="820.02" x2="675.08" y2="829.44" stroke="#231815" stroke-width="1.15" />
<text x="621.00" y="822.39" font-size="11.2" font-family='"Liberation Sans", "Noto Sans CJK SC", sans-serif' fill="#231815" text-anchor="middle" textLength="11.20" lengthAdjust="spacingAndGlyphs"  stroke="#231815" stroke-width="0.2">32</text>
<text x="700.30" y="822.39" font-size="11.2" font-family='"Liberation Sans", "Noto Sans CJK SC", sans-serif' fill="#231815" text-anchor="middle" textLength="11.20" lengthAdjust="spacingAndGlyphs"  stroke="#231815" stroke-width="0.2">20</text>
<line x1="387.30" y1="833.46" x2="432.60" y2="833.46" stroke="#231815" stroke-width="1.15" />
<line x1="387.30" y1="856.06" x2="432.60" y2="856.06" stroke="#231815" stroke-width="1.15" />
<line x1="404.30" y1="833.46" x2="404.30" y2="856.06" stroke="#231815" stroke-width="1.15" />
<line x1="410.00" y1="833.46" x2="410.00" y2="856.06" stroke="#231815" stroke-width="1.15" />
<line x1="432.60" y1="833.46" x2="432.60" y2="856.06" stroke="#231815" stroke-width="1.15" />
<circle cx="421.30" cy="844.76" r="10.70" fill="none" stroke="#231815" stroke-width="1.15"/>
<line x1="410.00" y1="843.01" x2="419.55" y2="843.01" stroke="#231815" stroke-width="1.15" />
<line x1="423.05" y1="843.01" x2="432.60" y2="843.01" stroke="#231815" stroke-width="1.15" />
<line x1="419.55" y1="833.46" x2="419.55" y2="843.01" stroke="#231815" stroke-width="1.15" />
<line x1="419.55" y1="846.51" x2="419.55" y2="856.06" stroke="#231815" stroke-width="1.15" />
<line x1="410.00" y1="846.51" x2="419.55" y2="846.51" stroke="#231815" stroke-width="1.15" />
<line x1="423.05" y1="846.51" x2="432.60" y2="846.51" stroke="#231815" stroke-width="1.15" />
<line x1="423.05" y1="833.46" x2="423.05" y2="843.01" stroke="#231815" stroke-width="1.15" />
<line x1="423.05" y1="846.51" x2="423.05" y2="856.06" stroke="#231815" stroke-width="1.15" />
<text x="394.60" y="849.98" font-size="14.5" font-family='"Liberation Sans", "Noto Sans CJK SC", sans-serif' fill="#231815" text-anchor="middle" textLength="6.90" lengthAdjust="spacingAndGlyphs"  stroke="#231815" stroke-width="0.2">9</text>
<line x1="612.90" y1="833.46" x2="707.70" y2="833.46" stroke="#231815" stroke-width="1.15" />
<line x1="612.90" y1="856.06" x2="707.70" y2="856.06" stroke="#231815" stroke-width="1.15" />
<line x1="630.30" y1="833.46" x2="630.30" y2="856.06" stroke="#231815" stroke-width="1.15" />
<line x1="636.10" y1="833.46" x2="636.10" y2="856.06" stroke="#231815" stroke-width="1.15" />
<line x1="658.60" y1="833.46" x2="658.60" y2="856.06" stroke="#231815" stroke-width="1.15" />
<line x1="662.20" y1="833.46" x2="662.20" y2="856.06" stroke="#231815" stroke-width="1.15" />
<line x1="684.50" y1="833.46" x2="684.50" y2="856.06" stroke="#231815" stroke-width="1.15" />
<line x1="690.50" y1="833.46" x2="690.50" y2="856.06" stroke="#231815" stroke-width="1.15" />
<circle cx="647.35" cy="844.76" r="10.55" fill="none" stroke="#231815" stroke-width="1.15"/>
<line x1="636.20" y1="843.03" x2="645.62" y2="843.03" stroke="#231815" stroke-width="1.15" />
<line x1="649.08" y1="843.03" x2="658.50" y2="843.03" stroke="#231815" stroke-width="1.15" />
<line x1="645.62" y1="833.61" x2="645.62" y2="843.03" stroke="#231815" stroke-width="1.15" />
<line x1="645.62" y1="846.49" x2="645.62" y2="855.91" stroke="#231815" stroke-width="1.15" />
<line x1="636.20" y1="846.49" x2="645.62" y2="846.49" stroke="#231815" stroke-width="1.15" />
<line x1="649.08" y1="846.49" x2="658.50" y2="846.49" stroke="#231815" stroke-width="1.15" />
<line x1="649.08" y1="833.61" x2="649.08" y2="843.03" stroke="#231815" stroke-width="1.15" />
<line x1="649.08" y1="846.49" x2="649.08" y2="855.91" stroke="#231815" stroke-width="1.15" />
<circle cx="673.35" cy="844.76" r="10.55" fill="none" stroke="#231815" stroke-width="1.15"/>
<line x1="662.20" y1="843.03" x2="671.62" y2="843.03" stroke="#231815" stroke-width="1.15" />
<line x1="675.08" y1="843.03" x2="684.50" y2="843.03" stroke="#231815" stroke-width="1.15" />
<line x1="671.62" y1="833.61" x2="671.62" y2="843.03" stroke="#231815" stroke-width="1.15" />
<line x1="671.62" y1="846.49" x2="671.62" y2="855.91" stroke="#231815" stroke-width="1.15" />
<line x1="662.20" y1="846.49" x2="671.62" y2="846.49" stroke="#231815" stroke-width="1.15" />
<line x1="675.08" y1="846.49" x2="684.50" y2="846.49" stroke="#231815" stroke-width="1.15" />
<line x1="675.08" y1="833.61" x2="675.08" y2="843.03" stroke="#231815" stroke-width="1.15" />
<line x1="675.08" y1="846.49" x2="675.08" y2="855.91" stroke="#231815" stroke-width="1.15" />
<text x="621.00" y="848.86" font-size="11.2" font-family='"Liberation Sans", "Noto Sans CJK SC", sans-serif' fill="#231815" text-anchor="middle" textLength="11.20" lengthAdjust="spacingAndGlyphs"  stroke="#231815" stroke-width="0.2">33</text>
<text x="700.30" y="848.86" font-size="11.2" font-family='"Liberation Sans", "Noto Sans CJK SC", sans-serif' fill="#231815" text-anchor="middle" textLength="11.20" lengthAdjust="spacingAndGlyphs"  stroke="#231815" stroke-width="0.2">21</text>
<line x1="387.30" y1="859.93" x2="432.60" y2="859.93" stroke="#231815" stroke-width="1.15" />
<line x1="387.30" y1="882.53" x2="432.60" y2="882.53" stroke="#231815" stroke-width="1.15" />
<line x1="404.30" y1="859.93" x2="404.30" y2="882.53" stroke="#231815" stroke-width="1.15" />
<line x1="410.00" y1="859.93" x2="410.00" y2="882.53" stroke="#231815" stroke-width="1.15" />
<line x1="432.60" y1="859.93" x2="432.60" y2="882.53" stroke="#231815" stroke-width="1.15" />
<circle cx="421.30" cy="871.23" r="10.70" fill="none" stroke="#231815" stroke-width="1.15"/>
<line x1="410.00" y1="869.48" x2="419.55" y2="869.48" stroke="#231815" stroke-width="1.15" />
<line x1="423.05" y1="869.48" x2="432.60" y2="869.48" stroke="#231815" stroke-width="1.15" />
<line x1="419.55" y1="859.93" x2="419.55" y2="869.48" stroke="#231815" stroke-width="1.15" />
<line x1="419.55" y1="872.98" x2="419.55" y2="882.53" stroke="#231815" stroke-width="1.15" />
<line x1="410.00" y1="872.98" x2="419.55" y2="872.98" stroke="#231815" stroke-width="1.15" />
<line x1="423.05" y1="872.98" x2="432.60" y2="872.98" stroke="#231815" stroke-width="1.15" />
<line x1="423.05" y1="859.93" x2="423.05" y2="869.48" stroke="#231815" stroke-width="1.15" />
<line x1="423.05" y1="872.98" x2="423.05" y2="882.53" stroke="#231815" stroke-width="1.15" />
<text x="396.40" y="876.45" font-size="14.5" font-family='"Liberation Sans", "Noto Sans CJK SC", sans-serif' fill="#231815" text-anchor="middle" textLength="12.60" lengthAdjust="spacingAndGlyphs"  stroke="#231815" stroke-width="0.2">10</text>
<line x1="612.90" y1="859.93" x2="707.70" y2="859.93" stroke="#231815" stroke-width="1.15" />
<line x1="612.90" y1="882.53" x2="707.70" y2="882.53" stroke="#231815" stroke-width="1.15" />
<line x1="630.30" y1="859.93" x2="630.30" y2="882.53" stroke="#231815" stroke-width="1.15" />
<line x1="636.10" y1="859.93" x2="636.10" y2="882.53" stroke="#231815" stroke-width="1.15" />
<line x1="658.60" y1="859.93" x2="658.60" y2="882.53" stroke="#231815" stroke-width="1.15" />
<line x1="662.20" y1="859.93" x2="662.20" y2="882.53" stroke="#231815" stroke-width="1.15" />
<line x1="684.50" y1="859.93" x2="684.50" y2="882.53" stroke="#231815" stroke-width="1.15" />
<line x1="690.50" y1="859.93" x2="690.50" y2="882.53" stroke="#231815" stroke-width="1.15" />
<circle cx="647.35" cy="871.23" r="10.55" fill="none" stroke="#231815" stroke-width="1.15"/>
<line x1="636.20" y1="869.50" x2="645.62" y2="869.50" stroke="#231815" stroke-width="1.15" />
<line x1="649.08" y1="869.50" x2="658.50" y2="869.50" stroke="#231815" stroke-width="1.15" />
<line x1="645.62" y1="860.08" x2="645.62" y2="869.50" stroke="#231815" stroke-width="1.15" />
<line x1="645.62" y1="872.96" x2="645.62" y2="882.38" stroke="#231815" stroke-width="1.15" />
<line x1="636.20" y1="872.96" x2="645.62" y2="872.96" stroke="#231815" stroke-width="1.15" />
<line x1="649.08" y1="872.96" x2="658.50" y2="872.96" stroke="#231815" stroke-width="1.15" />
<line x1="649.08" y1="860.08" x2="649.08" y2="869.50" stroke="#231815" stroke-width="1.15" />
<line x1="649.08" y1="872.96" x2="649.08" y2="882.38" stroke="#231815" stroke-width="1.15" />
<circle cx="673.35" cy="871.23" r="10.55" fill="none" stroke="#231815" stroke-width="1.15"/>
<line x1="662.20" y1="869.50" x2="671.62" y2="869.50" stroke="#231815" stroke-width="1.15" />
<line x1="675.08" y1="869.50" x2="684.50" y2="869.50" stroke="#231815" stroke-width="1.15" />
<line x1="671.62" y1="860.08" x2="671.62" y2="869.50" stroke="#231815" stroke-width="1.15" />
<line x1="671.62" y1="872.96" x2="671.62" y2="882.38" stroke="#231815" stroke-width="1.15" />
<line x1="662.20" y1="872.96" x2="671.62" y2="872.96" stroke="#231815" stroke-width="1.15" />
<line x1="675.08" y1="872.96" x2="684.50" y2="872.96" stroke="#231815" stroke-width="1.15" />
<line x1="675.08" y1="860.08" x2="675.08" y2="869.50" stroke="#231815" stroke-width="1.15" />
<line x1="675.08" y1="872.96" x2="675.08" y2="882.38" stroke="#231815" stroke-width="1.15" />
<text x="621.00" y="875.33" font-size="11.2" font-family='"Liberation Sans", "Noto Sans CJK SC", sans-serif' fill="#231815" text-anchor="middle" textLength="11.20" lengthAdjust="spacingAndGlyphs"  stroke="#231815" stroke-width="0.2">34</text>
<text x="700.30" y="875.33" font-size="11.2" font-family='"Liberation Sans", "Noto Sans CJK SC", sans-serif' fill="#231815" text-anchor="middle" textLength="11.20" lengthAdjust="spacingAndGlyphs"  stroke="#231815" stroke-width="0.2">22</text>
<line x1="387.30" y1="886.40" x2="432.60" y2="886.40" stroke="#231815" stroke-width="1.15" />
<line x1="387.30" y1="909.00" x2="432.60" y2="909.00" stroke="#231815" stroke-width="1.15" />
<line x1="404.30" y1="886.40" x2="404.30" y2="909.00" stroke="#231815" stroke-width="1.15" />
<line x1="410.00" y1="886.40" x2="410.00" y2="909.00" stroke="#231815" stroke-width="1.15" />
<line x1="432.60" y1="886.40" x2="432.60" y2="909.00" stroke="#231815" stroke-width="1.15" />
<circle cx="421.30" cy="897.70" r="10.70" fill="none" stroke="#231815" stroke-width="1.15"/>
<line x1="410.00" y1="895.95" x2="419.55" y2="895.95" stroke="#231815" stroke-width="1.15" />
<line x1="423.05" y1="895.95" x2="432.60" y2="895.95" stroke="#231815" stroke-width="1.15" />
<line x1="419.55" y1="886.40" x2="419.55" y2="895.95" stroke="#231815" stroke-width="1.15" />
<line x1="419.55" y1="899.45" x2="419.55" y2="909.00" stroke="#231815" stroke-width="1.15" />
<line x1="410.00" y1="899.45" x2="419.55" y2="899.45" stroke="#231815" stroke-width="1.15" />
<line x1="423.05" y1="899.45" x2="432.60" y2="899.45" stroke="#231815" stroke-width="1.15" />
<line x1="423.05" y1="886.40" x2="423.05" y2="895.95" stroke="#231815" stroke-width="1.15" />
<line x1="423.05" y1="899.45" x2="423.05" y2="909.00" stroke="#231815" stroke-width="1.15" />
<text x="396.40" y="902.92" font-size="14.5" font-family='"Liberation Sans", "Noto Sans CJK SC", sans-serif' fill="#231815" text-anchor="middle" textLength="12.60" lengthAdjust="spacingAndGlyphs"  stroke="#231815" stroke-width="0.2">11</text>
<line x1="612.90" y1="886.40" x2="707.70" y2="886.40" stroke="#231815" stroke-width="1.15" />
<line x1="612.90" y1="909.00" x2="707.70" y2="909.00" stroke="#231815" stroke-width="1.15" />
<line x1="630.30" y1="886.40" x2="630.30" y2="909.00" stroke="#231815" stroke-width="1.15" />
<line x1="636.10" y1="886.40" x2="636.10" y2="909.00" stroke="#231815" stroke-width="1.15" />
<line x1="658.60" y1="886.40" x2="658.60" y2="909.00" stroke="#231815" stroke-width="1.15" />
<line x1="662.20" y1="886.40" x2="662.20" y2="909.00" stroke="#231815" stroke-width="1.15" />
<line x1="684.50" y1="886.40" x2="684.50" y2="909.00" stroke="#231815" stroke-width="1.15" />
<line x1="690.50" y1="886.40" x2="690.50" y2="909.00" stroke="#231815" stroke-width="1.15" />
<circle cx="647.35" cy="897.70" r="10.55" fill="none" stroke="#231815" stroke-width="1.15"/>
<line x1="636.20" y1="895.97" x2="645.62" y2="895.97" stroke="#231815" stroke-width="1.15" />
<line x1="649.08" y1="895.97" x2="658.50" y2="895.97" stroke="#231815" stroke-width="1.15" />
<line x1="645.62" y1="886.55" x2="645.62" y2="895.97" stroke="#231815" stroke-width="1.15" />
<line x1="645.62" y1="899.43" x2="645.62" y2="908.85" stroke="#231815" stroke-width="1.15" />
<line x1="636.20" y1="899.43" x2="645.62" y2="899.43" stroke="#231815" stroke-width="1.15" />
<line x1="649.08" y1="899.43" x2="658.50" y2="899.43" stroke="#231815" stroke-width="1.15" />
<line x1="649.08" y1="886.55" x2="649.08" y2="895.97" stroke="#231815" stroke-width="1.15" />
<line x1="649.08" y1="899.43" x2="649.08" y2="908.85" stroke="#231815" stroke-width="1.15" />
<circle cx="673.35" cy="897.70" r="10.55" fill="none" stroke="#231815" stroke-width="1.15"/>
<line x1="662.20" y1="895.97" x2="671.62" y2="895.97" stroke="#231815" stroke-width="1.15" />
<line x1="675.08" y1="895.97" x2="684.50" y2="895.97" stroke="#231815" stroke-width="1.15" />
<line x1="671.62" y1="886.55" x2="671.62" y2="895.97" stroke="#231815" stroke-width="1.15" />
<line x1="671.62" y1="899.43" x2="671.62" y2="908.85" stroke="#231815" stroke-width="1.15" />
<line x1="662.20" y1="899.43" x2="671.62" y2="899.43" stroke="#231815" stroke-width="1.15" />
<line x1="675.08" y1="899.43" x2="684.50" y2="899.43" stroke="#231815" stroke-width="1.15" />
<line x1="675.08" y1="886.55" x2="675.08" y2="895.97" stroke="#231815" stroke-width="1.15" />
<line x1="675.08" y1="899.43" x2="675.08" y2="908.85" stroke="#231815" stroke-width="1.15" />
<text x="621.00" y="901.80" font-size="11.2" font-family='"Liberation Sans", "Noto Sans CJK SC", sans-serif' fill="#231815" text-anchor="middle" textLength="11.20" lengthAdjust="spacingAndGlyphs"  stroke="#231815" stroke-width="0.2">35</text>
<text x="700.30" y="901.80" font-size="11.2" font-family='"Liberation Sans", "Noto Sans CJK SC", sans-serif' fill="#231815" text-anchor="middle" textLength="11.20" lengthAdjust="spacingAndGlyphs"  stroke="#231815" stroke-width="0.2">23</text>
<line x1="387.30" y1="912.87" x2="432.60" y2="912.87" stroke="#231815" stroke-width="1.15" />
<line x1="387.30" y1="935.47" x2="432.60" y2="935.47" stroke="#231815" stroke-width="1.15" />
<line x1="404.30" y1="912.87" x2="404.30" y2="935.47" stroke="#231815" stroke-width="1.15" />
<line x1="410.00" y1="912.87" x2="410.00" y2="935.47" stroke="#231815" stroke-width="1.15" />
<line x1="432.60" y1="912.87" x2="432.60" y2="935.47" stroke="#231815" stroke-width="1.15" />
<circle cx="421.30" cy="924.17" r="10.70" fill="none" stroke="#231815" stroke-width="1.15"/>
<line x1="410.00" y1="922.42" x2="419.55" y2="922.42" stroke="#231815" stroke-width="1.15" />
<line x1="423.05" y1="922.42" x2="432.60" y2="922.42" stroke="#231815" stroke-width="1.15" />
<line x1="419.55" y1="912.87" x2="419.55" y2="922.42" stroke="#231815" stroke-width="1.15" />
<line x1="419.55" y1="925.92" x2="419.55" y2="935.47" stroke="#231815" stroke-width="1.15" />
<line x1="410.00" y1="925.92" x2="419.55" y2="925.92" stroke="#231815" stroke-width="1.15" />
<line x1="423.05" y1="925.92" x2="432.60" y2="925.92" stroke="#231815" stroke-width="1.15" />
<line x1="423.05" y1="912.87" x2="423.05" y2="922.42" stroke="#231815" stroke-width="1.15" />
<line x1="423.05" y1="925.92" x2="423.05" y2="935.47" stroke="#231815" stroke-width="1.15" />
<text x="396.40" y="929.39" font-size="14.5" font-family='"Liberation Sans", "Noto Sans CJK SC", sans-serif' fill="#231815" text-anchor="middle" textLength="12.60" lengthAdjust="spacingAndGlyphs"  stroke="#231815" stroke-width="0.2">12</text>
<line x1="612.90" y1="912.87" x2="707.70" y2="912.87" stroke="#231815" stroke-width="1.15" />
<line x1="612.90" y1="935.47" x2="707.70" y2="935.47" stroke="#231815" stroke-width="1.15" />
<line x1="630.30" y1="912.87" x2="630.30" y2="935.47" stroke="#231815" stroke-width="1.15" />
<line x1="636.10" y1="912.87" x2="636.10" y2="935.47" stroke="#231815" stroke-width="1.15" />
<line x1="658.60" y1="912.87" x2="658.60" y2="935.47" stroke="#231815" stroke-width="1.15" />
<line x1="662.20" y1="912.87" x2="662.20" y2="935.47" stroke="#231815" stroke-width="1.15" />
<line x1="684.50" y1="912.87" x2="684.50" y2="935.47" stroke="#231815" stroke-width="1.15" />
<line x1="690.50" y1="912.87" x2="690.50" y2="935.47" stroke="#231815" stroke-width="1.15" />
<circle cx="647.35" cy="924.17" r="10.55" fill="none" stroke="#231815" stroke-width="1.15"/>
<line x1="636.20" y1="922.44" x2="645.62" y2="922.44" stroke="#231815" stroke-width="1.15" />
<line x1="649.08" y1="922.44" x2="658.50" y2="922.44" stroke="#231815" stroke-width="1.15" />
<line x1="645.62" y1="913.02" x2="645.62" y2="922.44" stroke="#231815" stroke-width="1.15" />
<line x1="645.62" y1="925.90" x2="645.62" y2="935.32" stroke="#231815" stroke-width="1.15" />
<line x1="636.20" y1="925.90" x2="645.62" y2="925.90" stroke="#231815" stroke-width="1.15" />
<line x1="649.08" y1="925.90" x2="658.50" y2="925.90" stroke="#231815" stroke-width="1.15" />
<line x1="649.08" y1="913.02" x2="649.08" y2="922.44" stroke="#231815" stroke-width="1.15" />
<line x1="649.08" y1="925.90" x2="649.08" y2="935.32" stroke="#231815" stroke-width="1.15" />
<circle cx="673.35" cy="924.17" r="10.55" fill="none" stroke="#231815" stroke-width="1.15"/>
<line x1="662.20" y1="922.44" x2="671.62" y2="922.44" stroke="#231815" stroke-width="1.15" />
<line x1="675.08" y1="922.44" x2="684.50" y2="922.44" stroke="#231815" stroke-width="1.15" />
<line x1="671.62" y1="913.02" x2="671.62" y2="922.44" stroke="#231815" stroke-width="1.15" />
<line x1="671.62" y1="925.90" x2="671.62" y2="935.32" stroke="#231815" stroke-width="1.15" />
<line x1="662.20" y1="925.90" x2="671.62" y2="925.90" stroke="#231815" stroke-width="1.15" />
<line x1="675.08" y1="925.90" x2="684.50" y2="925.90" stroke="#231815" stroke-width="1.15" />
<line x1="675.08" y1="913.02" x2="675.08" y2="922.44" stroke="#231815" stroke-width="1.15" />
<line x1="675.08" y1="925.90" x2="675.08" y2="935.32" stroke="#231815" stroke-width="1.15" />
<text x="621.00" y="928.27" font-size="11.2" font-family='"Liberation Sans", "Noto Sans CJK SC", sans-serif' fill="#231815" text-anchor="middle" textLength="11.20" lengthAdjust="spacingAndGlyphs"  stroke="#231815" stroke-width="0.2">36</text>
<text x="700.30" y="928.27" font-size="11.2" font-family='"Liberation Sans", "Noto Sans CJK SC", sans-serif' fill="#231815" text-anchor="middle" textLength="11.20" lengthAdjust="spacingAndGlyphs"  stroke="#231815" stroke-width="0.2">24</text>
<path d="M 381.40,627.00 Q 378.60,627.00 378.60,631.30 L 378.60,697.20 Q 378.60,699.90 376.00,700.70 Q 378.60,701.50 378.60,704.20 L 378.60,768.70 Q 378.60,773.00 381.40,773.00" fill="none" stroke="#231815" stroke-width="2" stroke-linejoin="round" stroke-linecap="round"/>
<path d="M 381.80,787.60 Q 379.00,787.60 379.00,791.90 L 379.00,829.00 Q 379.00,831.70 376.40,832.50 Q 379.00,833.30 379.00,836.00 L 379.00,873.90 Q 379.00,878.20 381.80,878.20" fill="none" stroke="#231815" stroke-width="2" stroke-linejoin="round" stroke-linecap="round"/>
<path d="M 381.80,887.40 Q 379.00,887.40 379.00,891.70 L 379.00,908.70 Q 379.00,911.40 376.40,912.20 Q 379.00,913.00 379.00,915.70 L 379.00,933.10 Q 379.00,937.40 381.80,937.40" fill="none" stroke="#231815" stroke-width="2" stroke-linejoin="round" stroke-linecap="round"/>
<path d="M 602.80,625.60 Q 601.60,625.60 601.60,628.30 L 601.60,720.20 Q 601.60,722.90 599.20,723.70 Q 601.60,724.50 601.60,727.20 L 601.60,820.60 Q 601.60,823.30 602.80,823.30" fill="none" stroke="#231815" stroke-width="1.7" stroke-linejoin="round" stroke-linecap="round"/>
<path d="M 603.60,842.00 Q 602.40,842.00 602.40,844.70 L 602.40,884.80 Q 602.40,887.50 599.80,888.30 Q 602.40,889.10 602.40,891.80 L 602.40,928.30 Q 602.40,931.00 603.60,931.00" fill="none" stroke="#231815" stroke-width="1.7" stroke-linejoin="round" stroke-linecap="round"/>
<path d="M 712.50,705.50 Q 715.30,705.50 715.30,709.80 L 715.30,734.30 Q 715.30,737.00 717.70,737.80 Q 715.30,738.60 715.30,741.30 L 715.30,766.10 Q 715.30,770.40 712.50,770.40" fill="none" stroke="#231815" stroke-width="1.9" stroke-linejoin="round" stroke-linecap="round"/>
<path d="M 712.50,785.10 Q 715.30,785.10 715.30,789.40 L 715.30,814.90 Q 715.30,817.60 717.70,818.40 Q 715.30,819.20 715.30,821.90 L 715.30,845.80 Q 715.30,850.10 712.50,850.10" fill="none" stroke="#231815" stroke-width="1.9" stroke-linejoin="round" stroke-linecap="round"/>
<path d="M 712.50,869.60 Q 715.30,869.60 715.30,873.90 L 715.30,897.90 Q 715.30,900.60 717.70,901.40 Q 715.30,902.20 715.30,904.90 L 715.30,930.70 Q 715.30,935.00 712.50,935.00" fill="none" stroke="#231815" stroke-width="1.9" stroke-linejoin="round" stroke-linecap="round"/>
<polyline points="376.30,700.70 353.10,700.70 353.10,658.70 300.00,658.70" fill="none" stroke="#231815" stroke-width="2.1" />
<polygon points="289.90,658.70 303.40,650.70 303.40,666.70" fill="#231815"/>
<polyline points="376.60,832.50 354.60,832.50 354.60,789.90 300.00,789.90" fill="none" stroke="#231815" stroke-width="2.1" />
<polygon points="289.80,789.90 303.60,781.90 303.60,797.90" fill="#231815"/>
<polyline points="376.60,912.20 300.00,912.20" fill="none" stroke="#231815" stroke-width="2.1" />
<polygon points="290.60,912.20 304.40,904.20 304.40,920.20" fill="#231815"/>
<polyline points="599.40,723.70 528.40,723.70 528.40,608.00" fill="none" stroke="#231815" stroke-width="2.1" />
<polygon points="528.40,595.90 520.20,609.80 536.60,609.80" fill="#231815"/>
<polyline points="580.20,723.70 580.20,605.30 791.80,605.30 791.80,431.30 795.00,431.30" fill="none" stroke="#231815" stroke-width="2.1" />
<polygon points="807.50,431.30 793.60,423.30 793.60,439.30" fill="#231815"/>
<polyline points="599.80,888.30 473.30,888.30 473.30,978.00" fill="none" stroke="#231815" stroke-width="2.1" />
<polygon points="473.30,989.40 465.20,975.70 481.40,975.70" fill="#231815"/>
<polyline points="717.50,737.80 764.60,737.80 764.60,658.70 795.00,658.70" fill="none" stroke="#231815" stroke-width="2.1" />
<polygon points="806.90,658.70 792.40,650.50 792.40,666.90" fill="#231815"/>
<polyline points="717.50,818.40 766.10,818.40 766.10,870.00 795.00,870.00" fill="none" stroke="#231815" stroke-width="2.1" />
<polygon points="807.20,870.00 793.70,862.10 793.70,877.90" fill="#231815"/>
<polyline points="717.50,901.40 760.30,901.40 760.30,1066.00 795.00,1066.00" fill="none" stroke="#231815" stroke-width="2.1" />
<polygon points="806.90,1066.00 792.90,1058.00 792.90,1074.00" fill="#231815"/>
<rect x="808.80" y="378.10" width="210.80" height="98.20" fill="none" stroke="#231815" stroke-width="2.4"/>
<line x1="808.80" y1="403.10" x2="1019.60" y2="403.10" stroke="#231815" stroke-width="1.4" />
<text x="909.60" y="398.20" font-size="16.9" font-family='"Liberation Serif", "Noto Serif CJK SC", serif' fill="#231815" text-anchor="middle" font-weight="300" textLength="78.80" lengthAdjust="spacing">频率输入</text>
<line x1="899.30" y1="414.30" x2="946.30" y2="414.30" stroke="#231815" stroke-width="1.15" />
<line x1="899.30" y1="436.90" x2="946.30" y2="436.90" stroke="#231815" stroke-width="1.15" />
<line x1="917.40" y1="414.30" x2="917.40" y2="436.90" stroke="#231815" stroke-width="1.15" />
<line x1="923.70" y1="414.30" x2="923.70" y2="436.90" stroke="#231815" stroke-width="1.15" />
<line x1="946.30" y1="414.30" x2="946.30" y2="436.90" stroke="#231815" stroke-width="1.15" />
<circle cx="935.00" cy="425.60" r="10.70" fill="none" stroke="#231815" stroke-width="1.15"/>
<line x1="923.70" y1="423.85" x2="933.25" y2="423.85" stroke="#231815" stroke-width="1.15" />
<line x1="936.75" y1="423.85" x2="946.30" y2="423.85" stroke="#231815" stroke-width="1.15" />
<line x1="933.25" y1="414.30" x2="933.25" y2="423.85" stroke="#231815" stroke-width="1.15" />
<line x1="933.25" y1="427.35" x2="933.25" y2="436.90" stroke="#231815" stroke-width="1.15" />
<line x1="923.70" y1="427.35" x2="933.25" y2="427.35" stroke="#231815" stroke-width="1.15" />
<line x1="936.75" y1="427.35" x2="946.30" y2="427.35" stroke="#231815" stroke-width="1.15" />
<line x1="936.75" y1="414.30" x2="936.75" y2="423.85" stroke="#231815" stroke-width="1.15" />
<line x1="936.75" y1="427.35" x2="936.75" y2="436.90" stroke="#231815" stroke-width="1.15" />
<text x="908.35" y="429.74" font-size="11.5" font-family='"Liberation Sans", "Noto Sans CJK SC", sans-serif' fill="#231815" text-anchor="middle" textLength="10.80" lengthAdjust="spacingAndGlyphs"  stroke="#231815" stroke-width="0.2">31</text>
<line x1="899.30" y1="441.40" x2="946.60" y2="441.40" stroke="#231815" stroke-width="1.15" />
<line x1="899.30" y1="464.30" x2="946.60" y2="464.30" stroke="#231815" stroke-width="1.15" />
<line x1="917.40" y1="441.40" x2="917.40" y2="464.30" stroke="#231815" stroke-width="1.15" />
<line x1="923.70" y1="441.40" x2="923.70" y2="464.30" stroke="#231815" stroke-width="1.15" />
<line x1="946.60" y1="441.40" x2="946.60" y2="464.30" stroke="#231815" stroke-width="1.15" />
<circle cx="935.15" cy="452.85" r="10.85" fill="none" stroke="#231815" stroke-width="1.15"/>
<line x1="923.70" y1="451.08" x2="933.38" y2="451.08" stroke="#231815" stroke-width="1.15" />
<line x1="936.92" y1="451.08" x2="946.60" y2="451.08" stroke="#231815" stroke-width="1.15" />
<line x1="933.38" y1="441.40" x2="933.38" y2="451.08" stroke="#231815" stroke-width="1.15" />
<line x1="933.38" y1="454.62" x2="933.38" y2="464.30" stroke="#231815" stroke-width="1.15" />
<line x1="923.70" y1="454.62" x2="933.38" y2="454.62" stroke="#231815" stroke-width="1.15" />
<line x1="936.92" y1="454.62" x2="946.60" y2="454.62" stroke="#231815" stroke-width="1.15" />
<line x1="936.92" y1="441.40" x2="936.92" y2="451.08" stroke="#231815" stroke-width="1.15" />
<line x1="936.92" y1="454.62" x2="936.92" y2="464.30" stroke="#231815" stroke-width="1.15" />
<text x="908.35" y="456.99" font-size="11.5" font-family='"Liberation Sans", "Noto Sans CJK SC", sans-serif' fill="#231815" text-anchor="middle" textLength="10.80" lengthAdjust="spacingAndGlyphs"  stroke="#231815" stroke-width="0.2">32</text>
<line x1="877.30" y1="424.80" x2="900.80" y2="424.80" stroke="#231815" stroke-width="2" />
<circle cx="877.40" cy="424.80" r="3.90" fill="#231815"/>
<line x1="877.30" y1="452.50" x2="900.80" y2="452.50" stroke="#231815" stroke-width="2" />
<circle cx="877.40" cy="452.50" r="3.90" fill="#231815"/>
<line x1="882.90" y1="418.10" x2="890.50" y2="418.10" stroke="#231815" stroke-width="1.3" />
<line x1="886.70" y1="414.30" x2="886.70" y2="421.90" stroke="#231815" stroke-width="1.3" />
<line x1="882.90" y1="458.70" x2="890.50" y2="458.70" stroke="#231815" stroke-width="1.3" />
<text x="866.20" y="443.40" font-size="11.5" font-family='"Liberation Sans", "Noto Sans CJK SC", sans-serif' fill="#231815" textLength="5.40" lengthAdjust="spacingAndGlyphs"  stroke="#231815" stroke-width="0.2">F</text>
<rect x="809.00" y="534.40" width="209.70" height="213.00" fill="none" stroke="#231815" stroke-width="2.4"/>
<line x1="809.00" y1="562.40" x2="1018.70" y2="562.40" stroke="#231815" stroke-width="1.4" />
<text x="906.10" y="555.80" font-size="16.9" font-family='"Liberation Serif", "Noto Serif CJK SC", serif' fill="#231815" text-anchor="middle" font-weight="300" textLength="68.60" lengthAdjust="spacing">压力输入</text>
<line x1="809.00" y1="587.10" x2="862.30" y2="587.10" stroke="#231815" stroke-width="1.15" />
<line x1="809.00" y1="612.50" x2="862.30" y2="612.50" stroke="#231815" stroke-width="1.15" />
<line x1="829.60" y1="587.10" x2="829.60" y2="612.50" stroke="#231815" stroke-width="1.15" />
<line x1="836.90" y1="587.10" x2="836.90" y2="612.50" stroke="#231815" stroke-width="1.15" />
<line x1="862.30" y1="587.10" x2="862.30" y2="612.50" stroke="#231815" stroke-width="1.15" />
<circle cx="849.60" cy="599.80" r="12.10" fill="none" stroke="#231815" stroke-width="1.15"/>
<line x1="836.90" y1="597.83" x2="847.63" y2="597.83" stroke="#231815" stroke-width="1.15" />
<line x1="851.57" y1="597.83" x2="862.30" y2="597.83" stroke="#231815" stroke-width="1.15" />
<line x1="847.63" y1="587.10" x2="847.63" y2="597.83" stroke="#231815" stroke-width="1.15" />
<line x1="847.63" y1="601.77" x2="847.63" y2="612.50" stroke="#231815" stroke-width="1.15" />
<line x1="836.90" y1="601.77" x2="847.63" y2="601.77" stroke="#231815" stroke-width="1.15" />
<line x1="851.57" y1="601.77" x2="862.30" y2="601.77" stroke="#231815" stroke-width="1.15" />
<line x1="851.57" y1="587.10" x2="851.57" y2="597.83" stroke="#231815" stroke-width="1.15" />
<line x1="851.57" y1="601.77" x2="851.57" y2="612.50" stroke="#231815" stroke-width="1.15" />
<text x="820.61" y="604.84" font-size="14" font-family='"Liberation Sans", "Noto Sans CJK SC", sans-serif' fill="#231815" text-anchor="middle" textLength="17.28" lengthAdjust="spacingAndGlyphs" letter-spacing="1.54"  stroke="#231815" stroke-width="0.2">17</text>
<line x1="809.00" y1="617.80" x2="862.20" y2="617.80" stroke="#231815" stroke-width="1.15" />
<line x1="809.00" y1="643.10" x2="862.20" y2="643.10" stroke="#231815" stroke-width="1.15" />
<line x1="829.60" y1="617.80" x2="829.60" y2="643.10" stroke="#231815" stroke-width="1.15" />
<line x1="836.90" y1="617.80" x2="836.90" y2="643.10" stroke="#231815" stroke-width="1.15" />
<line x1="862.20" y1="617.80" x2="862.20" y2="643.10" stroke="#231815" stroke-width="1.15" />
<circle cx="849.55" cy="630.45" r="12.05" fill="none" stroke="#231815" stroke-width="1.15"/>
<line x1="836.90" y1="628.49" x2="847.59" y2="628.49" stroke="#231815" stroke-width="1.15" />
<line x1="851.51" y1="628.49" x2="862.20" y2="628.49" stroke="#231815" stroke-width="1.15" />
<line x1="847.59" y1="617.80" x2="847.59" y2="628.49" stroke="#231815" stroke-width="1.15" />
<line x1="847.59" y1="632.41" x2="847.59" y2="643.10" stroke="#231815" stroke-width="1.15" />
<line x1="836.90" y1="632.41" x2="847.59" y2="632.41" stroke="#231815" stroke-width="1.15" />
<line x1="851.51" y1="632.41" x2="862.20" y2="632.41" stroke="#231815" stroke-width="1.15" />
<line x1="851.51" y1="617.80" x2="851.51" y2="628.49" stroke="#231815" stroke-width="1.15" />
<line x1="851.51" y1="632.41" x2="851.51" y2="643.10" stroke="#231815" stroke-width="1.15" />
<text x="820.61" y="635.49" font-size="14" font-family='"Liberation Sans", "Noto Sans CJK SC", sans-serif' fill="#231815" text-anchor="middle" textLength="17.28" lengthAdjust="spacingAndGlyphs" letter-spacing="1.54"  stroke="#231815" stroke-width="0.2">18</text>
<polyline points="862.60,599.90 883.80,599.90 888.60,615.30 883.80,630.60 862.60,630.60" fill="none" stroke="#231815" stroke-width="2.4" />
<line x1="866.20" y1="592.50" x2="875.00" y2="592.50" stroke="#231815" stroke-width="1.3" />
<line x1="870.60" y1="588.10" x2="870.60" y2="596.90" stroke="#231815" stroke-width="1.3" />
<line x1="866.20" y1="637.60" x2="875.00" y2="637.60" stroke="#231815" stroke-width="1.3" />
<text x="895.30" y="602.20" font-size="13.5" font-family='"Liberation Sans", "Noto Sans CJK SC", sans-serif' fill="#231815" textLength="13.80" lengthAdjust="spacingAndGlyphs"  stroke="#231815" stroke-width="0.2">TC</text>
<line x1="901.80" y1="607.50" x2="896.20" y2="619.00" stroke="#231815" stroke-width="1" />
<text x="895.00" y="632.30" font-size="13.5" font-family='"Liberation Sans", "Noto Sans CJK SC", sans-serif' fill="#231815" textLength="14.60" lengthAdjust="spacingAndGlyphs"  stroke="#231815" stroke-width="0.2">mV</text>
<line x1="916.20" y1="573.00" x2="969.00" y2="573.00" stroke="#231815" stroke-width="1.15" />
<line x1="916.20" y1="598.70" x2="969.00" y2="598.70" stroke="#231815" stroke-width="1.15" />
<line x1="936.60" y1="573.00" x2="936.60" y2="598.70" stroke="#231815" stroke-width="1.15" />
<line x1="943.30" y1="573.00" x2="943.30" y2="598.70" stroke="#231815" stroke-width="1.15" />
<line x1="969.00" y1="573.00" x2="969.00" y2="598.70" stroke="#231815" stroke-width="1.15" />
<circle cx="956.15" cy="585.85" r="12.25" fill="none" stroke="#231815" stroke-width="1.15"/>
<line x1="943.30" y1="583.86" x2="954.16" y2="583.86" stroke="#231815" stroke-width="1.15" />
<line x1="958.14" y1="583.86" x2="969.00" y2="583.86" stroke="#231815" stroke-width="1.15" />
<line x1="954.16" y1="573.00" x2="954.16" y2="583.86" stroke="#231815" stroke-width="1.15" />
<line x1="954.16" y1="587.84" x2="954.16" y2="598.70" stroke="#231815" stroke-width="1.15" />
<line x1="943.30" y1="587.84" x2="954.16" y2="587.84" stroke="#231815" stroke-width="1.15" />
<line x1="958.14" y1="587.84" x2="969.00" y2="587.84" stroke="#231815" stroke-width="1.15" />
<line x1="958.14" y1="573.00" x2="958.14" y2="583.86" stroke="#231815" stroke-width="1.15" />
<line x1="958.14" y1="587.84" x2="958.14" y2="598.70" stroke="#231815" stroke-width="1.15" />
<text x="926.51" y="590.89" font-size="14" font-family='"Liberation Sans", "Noto Sans CJK SC", sans-serif' fill="#231815" text-anchor="middle" textLength="17.28" lengthAdjust="spacingAndGlyphs" letter-spacing="1.54"  stroke="#231815" stroke-width="0.2">16</text>
<line x1="916.20" y1="603.10" x2="969.00" y2="603.10" stroke="#231815" stroke-width="1.15" />
<line x1="916.20" y1="628.80" x2="969.00" y2="628.80" stroke="#231815" stroke-width="1.15" />
<line x1="936.60" y1="603.10" x2="936.60" y2="628.80" stroke="#231815" stroke-width="1.15" />
<line x1="943.30" y1="603.10" x2="943.30" y2="628.80" stroke="#231815" stroke-width="1.15" />
<line x1="969.00" y1="603.10" x2="969.00" y2="628.80" stroke="#231815" stroke-width="1.15" />
<circle cx="956.15" cy="615.95" r="12.25" fill="none" stroke="#231815" stroke-width="1.15"/>
<line x1="943.30" y1="613.96" x2="954.16" y2="613.96" stroke="#231815" stroke-width="1.15" />
<line x1="958.14" y1="613.96" x2="969.00" y2="613.96" stroke="#231815" stroke-width="1.15" />
<line x1="954.16" y1="603.10" x2="954.16" y2="613.96" stroke="#231815" stroke-width="1.15" />
<line x1="954.16" y1="617.94" x2="954.16" y2="628.80" stroke="#231815" stroke-width="1.15" />
<line x1="943.30" y1="617.94" x2="954.16" y2="617.94" stroke="#231815" stroke-width="1.15" />
<line x1="958.14" y1="617.94" x2="969.00" y2="617.94" stroke="#231815" stroke-width="1.15" />
<line x1="958.14" y1="603.10" x2="958.14" y2="613.96" stroke="#231815" stroke-width="1.15" />
<line x1="958.14" y1="617.94" x2="958.14" y2="628.80" stroke="#231815" stroke-width="1.15" />
<text x="926.51" y="620.99" font-size="14" font-family='"Liberation Sans", "Noto Sans CJK SC", sans-serif' fill="#231815" text-anchor="middle" textLength="17.28" lengthAdjust="spacingAndGlyphs" letter-spacing="1.54"  stroke="#231815" stroke-width="0.2">17</text>
<line x1="916.20" y1="633.20" x2="969.00" y2="633.20" stroke="#231815" stroke-width="1.15" />
<line x1="916.20" y1="658.90" x2="969.00" y2="658.90" stroke="#231815" stroke-width="1.15" />
<line x1="936.60" y1="633.20" x2="936.60" y2="658.90" stroke="#231815" stroke-width="1.15" />
<line x1="943.30" y1="633.20" x2="943.30" y2="658.90" stroke="#231815" stroke-width="1.15" />
<line x1="969.00" y1="633.20" x2="969.00" y2="658.90" stroke="#231815" stroke-width="1.15" />
<circle cx="956.15" cy="646.05" r="12.25" fill="none" stroke="#231815" stroke-width="1.15"/>
<line x1="943.30" y1="644.06" x2="954.16" y2="644.06" stroke="#231815" stroke-width="1.15" />
<line x1="958.14" y1="644.06" x2="969.00" y2="644.06" stroke="#231815" stroke-width="1.15" />
<line x1="954.16" y1="633.20" x2="954.16" y2="644.06" stroke="#231815" stroke-width="1.15" />
<line x1="954.16" y1="648.04" x2="954.16" y2="658.90" stroke="#231815" stroke-width="1.15" />
<line x1="943.30" y1="648.04" x2="954.16" y2="648.04" stroke="#231815" stroke-width="1.15" />
<line x1="958.14" y1="648.04" x2="969.00" y2="648.04" stroke="#231815" stroke-width="1.15" />
<line x1="958.14" y1="633.20" x2="958.14" y2="644.06" stroke="#231815" stroke-width="1.15" />
<line x1="958.14" y1="648.04" x2="958.14" y2="658.90" stroke="#231815" stroke-width="1.15" />
<text x="926.51" y="651.09" font-size="14" font-family='"Liberation Sans", "Noto Sans CJK SC", sans-serif' fill="#231815" text-anchor="middle" textLength="17.28" lengthAdjust="spacingAndGlyphs" letter-spacing="1.54"  stroke="#231815" stroke-width="0.2">18</text>
<polyline points="968.70,585.50 985.60,585.50 985.60,590.60" fill="none" stroke="#231815" stroke-width="2.3" />
<rect x="982.20" y="590.60" width="6.80" height="21.60" fill="none" stroke="#231815" stroke-width="2.3"/>
<polyline points="985.60,612.20 985.60,646.20 968.70,646.20" fill="none" stroke="#231815" stroke-width="2.3" />
<polyline points="968.70,614.90 977.50,614.90 977.50,629.50 985.60,629.50" fill="none" stroke="#231815" stroke-width="2.3" />
<text x="991.90" y="617.20" font-size="13.5" font-family='"Liberation Sans", "Noto Sans CJK SC", sans-serif' fill="#231815" textLength="21.60" lengthAdjust="spacingAndGlyphs"  stroke="#231815" stroke-width="0.2">RTD</text>
<line x1="809.00" y1="675.20" x2="861.70" y2="675.20" stroke="#231815" stroke-width="1.15" />
<line x1="809.00" y1="700.00" x2="861.70" y2="700.00" stroke="#231815" stroke-width="1.15" />
<line x1="829.60" y1="675.20" x2="829.60" y2="700.00" stroke="#231815" stroke-width="1.15" />
<line x1="836.90" y1="675.20" x2="836.90" y2="700.00" stroke="#231815" stroke-width="1.15" />
<line x1="861.70" y1="675.20" x2="861.70" y2="700.00" stroke="#231815" stroke-width="1.15" />
<circle cx="849.30" cy="687.60" r="11.80" fill="none" stroke="#231815" stroke-width="1.15"/>
<line x1="836.90" y1="685.68" x2="847.38" y2="685.68" stroke="#231815" stroke-width="1.15" />
<line x1="851.22" y1="685.68" x2="861.70" y2="685.68" stroke="#231815" stroke-width="1.15" />
<line x1="847.38" y1="675.20" x2="847.38" y2="685.68" stroke="#231815" stroke-width="1.15" />
<line x1="847.38" y1="689.52" x2="847.38" y2="700.00" stroke="#231815" stroke-width="1.15" />
<line x1="836.90" y1="689.52" x2="847.38" y2="689.52" stroke="#231815" stroke-width="1.15" />
<line x1="851.22" y1="689.52" x2="861.70" y2="689.52" stroke="#231815" stroke-width="1.15" />
<line x1="851.22" y1="675.20" x2="851.22" y2="685.68" stroke="#231815" stroke-width="1.15" />
<line x1="851.22" y1="689.52" x2="851.22" y2="700.00" stroke="#231815" stroke-width="1.15" />
<text x="820.61" y="692.64" font-size="14" font-family='"Liberation Sans", "Noto Sans CJK SC", sans-serif' fill="#231815" text-anchor="middle" textLength="17.28" lengthAdjust="spacingAndGlyphs" letter-spacing="1.54"  stroke="#231815" stroke-width="0.2">17</text>
<line x1="809.00" y1="705.30" x2="862.10" y2="705.30" stroke="#231815" stroke-width="1.15" />
<line x1="809.00" y1="730.50" x2="862.10" y2="730.50" stroke="#231815" stroke-width="1.15" />
<line x1="829.60" y1="705.30" x2="829.60" y2="730.50" stroke="#231815" stroke-width="1.15" />
<line x1="836.90" y1="705.30" x2="836.90" y2="730.50" stroke="#231815" stroke-width="1.15" />
<line x1="862.10" y1="705.30" x2="862.10" y2="730.50" stroke="#231815" stroke-width="1.15" />
<circle cx="849.50" cy="717.90" r="12.00" fill="none" stroke="#231815" stroke-width="1.15"/>
<line x1="836.90" y1="715.95" x2="847.55" y2="715.95" stroke="#231815" stroke-width="1.15" />
<line x1="851.45" y1="715.95" x2="862.10" y2="715.95" stroke="#231815" stroke-width="1.15" />
<line x1="847.55" y1="705.30" x2="847.55" y2="715.95" stroke="#231815" stroke-width="1.15" />
<line x1="847.55" y1="719.85" x2="847.55" y2="730.50" stroke="#231815" stroke-width="1.15" />
<line x1="836.90" y1="719.85" x2="847.55" y2="719.85" stroke="#231815" stroke-width="1.15" />
<line x1="851.45" y1="719.85" x2="862.10" y2="719.85" stroke="#231815" stroke-width="1.15" />
<line x1="851.45" y1="705.30" x2="851.45" y2="715.95" stroke="#231815" stroke-width="1.15" />
<line x1="851.45" y1="719.85" x2="851.45" y2="730.50" stroke="#231815" stroke-width="1.15" />
<text x="820.61" y="722.94" font-size="14" font-family='"Liberation Sans", "Noto Sans CJK SC", sans-serif' fill="#231815" text-anchor="middle" textLength="17.28" lengthAdjust="spacingAndGlyphs" letter-spacing="1.54"  stroke="#231815" stroke-width="0.2">18</text>
<line x1="862.60" y1="687.60" x2="887.70" y2="687.60" stroke="#231815" stroke-width="2" />
<circle cx="887.70" cy="687.60" r="4.10" fill="#231815"/>
<line x1="862.60" y1="718.60" x2="887.70" y2="718.60" stroke="#231815" stroke-width="2" />
<circle cx="887.70" cy="718.60" r="4.10" fill="#231815"/>
<line x1="866.20" y1="680.20" x2="875.00" y2="680.20" stroke="#231815" stroke-width="1.3" />
<line x1="870.60" y1="675.80" x2="870.60" y2="684.60" stroke="#231815" stroke-width="1.3" />
<line x1="866.20" y1="724.90" x2="875.00" y2="724.90" stroke="#231815" stroke-width="1.3" />
<text x="887.40" y="708.70" font-size="13.5" font-family='"Liberation Sans", "Noto Sans CJK SC", sans-serif' fill="#231815" textLength="7.20" lengthAdjust="spacingAndGlyphs"  stroke="#231815" stroke-width="0.2">V</text>
<line x1="916.20" y1="673.90" x2="968.90" y2="673.90" stroke="#231815" stroke-width="1.15" />
<line x1="916.20" y1="699.50" x2="968.90" y2="699.50" stroke="#231815" stroke-width="1.15" />
<line x1="936.60" y1="673.90" x2="936.60" y2="699.50" stroke="#231815" stroke-width="1.15" />
<line x1="943.30" y1="673.90" x2="943.30" y2="699.50" stroke="#231815" stroke-width="1.15" />
<line x1="968.90" y1="673.90" x2="968.90" y2="699.50" stroke="#231815" stroke-width="1.15" />
<circle cx="956.10" cy="686.70" r="12.20" fill="none" stroke="#231815" stroke-width="1.15"/>
<line x1="943.30" y1="684.72" x2="954.12" y2="684.72" stroke="#231815" stroke-width="1.15" />
<line x1="958.08" y1="684.72" x2="968.90" y2="684.72" stroke="#231815" stroke-width="1.15" />
<line x1="954.12" y1="673.90" x2="954.12" y2="684.72" stroke="#231815" stroke-width="1.15" />
<line x1="954.12" y1="688.68" x2="954.12" y2="699.50" stroke="#231815" stroke-width="1.15" />
<line x1="943.30" y1="688.68" x2="954.12" y2="688.68" stroke="#231815" stroke-width="1.15" />
<line x1="958.08" y1="688.68" x2="968.90" y2="688.68" stroke="#231815" stroke-width="1.15" />
<line x1="958.08" y1="673.90" x2="958.08" y2="684.72" stroke="#231815" stroke-width="1.15" />
<line x1="958.08" y1="688.68" x2="958.08" y2="699.50" stroke="#231815" stroke-width="1.15" />
<text x="926.51" y="691.74" font-size="14" font-family='"Liberation Sans", "Noto Sans CJK SC", sans-serif' fill="#231815" text-anchor="middle" textLength="17.28" lengthAdjust="spacingAndGlyphs" letter-spacing="1.54"  stroke="#231815" stroke-width="0.2">16</text>
<line x1="916.20" y1="704.60" x2="968.90" y2="704.60" stroke="#231815" stroke-width="1.15" />
<line x1="916.20" y1="730.20" x2="968.90" y2="730.20" stroke="#231815" stroke-width="1.15" />
<line x1="936.60" y1="704.60" x2="936.60" y2="730.20" stroke="#231815" stroke-width="1.15" />
<line x1="943.30" y1="704.60" x2="943.30" y2="730.20" stroke="#231815" stroke-width="1.15" />
<line x1="968.90" y1="704.60" x2="968.90" y2="730.20" stroke="#231815" stroke-width="1.15" />
<circle cx="956.10" cy="717.40" r="12.20" fill="none" stroke="#231815" stroke-width="1.15"/>
<line x1="943.30" y1="715.42" x2="954.12" y2="715.42" stroke="#231815" stroke-width="1.15" />
<line x1="958.08" y1="715.42" x2="968.90" y2="715.42" stroke="#231815" stroke-width="1.15" />
<line x1="954.12" y1="704.60" x2="954.12" y2="715.42" stroke="#231815" stroke-width="1.15" />
<line x1="954.12" y1="719.38" x2="954.12" y2="730.20" stroke="#231815" stroke-width="1.15" />
<line x1="943.30" y1="719.38" x2="954.12" y2="719.38" stroke="#231815" stroke-width="1.15" />
<line x1="958.08" y1="719.38" x2="968.90" y2="719.38" stroke="#231815" stroke-width="1.15" />
<line x1="958.08" y1="704.60" x2="958.08" y2="715.42" stroke="#231815" stroke-width="1.15" />
<line x1="958.08" y1="719.38" x2="958.08" y2="730.20" stroke="#231815" stroke-width="1.15" />
<text x="926.51" y="722.44" font-size="14" font-family='"Liberation Sans", "Noto Sans CJK SC", sans-serif' fill="#231815" text-anchor="middle" textLength="17.28" lengthAdjust="spacingAndGlyphs" letter-spacing="1.54"  stroke="#231815" stroke-width="0.2">18</text>
<line x1="969.00" y1="686.00" x2="994.90" y2="686.00" stroke="#231815" stroke-width="2" />
<circle cx="994.90" cy="686.00" r="4.10" fill="#231815"/>
<line x1="969.00" y1="717.20" x2="994.90" y2="717.20" stroke="#231815" stroke-width="2" />
<circle cx="994.90" cy="717.20" r="4.10" fill="#231815"/>
<line x1="972.60" y1="678.80" x2="981.40" y2="678.80" stroke="#231815" stroke-width="1.3" />
<line x1="977.00" y1="674.40" x2="977.00" y2="683.20" stroke="#231815" stroke-width="1.3" />
<line x1="972.60" y1="723.70" x2="981.40" y2="723.70" stroke="#231815" stroke-width="1.3" />
<text x="993.00" y="707.00" font-size="13" font-family='"Liberation Sans", "Noto Sans CJK SC", sans-serif' fill="#231815" textLength="14.20" lengthAdjust="spacingAndGlyphs"  stroke="#231815" stroke-width="0.2">mA</text>
<rect x="808.30" y="774.20" width="209.70" height="213.00" fill="none" stroke="#231815" stroke-width="2.4"/>
<line x1="808.30" y1="802.20" x2="1018.00" y2="802.20" stroke="#231815" stroke-width="1.4" />
<text x="905.40" y="795.60" font-size="16.9" font-family='"Liberation Serif", "Noto Serif CJK SC", serif' fill="#231815" text-anchor="middle" font-weight="300" textLength="68.60" lengthAdjust="spacing">温度输入</text>
<line x1="808.30" y1="826.90" x2="861.60" y2="826.90" stroke="#231815" stroke-width="1.15" />
<line x1="808.30" y1="852.30" x2="861.60" y2="852.30" stroke="#231815" stroke-width="1.15" />
<line x1="828.90" y1="826.90" x2="828.90" y2="852.30" stroke="#231815" stroke-width="1.15" />
<line x1="836.20" y1="826.90" x2="836.20" y2="852.30" stroke="#231815" stroke-width="1.15" />
<line x1="861.60" y1="826.90" x2="861.60" y2="852.30" stroke="#231815" stroke-width="1.15" />
<circle cx="848.90" cy="839.60" r="12.10" fill="none" stroke="#231815" stroke-width="1.15"/>
<line x1="836.20" y1="837.63" x2="846.93" y2="837.63" stroke="#231815" stroke-width="1.15" />
<line x1="850.87" y1="837.63" x2="861.60" y2="837.63" stroke="#231815" stroke-width="1.15" />
<line x1="846.93" y1="826.90" x2="846.93" y2="837.63" stroke="#231815" stroke-width="1.15" />
<line x1="846.93" y1="841.57" x2="846.93" y2="852.30" stroke="#231815" stroke-width="1.15" />
<line x1="836.20" y1="841.57" x2="846.93" y2="841.57" stroke="#231815" stroke-width="1.15" />
<line x1="850.87" y1="841.57" x2="861.60" y2="841.57" stroke="#231815" stroke-width="1.15" />
<line x1="850.87" y1="826.90" x2="850.87" y2="837.63" stroke="#231815" stroke-width="1.15" />
<line x1="850.87" y1="841.57" x2="850.87" y2="852.30" stroke="#231815" stroke-width="1.15" />
<text x="819.91" y="844.64" font-size="14" font-family='"Liberation Sans", "Noto Sans CJK SC", sans-serif' fill="#231815" text-anchor="middle" textLength="17.28" lengthAdjust="spacingAndGlyphs" letter-spacing="1.54"  stroke="#231815" stroke-width="0.2">20</text>
<line x1="808.30" y1="857.60" x2="861.50" y2="857.60" stroke="#231815" stroke-width="1.15" />
<line x1="808.30" y1="882.90" x2="861.50" y2="882.90" stroke="#231815" stroke-width="1.15" />
<line x1="828.90" y1="857.60" x2="828.90" y2="882.90" stroke="#231815" stroke-width="1.15" />
<line x1="836.20" y1="857.60" x2="836.20" y2="882.90" stroke="#231815" stroke-width="1.15" />
<line x1="861.50" y1="857.60" x2="861.50" y2="882.90" stroke="#231815" stroke-width="1.15" />
<circle cx="848.85" cy="870.25" r="12.05" fill="none" stroke="#231815" stroke-width="1.15"/>
<line x1="836.20" y1="868.29" x2="846.89" y2="868.29" stroke="#231815" stroke-width="1.15" />
<line x1="850.81" y1="868.29" x2="861.50" y2="868.29" stroke="#231815" stroke-width="1.15" />
<line x1="846.89" y1="857.60" x2="846.89" y2="868.29" stroke="#231815" stroke-width="1.15" />
<line x1="846.89" y1="872.21" x2="846.89" y2="882.90" stroke="#231815" stroke-width="1.15" />
<line x1="836.20" y1="872.21" x2="846.89" y2="872.21" stroke="#231815" stroke-width="1.15" />
<line x1="850.81" y1="872.21" x2="861.50" y2="872.21" stroke="#231815" stroke-width="1.15" />
<line x1="850.81" y1="857.60" x2="850.81" y2="868.29" stroke="#231815" stroke-width="1.15" />
<line x1="850.81" y1="872.21" x2="850.81" y2="882.90" stroke="#231815" stroke-width="1.15" />
<text x="819.91" y="875.29" font-size="14" font-family='"Liberation Sans", "Noto Sans CJK SC", sans-serif' fill="#231815" text-anchor="middle" textLength="17.28" lengthAdjust="spacingAndGlyphs" letter-spacing="1.54"  stroke="#231815" stroke-width="0.2">21</text>
<polyline points="861.90,839.70 883.10,839.70 887.90,855.10 883.10,870.40 861.90,870.40" fill="none" stroke="#231815" stroke-width="2.4" />
<line x1="865.50" y1="832.30" x2="874.30" y2="832.30" stroke="#231815" stroke-width="1.3" />
<line x1="869.90" y1="827.90" x2="869.90" y2="836.70" stroke="#231815" stroke-width="1.3" />
<line x1="865.50" y1="877.40" x2="874.30" y2="877.40" stroke="#231815" stroke-width="1.3" />
<text x="894.60" y="842.00" font-size="13.5" font-family='"Liberation Sans", "Noto Sans CJK SC", sans-serif' fill="#231815" textLength="13.80" lengthAdjust="spacingAndGlyphs"  stroke="#231815" stroke-width="0.2">TC</text>
<line x1="901.10" y1="847.30" x2="895.50" y2="858.80" stroke="#231815" stroke-width="1" />
<text x="894.30" y="872.10" font-size="13.5" font-family='"Liberation Sans", "Noto Sans CJK SC", sans-serif' fill="#231815" textLength="14.60" lengthAdjust="spacingAndGlyphs"  stroke="#231815" stroke-width="0.2">mV</text>
<line x1="915.50" y1="812.80" x2="968.30" y2="812.80" stroke="#231815" stroke-width="1.15" />
<line x1="915.50" y1="838.50" x2="968.30" y2="838.50" stroke="#231815" stroke-width="1.15" />
<line x1="935.90" y1="812.80" x2="935.90" y2="838.50" stroke="#231815" stroke-width="1.15" />
<line x1="942.60" y1="812.80" x2="942.60" y2="838.50" stroke="#231815" stroke-width="1.15" />
<line x1="968.30" y1="812.80" x2="968.30" y2="838.50" stroke="#231815" stroke-width="1.15" />
<circle cx="955.45" cy="825.65" r="12.25" fill="none" stroke="#231815" stroke-width="1.15"/>
<line x1="942.60" y1="823.66" x2="953.46" y2="823.66" stroke="#231815" stroke-width="1.15" />
<line x1="957.44" y1="823.66" x2="968.30" y2="823.66" stroke="#231815" stroke-width="1.15" />
<line x1="953.46" y1="812.80" x2="953.46" y2="823.66" stroke="#231815" stroke-width="1.15" />
<line x1="953.46" y1="827.64" x2="953.46" y2="838.50" stroke="#231815" stroke-width="1.15" />
<line x1="942.60" y1="827.64" x2="953.46" y2="827.64" stroke="#231815" stroke-width="1.15" />
<line x1="957.44" y1="827.64" x2="968.30" y2="827.64" stroke="#231815" stroke-width="1.15" />
<line x1="957.44" y1="812.80" x2="957.44" y2="823.66" stroke="#231815" stroke-width="1.15" />
<line x1="957.44" y1="827.64" x2="957.44" y2="838.50" stroke="#231815" stroke-width="1.15" />
<text x="925.81" y="830.69" font-size="14" font-family='"Liberation Sans", "Noto Sans CJK SC", sans-serif' fill="#231815" text-anchor="middle" textLength="17.28" lengthAdjust="spacingAndGlyphs" letter-spacing="1.54"  stroke="#231815" stroke-width="0.2">19</text>
<line x1="915.50" y1="842.90" x2="968.30" y2="842.90" stroke="#231815" stroke-width="1.15" />
<line x1="915.50" y1="868.60" x2="968.30" y2="868.60" stroke="#231815" stroke-width="1.15" />
<line x1="935.90" y1="842.90" x2="935.90" y2="868.60" stroke="#231815" stroke-width="1.15" />
<line x1="942.60" y1="842.90" x2="942.60" y2="868.60" stroke="#231815" stroke-width="1.15" />
<line x1="968.30" y1="842.90" x2="968.30" y2="868.60" stroke="#231815" stroke-width="1.15" />
<circle cx="955.45" cy="855.75" r="12.25" fill="none" stroke="#231815" stroke-width="1.15"/>
<line x1="942.60" y1="853.76" x2="953.46" y2="853.76" stroke="#231815" stroke-width="1.15" />
<line x1="957.44" y1="853.76" x2="968.30" y2="853.76" stroke="#231815" stroke-width="1.15" />
<line x1="953.46" y1="842.90" x2="953.46" y2="853.76" stroke="#231815" stroke-width="1.15" />
<line x1="953.46" y1="857.74" x2="953.46" y2="868.60" stroke="#231815" stroke-width="1.15" />
<line x1="942.60" y1="857.74" x2="953.46" y2="857.74" stroke="#231815" stroke-width="1.15" />
<line x1="957.44" y1="857.74" x2="968.30" y2="857.74" stroke="#231815" stroke-width="1.15" />
<line x1="957.44" y1="842.90" x2="957.44" y2="853.76" stroke="#231815" stroke-width="1.15" />
<line x1="957.44" y1="857.74" x2="957.44" y2="868.60" stroke="#231815" stroke-width="1.15" />
<text x="925.81" y="860.79" font-size="14" font-family='"Liberation Sans", "Noto Sans CJK SC", sans-serif' fill="#231815" text-anchor="middle" textLength="17.28" lengthAdjust="spacingAndGlyphs" letter-spacing="1.54"  stroke="#231815" stroke-width="0.2">20</text>
<line x1="915.50" y1="873.00" x2="968.30" y2="873.00" stroke="#231815" stroke-width="1.15" />
<line x1="915.50" y1="898.70" x2="968.30" y2="898.70" stroke="#231815" stroke-width="1.15" />
<line x1="935.90" y1="873.00" x2="935.90" y2="898.70" stroke="#231815" stroke-width="1.15" />
<line x1="942.60" y1="873.00" x2="942.60" y2="898.70" stroke="#231815" stroke-width="1.15" />
<line x1="968.30" y1="873.00" x2="968.30" y2="898.70" stroke="#231815" stroke-width="1.15" />
<circle cx="955.45" cy="885.85" r="12.25" fill="none" stroke="#231815" stroke-width="1.15"/>
<line x1="942.60" y1="883.86" x2="953.46" y2="883.86" stroke="#231815" stroke-width="1.15" />
<line x1="957.44" y1="883.86" x2="968.30" y2="883.86" stroke="#231815" stroke-width="1.15" />
<line x1="953.46" y1="873.00" x2="953.46" y2="883.86" stroke="#231815" stroke-width="1.15" />
<line x1="953.46" y1="887.84" x2="953.46" y2="898.70" stroke="#231815" stroke-width="1.15" />
<line x1="942.60" y1="887.84" x2="953.46" y2="887.84" stroke="#231815" stroke-width="1.15" />
<line x1="957.44" y1="887.84" x2="968.30" y2="887.84" stroke="#231815" stroke-width="1.15" />
<line x1="957.44" y1="873.00" x2="957.44" y2="883.86" stroke="#231815" stroke-width="1.15" />
<line x1="957.44" y1="887.84" x2="957.44" y2="898.70" stroke="#231815" stroke-width="1.15" />
<text x="925.81" y="890.89" font-size="14" font-family='"Liberation Sans", "Noto Sans CJK SC", sans-serif' fill="#231815" text-anchor="middle" textLength="17.28" lengthAdjust="spacingAndGlyphs" letter-spacing="1.54"  stroke="#231815" stroke-width="0.2">21</text>
<polyline points="968.00,825.30 984.90,825.30 984.90,830.40" fill="none" stroke="#231815" stroke-width="2.3" />
<rect x="981.50" y="830.40" width="6.80" height="21.60" fill="none" stroke="#231815" stroke-width="2.3"/>
<polyline points="984.90,852.00 984.90,886.00 968.00,886.00" fill="none" stroke="#231815" stroke-width="2.3" />
<polyline points="968.00,854.70 976.80,854.70 976.80,869.30 984.90,869.30" fill="none" stroke="#231815" stroke-width="2.3" />
<text x="991.20" y="857.00" font-size="13.5" font-family='"Liberation Sans", "Noto Sans CJK SC", sans-serif' fill="#231815" textLength="21.60" lengthAdjust="spacingAndGlyphs"  stroke="#231815" stroke-width="0.2">RTD</text>
<line x1="808.30" y1="915.00" x2="861.00" y2="915.00" stroke="#231815" stroke-width="1.15" />
<line x1="808.30" y1="939.80" x2="861.00" y2="939.80" stroke="#231815" stroke-width="1.15" />
<line x1="828.90" y1="915.00" x2="828.90" y2="939.80" stroke="#231815" stroke-width="1.15" />
<line x1="836.20" y1="915.00" x2="836.20" y2="939.80" stroke="#231815" stroke-width="1.15" />
<line x1="861.00" y1="915.00" x2="861.00" y2="939.80" stroke="#231815" stroke-width="1.15" />
<circle cx="848.60" cy="927.40" r="11.80" fill="none" stroke="#231815" stroke-width="1.15"/>
<line x1="836.20" y1="925.48" x2="846.68" y2="925.48" stroke="#231815" stroke-width="1.15" />
<line x1="850.52" y1="925.48" x2="861.00" y2="925.48" stroke="#231815" stroke-width="1.15" />
<line x1="846.68" y1="915.00" x2="846.68" y2="925.48" stroke="#231815" stroke-width="1.15" />
<line x1="846.68" y1="929.32" x2="846.68" y2="939.80" stroke="#231815" stroke-width="1.15" />
<line x1="836.20" y1="929.32" x2="846.68" y2="929.32" stroke="#231815" stroke-width="1.15" />
<line x1="850.52" y1="929.32" x2="861.00" y2="929.32" stroke="#231815" stroke-width="1.15" />
<line x1="850.52" y1="915.00" x2="850.52" y2="925.48" stroke="#231815" stroke-width="1.15" />
<line x1="850.52" y1="929.32" x2="850.52" y2="939.80" stroke="#231815" stroke-width="1.15" />
<text x="819.91" y="932.44" font-size="14" font-family='"Liberation Sans", "Noto Sans CJK SC", sans-serif' fill="#231815" text-anchor="middle" textLength="17.28" lengthAdjust="spacingAndGlyphs" letter-spacing="1.54"  stroke="#231815" stroke-width="0.2">20</text>
<line x1="808.30" y1="945.10" x2="861.40" y2="945.10" stroke="#231815" stroke-width="1.15" />
<line x1="808.30" y1="970.30" x2="861.40" y2="970.30" stroke="#231815" stroke-width="1.15" />
<line x1="828.90" y1="945.10" x2="828.90" y2="970.30" stroke="#231815" stroke-width="1.15" />
<line x1="836.20" y1="945.10" x2="836.20" y2="970.30" stroke="#231815" stroke-width="1.15" />
<line x1="861.40" y1="945.10" x2="861.40" y2="970.30" stroke="#231815" stroke-width="1.15" />
<circle cx="848.80" cy="957.70" r="12.00" fill="none" stroke="#231815" stroke-width="1.15"/>
<line x1="836.20" y1="955.75" x2="846.85" y2="955.75" stroke="#231815" stroke-width="1.15" />
<line x1="850.75" y1="955.75" x2="861.40" y2="955.75" stroke="#231815" stroke-width="1.15" />
<line x1="846.85" y1="945.10" x2="846.85" y2="955.75" stroke="#231815" stroke-width="1.15" />
<line x1="846.85" y1="959.65" x2="846.85" y2="970.30" stroke="#231815" stroke-width="1.15" />
<line x1="836.20" y1="959.65" x2="846.85" y2="959.65" stroke="#231815" stroke-width="1.15" />
<line x1="850.75" y1="959.65" x2="861.40" y2="959.65" stroke="#231815" stroke-width="1.15" />
<line x1="850.75" y1="945.10" x2="850.75" y2="955.75" stroke="#231815" stroke-width="1.15" />
<line x1="850.75" y1="959.65" x2="850.75" y2="970.30" stroke="#231815" stroke-width="1.15" />
<text x="819.91" y="962.74" font-size="14" font-family='"Liberation Sans", "Noto Sans CJK SC", sans-serif' fill="#231815" text-anchor="middle" textLength="17.28" lengthAdjust="spacingAndGlyphs" letter-spacing="1.54"  stroke="#231815" stroke-width="0.2">21</text>
<line x1="861.90" y1="927.40" x2="887.00" y2="927.40" stroke="#231815" stroke-width="2" />
<circle cx="887.00" cy="927.40" r="4.10" fill="#231815"/>
<line x1="861.90" y1="958.40" x2="887.00" y2="958.40" stroke="#231815" stroke-width="2" />
<circle cx="887.00" cy="958.40" r="4.10" fill="#231815"/>
<line x1="865.50" y1="920.00" x2="874.30" y2="920.00" stroke="#231815" stroke-width="1.3" />
<line x1="869.90" y1="915.60" x2="869.90" y2="924.40" stroke="#231815" stroke-width="1.3" />
<line x1="865.50" y1="964.70" x2="874.30" y2="964.70" stroke="#231815" stroke-width="1.3" />
<text x="886.70" y="948.50" font-size="13.5" font-family='"Liberation Sans", "Noto Sans CJK SC", sans-serif' fill="#231815" textLength="7.20" lengthAdjust="spacingAndGlyphs"  stroke="#231815" stroke-width="0.2">V</text>
<line x1="915.50" y1="913.70" x2="968.20" y2="913.70" stroke="#231815" stroke-width="1.15" />
<line x1="915.50" y1="939.30" x2="968.20" y2="939.30" stroke="#231815" stroke-width="1.15" />
<line x1="935.90" y1="913.70" x2="935.90" y2="939.30" stroke="#231815" stroke-width="1.15" />
<line x1="942.60" y1="913.70" x2="942.60" y2="939.30" stroke="#231815" stroke-width="1.15" />
<line x1="968.20" y1="913.70" x2="968.20" y2="939.30" stroke="#231815" stroke-width="1.15" />
<circle cx="955.40" cy="926.50" r="12.20" fill="none" stroke="#231815" stroke-width="1.15"/>
<line x1="942.60" y1="924.52" x2="953.42" y2="924.52" stroke="#231815" stroke-width="1.15" />
<line x1="957.38" y1="924.52" x2="968.20" y2="924.52" stroke="#231815" stroke-width="1.15" />
<line x1="953.42" y1="913.70" x2="953.42" y2="924.52" stroke="#231815" stroke-width="1.15" />
<line x1="953.42" y1="928.48" x2="953.42" y2="939.30" stroke="#231815" stroke-width="1.15" />
<line x1="942.60" y1="928.48" x2="953.42" y2="928.48" stroke="#231815" stroke-width="1.15" />
<line x1="957.38" y1="928.48" x2="968.20" y2="928.48" stroke="#231815" stroke-width="1.15" />
<line x1="957.38" y1="913.70" x2="957.38" y2="924.52" stroke="#231815" stroke-width="1.15" />
<line x1="957.38" y1="928.48" x2="957.38" y2="939.30" stroke="#231815" stroke-width="1.15" />
<text x="925.81" y="931.54" font-size="14" font-family='"Liberation Sans", "Noto Sans CJK SC", sans-serif' fill="#231815" text-anchor="middle" textLength="17.28" lengthAdjust="spacingAndGlyphs" letter-spacing="1.54"  stroke="#231815" stroke-width="0.2">19</text>
<line x1="915.50" y1="944.40" x2="968.20" y2="944.40" stroke="#231815" stroke-width="1.15" />
<line x1="915.50" y1="970.00" x2="968.20" y2="970.00" stroke="#231815" stroke-width="1.15" />
<line x1="935.90" y1="944.40" x2="935.90" y2="970.00" stroke="#231815" stroke-width="1.15" />
<line x1="942.60" y1="944.40" x2="942.60" y2="970.00" stroke="#231815" stroke-width="1.15" />
<line x1="968.20" y1="944.40" x2="968.20" y2="970.00" stroke="#231815" stroke-width="1.15" />
<circle cx="955.40" cy="957.20" r="12.20" fill="none" stroke="#231815" stroke-width="1.15"/>
<line x1="942.60" y1="955.22" x2="953.42" y2="955.22" stroke="#231815" stroke-width="1.15" />
<line x1="957.38" y1="955.22" x2="968.20" y2="955.22" stroke="#231815" stroke-width="1.15" />
<line x1="953.42" y1="944.40" x2="953.42" y2="955.22" stroke="#231815" stroke-width="1.15" />
<line x1="953.42" y1="959.18" x2="953.42" y2="970.00" stroke="#231815" stroke-width="1.15" />
<line x1="942.60" y1="959.18" x2="953.42" y2="959.18" stroke="#231815" stroke-width="1.15" />
<line x1="957.38" y1="959.18" x2="968.20" y2="959.18" stroke="#231815" stroke-width="1.15" />
<line x1="957.38" y1="944.40" x2="957.38" y2="955.22" stroke="#231815" stroke-width="1.15" />
<line x1="957.38" y1="959.18" x2="957.38" y2="970.00" stroke="#231815" stroke-width="1.15" />
<text x="925.81" y="962.24" font-size="14" font-family='"Liberation Sans", "Noto Sans CJK SC", sans-serif' fill="#231815" text-anchor="middle" textLength="17.28" lengthAdjust="spacingAndGlyphs" letter-spacing="1.54"  stroke="#231815" stroke-width="0.2">21</text>
<line x1="968.30" y1="925.80" x2="994.20" y2="925.80" stroke="#231815" stroke-width="2" />
<circle cx="994.20" cy="925.80" r="4.10" fill="#231815"/>
<line x1="968.30" y1="957.00" x2="994.20" y2="957.00" stroke="#231815" stroke-width="2" />
<circle cx="994.20" cy="957.00" r="4.10" fill="#231815"/>
<line x1="971.90" y1="918.60" x2="980.70" y2="918.60" stroke="#231815" stroke-width="1.3" />
<line x1="976.30" y1="914.20" x2="976.30" y2="923.00" stroke="#231815" stroke-width="1.3" />
<line x1="971.90" y1="963.50" x2="980.70" y2="963.50" stroke="#231815" stroke-width="1.3" />
<text x="992.30" y="946.80" font-size="13" font-family='"Liberation Sans", "Noto Sans CJK SC", sans-serif' fill="#231815" textLength="14.20" lengthAdjust="spacingAndGlyphs"  stroke="#231815" stroke-width="0.2">mA</text>
<rect x="809.40" y="1009.00" width="209.90" height="117.50" fill="none" stroke="#231815" stroke-width="2.4"/>
<line x1="809.40" y1="1037.00" x2="1019.30" y2="1037.00" stroke="#231815" stroke-width="1.4" />
<text x="914.10" y="1031.60" font-size="16.9" font-family='"Liberation Serif", "Noto Serif CJK SC", serif' fill="#231815" text-anchor="middle" font-weight="300" textLength="68.60" lengthAdjust="spacing">流量输入</text>
<line x1="809.40" y1="1054.40" x2="861.90" y2="1054.40" stroke="#231815" stroke-width="1.15" />
<line x1="809.40" y1="1079.20" x2="861.90" y2="1079.20" stroke="#231815" stroke-width="1.15" />
<line x1="829.80" y1="1054.40" x2="829.80" y2="1079.20" stroke="#231815" stroke-width="1.15" />
<line x1="837.10" y1="1054.40" x2="837.10" y2="1079.20" stroke="#231815" stroke-width="1.15" />
<line x1="861.90" y1="1054.40" x2="861.90" y2="1079.20" stroke="#231815" stroke-width="1.15" />
<circle cx="849.50" cy="1066.80" r="11.80" fill="none" stroke="#231815" stroke-width="1.15"/>
<line x1="837.10" y1="1064.88" x2="847.58" y2="1064.88" stroke="#231815" stroke-width="1.15" />
<line x1="851.42" y1="1064.88" x2="861.90" y2="1064.88" stroke="#231815" stroke-width="1.15" />
<line x1="847.58" y1="1054.40" x2="847.58" y2="1064.88" stroke="#231815" stroke-width="1.15" />
<line x1="847.58" y1="1068.72" x2="847.58" y2="1079.20" stroke="#231815" stroke-width="1.15" />
<line x1="837.10" y1="1068.72" x2="847.58" y2="1068.72" stroke="#231815" stroke-width="1.15" />
<line x1="851.42" y1="1068.72" x2="861.90" y2="1068.72" stroke="#231815" stroke-width="1.15" />
<line x1="851.42" y1="1054.40" x2="851.42" y2="1064.88" stroke="#231815" stroke-width="1.15" />
<line x1="851.42" y1="1068.72" x2="851.42" y2="1079.20" stroke="#231815" stroke-width="1.15" />
<text x="820.71" y="1071.84" font-size="14" font-family='"Liberation Sans", "Noto Sans CJK SC", sans-serif' fill="#231815" text-anchor="middle" textLength="17.28" lengthAdjust="spacingAndGlyphs" letter-spacing="1.54"  stroke="#231815" stroke-width="0.2">23</text>
<line x1="809.40" y1="1084.60" x2="862.70" y2="1084.60" stroke="#231815" stroke-width="1.15" />
<line x1="809.40" y1="1110.20" x2="862.70" y2="1110.20" stroke="#231815" stroke-width="1.15" />
<line x1="829.80" y1="1084.60" x2="829.80" y2="1110.20" stroke="#231815" stroke-width="1.15" />
<line x1="837.10" y1="1084.60" x2="837.10" y2="1110.20" stroke="#231815" stroke-width="1.15" />
<line x1="862.70" y1="1084.60" x2="862.70" y2="1110.20" stroke="#231815" stroke-width="1.15" />
<circle cx="849.90" cy="1097.40" r="12.20" fill="none" stroke="#231815" stroke-width="1.15"/>
<line x1="837.10" y1="1095.42" x2="847.92" y2="1095.42" stroke="#231815" stroke-width="1.15" />
<line x1="851.88" y1="1095.42" x2="862.70" y2="1095.42" stroke="#231815" stroke-width="1.15" />
<line x1="847.92" y1="1084.60" x2="847.92" y2="1095.42" stroke="#231815" stroke-width="1.15" />
<line x1="847.92" y1="1099.38" x2="847.92" y2="1110.20" stroke="#231815" stroke-width="1.15" />
<line x1="837.10" y1="1099.38" x2="847.92" y2="1099.38" stroke="#231815" stroke-width="1.15" />
<line x1="851.88" y1="1099.38" x2="862.70" y2="1099.38" stroke="#231815" stroke-width="1.15" />
<line x1="851.88" y1="1084.60" x2="851.88" y2="1095.42" stroke="#231815" stroke-width="1.15" />
<line x1="851.88" y1="1099.38" x2="851.88" y2="1110.20" stroke="#231815" stroke-width="1.15" />
<text x="820.71" y="1102.44" font-size="14" font-family='"Liberation Sans", "Noto Sans CJK SC", sans-serif' fill="#231815" text-anchor="middle" textLength="17.28" lengthAdjust="spacingAndGlyphs" letter-spacing="1.54"  stroke="#231815" stroke-width="0.2">24</text>
<line x1="862.60" y1="1066.80" x2="888.40" y2="1066.80" stroke="#231815" stroke-width="2" />
<circle cx="888.40" cy="1066.80" r="4.10" fill="#231815"/>
<line x1="862.60" y1="1097.60" x2="888.40" y2="1097.60" stroke="#231815" stroke-width="2" />
<circle cx="888.40" cy="1097.60" r="4.10" fill="#231815"/>
<line x1="866.00" y1="1059.20" x2="874.80" y2="1059.20" stroke="#231815" stroke-width="1.3" />
<line x1="870.40" y1="1054.80" x2="870.40" y2="1063.60" stroke="#231815" stroke-width="1.3" />
<line x1="866.00" y1="1103.90" x2="874.80" y2="1103.90" stroke="#231815" stroke-width="1.3" />
<text x="887.20" y="1087.20" font-size="13.5" font-family='"Liberation Sans", "Noto Sans CJK SC", sans-serif' fill="#231815" textLength="7.00" lengthAdjust="spacingAndGlyphs"  stroke="#231815" stroke-width="0.2">V</text>
<line x1="917.10" y1="1052.90" x2="969.80" y2="1052.90" stroke="#231815" stroke-width="1.15" />
<line x1="917.10" y1="1078.50" x2="969.80" y2="1078.50" stroke="#231815" stroke-width="1.15" />
<line x1="937.50" y1="1052.90" x2="937.50" y2="1078.50" stroke="#231815" stroke-width="1.15" />
<line x1="944.20" y1="1052.90" x2="944.20" y2="1078.50" stroke="#231815" stroke-width="1.15" />
<line x1="969.80" y1="1052.90" x2="969.80" y2="1078.50" stroke="#231815" stroke-width="1.15" />
<circle cx="957.00" cy="1065.70" r="12.20" fill="none" stroke="#231815" stroke-width="1.15"/>
<line x1="944.20" y1="1063.72" x2="955.02" y2="1063.72" stroke="#231815" stroke-width="1.15" />
<line x1="958.98" y1="1063.72" x2="969.80" y2="1063.72" stroke="#231815" stroke-width="1.15" />
<line x1="955.02" y1="1052.90" x2="955.02" y2="1063.72" stroke="#231815" stroke-width="1.15" />
<line x1="955.02" y1="1067.68" x2="955.02" y2="1078.50" stroke="#231815" stroke-width="1.15" />
<line x1="944.20" y1="1067.68" x2="955.02" y2="1067.68" stroke="#231815" stroke-width="1.15" />
<line x1="958.98" y1="1067.68" x2="969.80" y2="1067.68" stroke="#231815" stroke-width="1.15" />
<line x1="958.98" y1="1052.90" x2="958.98" y2="1063.72" stroke="#231815" stroke-width="1.15" />
<line x1="958.98" y1="1067.68" x2="958.98" y2="1078.50" stroke="#231815" stroke-width="1.15" />
<text x="927.41" y="1070.74" font-size="14" font-family='"Liberation Sans", "Noto Sans CJK SC", sans-serif' fill="#231815" text-anchor="middle" textLength="17.28" lengthAdjust="spacingAndGlyphs" letter-spacing="1.54"  stroke="#231815" stroke-width="0.2">22</text>
<line x1="917.10" y1="1083.70" x2="969.80" y2="1083.70" stroke="#231815" stroke-width="1.15" />
<line x1="917.10" y1="1109.30" x2="969.80" y2="1109.30" stroke="#231815" stroke-width="1.15" />
<line x1="937.50" y1="1083.70" x2="937.50" y2="1109.30" stroke="#231815" stroke-width="1.15" />
<line x1="944.20" y1="1083.70" x2="944.20" y2="1109.30" stroke="#231815" stroke-width="1.15" />
<line x1="969.80" y1="1083.70" x2="969.80" y2="1109.30" stroke="#231815" stroke-width="1.15" />
<circle cx="957.00" cy="1096.50" r="12.20" fill="none" stroke="#231815" stroke-width="1.15"/>
<line x1="944.20" y1="1094.52" x2="955.02" y2="1094.52" stroke="#231815" stroke-width="1.15" />
<line x1="958.98" y1="1094.52" x2="969.80" y2="1094.52" stroke="#231815" stroke-width="1.15" />
<line x1="955.02" y1="1083.70" x2="955.02" y2="1094.52" stroke="#231815" stroke-width="1.15" />
<line x1="955.02" y1="1098.48" x2="955.02" y2="1109.30" stroke="#231815" stroke-width="1.15" />
<line x1="944.20" y1="1098.48" x2="955.02" y2="1098.48" stroke="#231815" stroke-width="1.15" />
<line x1="958.98" y1="1098.48" x2="969.80" y2="1098.48" stroke="#231815" stroke-width="1.15" />
<line x1="958.98" y1="1083.70" x2="958.98" y2="1094.52" stroke="#231815" stroke-width="1.15" />
<line x1="958.98" y1="1098.48" x2="958.98" y2="1109.30" stroke="#231815" stroke-width="1.15" />
<text x="927.41" y="1101.54" font-size="14" font-family='"Liberation Sans", "Noto Sans CJK SC", sans-serif' fill="#231815" text-anchor="middle" textLength="17.28" lengthAdjust="spacingAndGlyphs" letter-spacing="1.54"  stroke="#231815" stroke-width="0.2">24</text>
<line x1="969.60" y1="1065.00" x2="995.60" y2="1065.00" stroke="#231815" stroke-width="2" />
<circle cx="995.60" cy="1065.00" r="4.10" fill="#231815"/>
<line x1="969.60" y1="1096.20" x2="995.60" y2="1096.20" stroke="#231815" stroke-width="2" />
<circle cx="995.60" cy="1096.20" r="4.10" fill="#231815"/>
<line x1="973.10" y1="1057.80" x2="981.90" y2="1057.80" stroke="#231815" stroke-width="1.3" />
<line x1="977.50" y1="1053.40" x2="977.50" y2="1062.20" stroke="#231815" stroke-width="1.3" />
<line x1="973.10" y1="1102.40" x2="981.90" y2="1102.40" stroke="#231815" stroke-width="1.3" />
<text x="993.40" y="1085.40" font-size="13" font-family='"Liberation Sans", "Noto Sans CJK SC", sans-serif' fill="#231815" textLength="14.20" lengthAdjust="spacingAndGlyphs"  stroke="#231815" stroke-width="0.2">mA</text>
</svg>
</body></html>
